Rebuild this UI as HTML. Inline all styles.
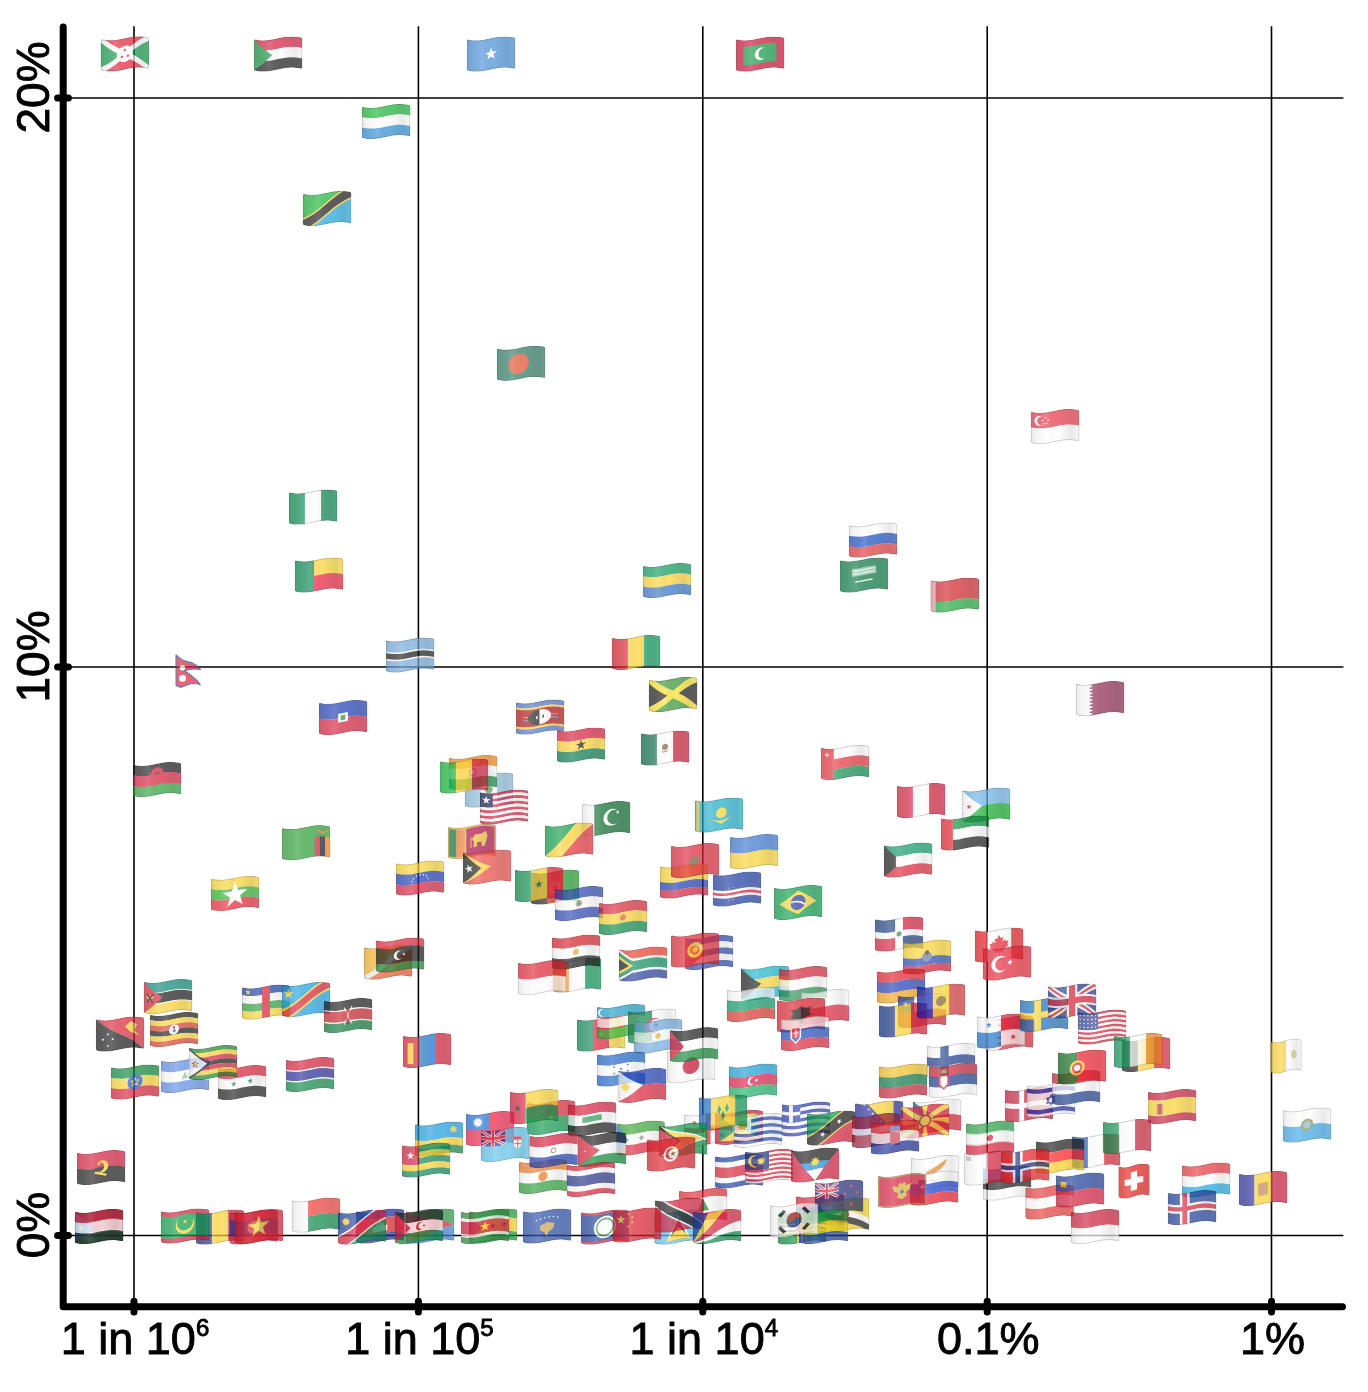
<!DOCTYPE html>
<html><head><meta charset="utf-8"><title>flags</title>
<style>
html,body{margin:0;padding:0;background:#fff}
svg{display:block}
.t text{font-family:"Liberation Sans",sans-serif;font-size:45px;fill:#000;stroke:#000;stroke-width:.9px}
.t .y{font-size:46px}
.t .s{font-size:24px}
.o{fill:url(#sh);stroke:#000;stroke-opacity:.24;stroke-width:1.8}
</style></head><body>
<svg width="1368" height="1392" viewBox="0 0 1368 1392">
<rect width="1368" height="1392" fill="#fff"/>
<defs><polygon id="pc" points="0.0,4.5 0.5,3.4 1.6,3.2 5.4,3.8 9.2,4.0 12.9,3.9 16.7,3.4 20.5,2.7 24.3,1.9 28.1,1.1 31.9,0.4 35.6,0.1 39.4,0.0 43.2,0.3 47.0,0.9 48.1,1.7 48.6,2.9 48.6,30.9 48.1,32.0 47.0,32.1 43.2,31.5 39.4,31.2 35.7,31.3 31.9,31.6 28.1,32.3 24.3,33.1 20.5,33.9 16.7,34.6 13.0,35.1 9.2,35.2 5.4,35.0 1.6,34.4 0.5,33.7 0.0,32.5"/><polygon id="pd" points="0.0,4.5 0.5,3.4 1.6,3.4 3.9,3.8 6.3,4.0 8.6,3.8 11.0,3.4 13.3,2.7 15.7,1.9 18.0,1.1 20.3,0.5 22.7,0.1 25.0,0.0 27.4,0.3 29.7,0.8 30.8,1.7 31.3,2.9 31.3,30.9 30.8,32.0 29.7,32.0 27.4,31.5 25.0,31.2 22.7,31.3 20.3,31.7 18.0,32.3 15.7,33.1 13.3,33.9 11.0,34.6 8.6,35.0 6.3,35.2 3.9,35.0 1.6,34.6 0.5,33.7 0.0,32.5"/><clipPath id="c"><use href="#pc"/></clipPath><clipPath id="d"><use href="#pd"/></clipPath></defs>
<defs><linearGradient id="sh" x1="0" y1="0" x2="1" y2="0"><stop offset="0" stop-color="#000" stop-opacity=".14"/><stop offset=".1" stop-color="#000" stop-opacity=".06"/><stop offset=".32" stop-color="#fff" stop-opacity=".1"/><stop offset=".55" stop-color="#000" stop-opacity="0"/><stop offset=".85" stop-color="#000" stop-opacity=".12"/><stop offset="1" stop-color="#000" stop-opacity=".03"/></linearGradient></defs>
<g stroke="#000" stroke-width="1.6"><line x1="134.0" y1="26.3" x2="134.0" y2="1306.7"/><line x1="418.4" y1="26.3" x2="418.4" y2="1306.7"/><line x1="702.8" y1="26.3" x2="702.8" y2="1306.7"/><line x1="987.2" y1="26.3" x2="987.2" y2="1306.7"/><line x1="1271.5" y1="26.3" x2="1271.5" y2="1306.7"/><line x1="63.2" y1="98.0" x2="1343.4" y2="98.0"/><line x1="63.2" y1="667.0" x2="1343.4" y2="667.0"/><line x1="63.2" y1="1235.5" x2="1343.4" y2="1235.5"/></g>
<g id="flags">
<g transform="translate(100.6,36.3)" opacity="0.72" clip-path="url(#c)"><polygon points="0,2.9 6.1,3.8 12.2,3.9 18.2,3.2 24.3,1.9 30.4,0.7 36.5,0 42.5,0.3 48.6,1.3 48.6,32.5 42.5,31.5 36.5,31.2 30.4,31.9 24.3,33.1 18.2,34.4 12.2,35.1 6.1,35 0,34.1" fill="#149A48"/><polygon points="48.6,1.3 42.5,4.2 36.5,7.8 30.4,12.4 24.3,17.5 18.2,14.9 12.2,11.7 6.1,7.7 0,2.9 6.1,3.8 12.2,3.9 18.2,3.2 24.3,1.9 30.4,0.7 36.5,0 42.5,0.3" fill="#E4253A"/><polygon points="48.6,32.5 42.5,27.6 36.5,23.4 30.4,20.2 24.3,17.5 18.2,22.7 12.2,27.3 6.1,31.1 0,34.1 6.1,35 12.2,35.1 18.2,34.4 24.3,33.1 30.4,31.9 36.5,31.2 42.5,31.5" fill="#E4253A"/><polygon points="4.6,3.7 0,2.9 0,5.9 6.3,10.9 12.6,14.9 18.8,18.1 25.1,20.8 31.4,23.6 37.7,27.2 44,31.6 48.6,32.5 48.6,29.5 42.3,24.4 36,20.2 29.8,16.9 23.5,14.2 17.2,11.4 10.9,8" fill="#FFFFFF"/><polygon points="44,0.4 37.7,4 31.4,8.6 25.1,13.8 18.8,19.2 12.6,24.1 6.3,28.1 0,31.2 0,34.1 4.6,34.9 10.9,31.1 17.2,26.5 23.5,21.2 29.8,15.8 36,11.1 42.3,7.2 48.6,4.2 48.6,1.3" fill="#FFFFFF"/><polygon points="24.3,25.6 21.2,25.7 18.6,24.4 16.8,22.1 16.2,19.1 16.8,15.9 18.6,13 21.2,10.7 24.3,9.4 27.4,9.3 30,10.6 31.8,12.9 32.4,16 31.8,19.2 30,22.1 27.4,24.3" fill="#FFFFFF"/><polygon points="24.3,15 23.8,15 23.4,14.8 23.1,14.5 23.1,14 23.1,13.5 23.4,13.1 23.8,12.7 24.3,12.5 24.8,12.5 25.2,12.7 25.5,13 25.5,13.5 25.5,14 25.2,14.4 24.8,14.8" fill="#E4253A"/><polygon points="21.4,21.9 20.9,21.9 20.5,21.7 20.2,21.4 20.1,20.9 20.2,20.4 20.5,19.9 20.9,19.6 21.4,19.4 21.9,19.4 22.3,19.6 22.5,19.9 22.6,20.4 22.5,20.9 22.3,21.3 21.9,21.7" fill="#E4253A"/><polygon points="27.2,20.6 26.7,20.6 26.3,20.4 26.1,20.1 26,19.6 26.1,19.1 26.3,18.7 26.7,18.3 27.2,18.1 27.7,18.1 28.1,18.3 28.4,18.6 28.5,19.1 28.4,19.6 28.1,20.1 27.7,20.4" fill="#E4253A"/><use href="#pc" class="o"/></g>
<g transform="translate(253.7,36.4)" opacity="0.72" clip-path="url(#c)"><polygon points="0,2.9 6.1,3.8 12.2,3.9 18.2,3.2 24.3,1.9 30.4,0.7 36.5,0 42.5,0.3 48.6,1.3 48.6,11.8 42.5,10.8 36.5,10.6 30.4,11.2 24.3,12.4 18.2,13.7 12.2,14.5 6.1,14.4 0,13.5" fill="#D8203F"/><polygon points="0,13.3 6.1,14.2 12.2,14.3 18.2,13.6 24.3,12.3 30.4,11.1 36.5,10.4 42.5,10.7 48.6,11.7 48.6,22.2 42.5,21.2 36.5,21 30.4,21.6 24.3,22.8 18.2,24.1 12.2,24.9 6.1,24.8 0,23.9" fill="#FFFFFF"/><polygon points="0,34.1 0,23.7 6.1,24.6 12.2,24.7 18.2,24 24.3,22.7 30.4,21.5 36.5,20.8 42.5,21.1 48.6,22.1 48.6,32.5 42.5,31.5 36.5,31.2 30.4,31.9 24.3,33.1 18.2,34.4 12.2,35.1 6.1,35" fill="#1E1E1E"/><polygon points="18.5,18.7 12.3,24.7 6.2,29.8 0,34.1 0,2.9 6.2,9 12.3,14.3" fill="#14913F"/><use href="#pc" class="o"/></g>
<g transform="translate(466.7,36.4)" opacity="0.72" clip-path="url(#c)"><polygon points="0,2.9 6.1,3.8 12.2,3.9 18.2,3.2 24.3,1.9 30.4,0.7 36.5,0 42.5,0.3 48.6,1.3 48.6,32.5 42.5,31.5 36.5,31.2 30.4,31.9 24.3,33.1 18.2,34.4 12.2,35.1 6.1,35 0,34.1" fill="#4A90D9"/><polygon points="28,21.8 24.3,20 20.6,23.3 21.9,18.8 18.4,16.8 22.8,15.8 24.3,11.3 25.8,15.1 30.2,14.4 26.7,17.7" fill="#FFFFFF"/><use href="#pc" class="o"/></g>
<g transform="translate(735.7,36.4)" opacity="0.72" clip-path="url(#c)"><polygon points="0,2.9 6.1,3.8 12.2,3.9 18.2,3.2 24.3,1.9 30.4,0.7 36.5,0 42.5,0.3 48.6,1.3 48.6,32.5 42.5,31.5 36.5,31.2 30.4,31.9 24.3,33.1 18.2,34.4 12.2,35.1 6.1,35 0,34.1" fill="#D2143A"/><polygon points="7.8,10.2 13.3,10.1 18.8,9.3 24.3,8.1 29.8,7 35.3,6.3 40.8,6.3 40.8,25.1 35.3,25 29.8,25.7 24.3,26.9 18.8,28 13.3,28.8 7.8,28.9" fill="#149A48"/><polygon points="25.3,23.5 22.9,23.6 20.9,22.7 19.5,20.9 19,18.6 19.5,16.1 20.9,13.8 22.9,12 25.3,11 27.7,11 29.7,12 31,13.8 31.5,16.1 31,18.5 29.7,20.8 27.7,22.5" fill="#FFFFFF"/><polygon points="28.1,22 26.1,22 24.3,21.2 23.2,19.8 22.8,17.8 23.2,15.7 24.3,13.7 26.1,12.2 28.1,11.4 30.1,11.4 31.8,12.3 33,13.9 33.4,15.8 33,17.9 31.8,19.8 30.1,21.2" fill="#149A48"/><use href="#pc" class="o"/></g>
<g transform="translate(361.7,103.9)" opacity="0.72" clip-path="url(#c)"><polygon points="0,2.9 6.1,3.8 12.2,3.9 18.2,3.2 24.3,1.9 30.4,0.7 36.5,0 42.5,0.3 48.6,1.3 48.6,11.8 42.5,10.8 36.5,10.6 30.4,11.2 24.3,12.4 18.2,13.7 12.2,14.5 6.1,14.4 0,13.5" fill="#1EB53A"/><polygon points="0,13.3 6.1,14.2 12.2,14.3 18.2,13.6 24.3,12.3 30.4,11.1 36.5,10.4 42.5,10.7 48.6,11.7 48.6,22.2 42.5,21.2 36.5,21 30.4,21.6 24.3,22.8 18.2,24.1 12.2,24.9 6.1,24.8 0,23.9" fill="#FFFFFF"/><polygon points="0,34.1 0,23.7 6.1,24.6 12.2,24.7 18.2,24 24.3,22.7 30.4,21.5 36.5,20.8 42.5,21.1 48.6,22.1 48.6,32.5 42.5,31.5 36.5,31.2 30.4,31.9 24.3,33.1 18.2,34.4 12.2,35.1 6.1,35" fill="#2E8FD6"/><use href="#pc" class="o"/></g>
<g transform="translate(302.7,190.9)" opacity="0.72" clip-path="url(#c)"><polygon points="48.6,1.3 42.5,4.2 36.5,7.8 30.4,12.4 24.3,17.5 18.2,22.7 12.2,27.3 6.1,31.1 0,34.1 0,2.9 6.1,3.8 12.2,3.9 18.2,3.2 24.3,1.9 30.4,0.7 36.5,0 42.5,0.3" fill="#1EB53A"/><polygon points="48.6,32.5 42.5,31.5 36.5,31.2 30.4,31.9 24.3,33.1 18.2,34.4 12.2,35.1 6.1,35 0,34.1 6.1,31.1 12.2,27.3 18.2,22.7 24.3,17.5 30.4,12.4 36.5,7.8 42.5,4.2 48.6,1.3" fill="#24A8E0"/><polygon points="38.2,0 32.7,3.8 27.3,8.3 21.8,12.9 16.4,17.5 10.9,21.5 5.5,24.8 0,27.5 0,34.1 5.2,35 10.4,35.2 15.9,31.2 21.3,26.7 26.8,22 32.2,17.6 37.7,13.7 43.1,10.5 48.6,7.9 48.6,1.3 43.4,0.4" fill="#FCD535"/><polygon points="41.1,0.1 35.2,3.9 29.4,8.4 23.5,13.4 17.6,18.3 11.7,22.8 5.9,26.4 0,29.3 0,34.1 3.8,34.8 7.5,35.1 13.4,31.3 19.2,26.6 25.1,21.6 31,16.7 36.9,12.4 42.7,8.9 48.6,6.1 48.6,1.3 44.8,0.6" fill="#1E1E1E"/><use href="#pc" class="o"/></g>
<g transform="translate(496.7,345.7)" opacity="0.72" clip-path="url(#c)"><polygon points="0,2.9 6.1,3.8 12.2,3.9 18.2,3.2 24.3,1.9 30.4,0.7 36.5,0 42.5,0.3 48.6,1.3 48.6,32.5 42.5,31.5 36.5,31.2 30.4,31.9 24.3,33.1 18.2,34.4 12.2,35.1 6.1,35 0,34.1" fill="#2F7B66"/><polygon points="21.9,28.3 17.9,28.3 14.6,26.6 12.4,23.5 11.6,19.6 12.4,15.6 14.6,12 17.9,9.3 21.9,7.7 25.8,7.6 29.2,9.2 31.4,12.2 32.2,16 31.4,20 29.2,23.8 25.8,26.7" fill="#E3512F"/><use href="#pc" class="o"/></g>
<g transform="translate(1030.7,408.9)" opacity="0.72" clip-path="url(#c)"><polygon points="0,2.9 6.1,3.8 12.2,3.9 18.2,3.2 24.3,1.9 30.4,0.7 36.5,0 42.5,0.3 48.6,1.3 48.6,17 42.5,16 36.5,15.8 30.4,16.4 24.3,17.6 18.2,18.9 12.2,19.7 6.1,19.6 0,18.7" fill="#E8394A"/><polygon points="0,34.1 0,18.5 6.1,19.4 12.2,19.5 18.2,18.8 24.3,17.5 30.4,16.3 36.5,15.6 42.5,15.9 48.6,16.9 48.6,32.5 42.5,31.5 36.5,31.2 30.4,31.9 24.3,33.1 18.2,34.4 12.2,35.1 6.1,35" fill="#FFFFFF"/><polygon points="8.7,17.1 6.8,16.6 5.2,15.4 4.1,13.6 3.8,11.7 4.1,9.8 5.2,8.3 6.8,7.4 8.7,7.1 10.7,7.5 12.3,8.5 13.4,10 13.7,11.9 13.4,13.9 12.3,15.6 10.7,16.7" fill="#FFFFFF"/><polygon points="10.7,16.3 9.1,16 7.7,15.1 6.8,13.6 6.5,12 6.8,10.4 7.7,9.1 9.1,8.2 10.7,7.9 12.4,8.1 13.7,8.9 14.7,10.2 15,11.8 14.7,13.4 13.7,14.9 12.4,15.9" fill="#E8394A"/><polygon points="14.6,9.8 14.3,9.8 14,9.6 13.9,9.4 13.8,9.1 13.9,8.8 14,8.5 14.3,8.3 14.6,8.2 14.9,8.3 15.1,8.4 15.3,8.6 15.4,8.9 15.3,9.2 15.1,9.5 14.9,9.7" fill="#FFFFFF"/><polygon points="11.7,12.5 11.4,12.5 11.1,12.3 10.9,12.1 10.9,11.8 10.9,11.5 11.1,11.2 11.4,11 11.7,11 12,11 12.2,11.2 12.4,11.4 12.4,11.7 12.4,12 12.2,12.3 12,12.5" fill="#FFFFFF"/><polygon points="17.5,11.9 17.2,11.9 16.9,11.7 16.8,11.5 16.7,11.2 16.8,10.9 16.9,10.6 17.2,10.4 17.5,10.3 17.8,10.3 18,10.4 18.2,10.7 18.3,11 18.2,11.3 18,11.6 17.8,11.8" fill="#FFFFFF"/><polygon points="13.1,15.6 12.8,15.5 12.6,15.4 12.4,15.1 12.3,14.8 12.4,14.5 12.6,14.3 12.8,14.1 13.1,14 13.4,14 13.7,14.2 13.8,14.4 13.9,14.7 13.8,15 13.7,15.3 13.4,15.5" fill="#FFFFFF"/><polygon points="16,15.2 15.7,15.2 15.5,15.1 15.3,14.8 15.3,14.6 15.3,14.2 15.5,14 15.7,13.8 16,13.7 16.3,13.7 16.6,13.8 16.8,14 16.8,14.3 16.8,14.6 16.6,14.9 16.3,15.1" fill="#FFFFFF"/><use href="#pc" class="o"/></g>
<g transform="translate(288.7,489.4)" opacity="0.72" clip-path="url(#c)"><polygon points="0,2.9 5.5,3.8 10.9,4 16.4,3.5 16.4,34.7 10.9,35.2 5.5,35 0,34.1" fill="#078A52"/><polygon points="16.2,3.5 21.7,2.5 27.1,1.3 32.6,0.3 32.6,31.5 27.1,32.5 21.7,33.7 16.2,34.7" fill="#FFFFFF"/><polygon points="32.4,0.4 37.8,0 43.2,0.3 48.6,1.3 48.6,32.5 43.2,31.5 37.8,31.2 32.4,31.6" fill="#078A52"/><use href="#pc" class="o"/></g>
<g transform="translate(848.7,522.4)" opacity="0.72" clip-path="url(#c)"><polygon points="0,2.9 6.1,3.8 12.2,3.9 18.2,3.2 24.3,1.9 30.4,0.7 36.5,0 42.5,0.3 48.6,1.3 48.6,11.8 42.5,10.8 36.5,10.6 30.4,11.2 24.3,12.4 18.2,13.7 12.2,14.5 6.1,14.4 0,13.5" fill="#FFFFFF"/><polygon points="0,13.3 6.1,14.2 12.2,14.3 18.2,13.6 24.3,12.3 30.4,11.1 36.5,10.4 42.5,10.7 48.6,11.7 48.6,22.2 42.5,21.2 36.5,21 30.4,21.6 24.3,22.8 18.2,24.1 12.2,24.9 6.1,24.8 0,23.9" fill="#1C4FC0"/><polygon points="0,34.1 0,23.7 6.1,24.6 12.2,24.7 18.2,24 24.3,22.7 30.4,21.5 36.5,20.8 42.5,21.1 48.6,22.1 48.6,32.5 42.5,31.5 36.5,31.2 30.4,31.9 24.3,33.1 18.2,34.4 12.2,35.1 6.1,35" fill="#E03A3C"/><use href="#pc" class="o"/></g>
<g transform="translate(839.7,557.4)" opacity="0.72" clip-path="url(#c)"><polygon points="0,2.9 6.1,3.8 12.2,3.9 18.2,3.2 24.3,1.9 30.4,0.7 36.5,0 42.5,0.3 48.6,1.3 48.6,32.5 42.5,31.5 36.5,31.2 30.4,31.9 24.3,33.1 18.2,34.4 12.2,35.1 6.1,35 0,34.1" fill="#0B7A45"/><polygon points="12.2,11.7 18.2,11 24.3,9.7 30.4,8.5 36.5,7.8 36.5,15.6 30.4,16.3 24.3,17.5 18.2,18.8 12.2,19.5" fill="#7FBF9F"/><polygon points="13.1,13.2 18.7,12.4 24.3,11.3 29.9,10.1 35.5,9.4 35.5,11 29.9,11.7 24.3,12.8 18.7,14 13.1,14.8" fill="#D8EEE0"/><polygon points="13.1,16.3 18.7,15.6 24.3,14.4 29.9,13.2 35.5,12.6 35.5,14.1 29.9,14.8 24.3,15.9 18.7,17.1 13.1,17.9" fill="#D8EEE0"/><polygon points="15.6,24.2 21.4,23.1 27.2,21.9 33,20.9 33,22.1 27.2,23.1 21.4,24.4 15.6,25.4" fill="#FFFFFF"/><use href="#pc" class="o"/></g>
<g transform="translate(294.7,557.4)" opacity="0.72" clip-path="url(#c)"><polygon points="0,2.9 4.9,3.7 9.8,4 14.7,3.7 19.6,2.9 19.6,34.1 14.7,34.9 9.8,35.2 4.9,34.9 0,34.1" fill="#078A52"/><polygon points="19.4,2.9 25.3,1.7 31.1,0.5 36.9,0 42.8,0.3 48.6,1.3 48.6,17 42.8,16 36.9,15.7 31.1,16.3 25.3,17.4 19.4,18.7" fill="#FCD535"/><polygon points="19.4,34.1 19.4,18.5 25.3,17.3 31.1,16.1 36.9,15.6 42.8,15.9 48.6,16.9 48.6,32.5 42.8,31.5 36.9,31.2 31.1,31.7 25.3,32.9" fill="#E8233C"/><use href="#pc" class="o"/></g>
<g transform="translate(642.7,562.9)" opacity="0.72" clip-path="url(#c)"><polygon points="0,2.9 6.1,3.8 12.2,3.9 18.2,3.2 24.3,1.9 30.4,0.7 36.5,0 42.5,0.3 48.6,1.3 48.6,11.8 42.5,10.8 36.5,10.6 30.4,11.2 24.3,12.4 18.2,13.7 12.2,14.5 6.1,14.4 0,13.5" fill="#109E60"/><polygon points="0,13.3 6.1,14.2 12.2,14.3 18.2,13.6 24.3,12.3 30.4,11.1 36.5,10.4 42.5,10.7 48.6,11.7 48.6,22.2 42.5,21.2 36.5,21 30.4,21.6 24.3,22.8 18.2,24.1 12.2,24.9 6.1,24.8 0,23.9" fill="#FCD535"/><polygon points="0,34.1 0,23.7 6.1,24.6 12.2,24.7 18.2,24 24.3,22.7 30.4,21.5 36.5,20.8 42.5,21.1 48.6,22.1 48.6,32.5 42.5,31.5 36.5,31.2 30.4,31.9 24.3,33.1 18.2,34.4 12.2,35.1 6.1,35" fill="#3A75C4"/><use href="#pc" class="o"/></g>
<g transform="translate(930.4,577.4)" opacity="0.72" clip-path="url(#c)"><polygon points="0,2.9 6.1,3.8 12.2,3.9 18.2,3.2 24.3,1.9 30.4,0.7 36.5,0 42.5,0.3 48.6,1.3 48.6,22.2 42.5,21.2 36.5,21 30.4,21.6 24.3,22.8 18.2,24.1 12.2,24.9 6.1,24.8 0,23.9" fill="#D22730"/><polygon points="0,34.1 0,23.7 6.1,24.6 12.2,24.7 18.2,24 24.3,22.7 30.4,21.5 36.5,20.8 42.5,21.1 48.6,22.1 48.6,32.5 42.5,31.5 36.5,31.2 30.4,31.9 24.3,33.1 18.2,34.4 12.2,35.1 6.1,35" fill="#1FAA3C"/><polygon points="0,2.9 5.3,3.8 5.3,35 0,34.1" fill="#EBA0A6"/><use href="#pc" class="o"/></g>
<g transform="translate(611.7,634.9)" opacity="0.72" clip-path="url(#c)"><polygon points="0,2.9 5.5,3.8 10.9,4 16.4,3.5 16.4,34.7 10.9,35.2 5.5,35 0,34.1" fill="#D8222F"/><polygon points="16.2,3.5 21.7,2.5 27.1,1.3 32.6,0.3 32.6,31.5 27.1,32.5 21.7,33.7 16.2,34.7" fill="#FCD535"/><polygon points="32.4,0.4 37.8,0 43.2,0.3 48.6,1.3 48.6,32.5 43.2,31.5 37.8,31.2 32.4,31.6" fill="#0A9A5A"/><use href="#pc" class="o"/></g>
<g transform="translate(385.7,637.4)" opacity="0.72" clip-path="url(#c)"><polygon points="0,2.9 6.1,3.8 12.2,3.9 18.2,3.2 24.3,1.9 30.4,0.7 36.5,0 42.5,0.3 48.6,1.3 48.6,32.5 42.5,31.5 36.5,31.2 30.4,31.9 24.3,33.1 18.2,34.4 12.2,35.1 6.1,35 0,34.1" fill="#75AADB"/><polygon points="0,14.2 6.1,15.1 12.2,15.2 18.2,14.4 24.3,13.1 30.4,11.9 36.5,11.3 42.5,11.5 48.6,12.5 48.6,21.2 42.5,20.2 36.5,20 30.4,20.6 24.3,21.9 18.2,23.1 12.2,23.9 6.1,23.8 0,22.9" fill="#FFFFFF"/><polygon points="0,15.7 6.1,16.6 12.2,16.7 18.2,16 24.3,14.7 30.4,13.5 36.5,12.8 42.5,13.1 48.6,14.1 48.6,19.7 42.5,18.7 36.5,18.4 30.4,19.1 24.3,20.3 18.2,21.6 12.2,22.3 6.1,22.2 0,21.3" fill="#1E1E1E"/><use href="#pc" class="o"/></g>
<g transform="translate(1075.7,680.9)" opacity="0.72" clip-path="url(#c)"><polygon points="0,2.9 6.1,3.8 12.2,3.9 18.2,3.2 24.3,1.9 30.4,0.7 36.5,0 42.5,0.3 48.6,1.3 48.6,32.5 42.5,31.5 36.5,31.2 30.4,31.9 24.3,33.1 18.2,34.4 12.2,35.1 6.1,35 0,34.1" fill="#8F2A50"/><polygon points="17.5,8.5 13.1,10.8 17.5,12 13.1,14.3 17.5,15.4 13.1,17.7 17.5,18.9 13.1,21.2 17.5,22.4 13.1,24.7 17.5,25.8 13.1,28.1 17.5,29.3 13.1,31.6 17.5,32.8 13.1,35.1 8.7,35.2 4.4,34.9 0,34.1 0,2.9 4.4,3.7 8.7,4 13.1,3.9 17.5,5 13.1,7.3" fill="#FFFFFF"/><use href="#pc" class="o"/></g>
<g transform="translate(648.7,676.9)" opacity="0.72" clip-path="url(#c)"><polygon points="0,2.9 6.1,3.8 12.2,3.9 18.2,3.2 24.3,1.9 30.4,0.7 36.5,0 42.5,0.3 48.6,1.3 48.6,32.5 42.5,31.5 36.5,31.2 30.4,31.9 24.3,33.1 18.2,34.4 12.2,35.1 6.1,35 0,34.1" fill="#1E1E1E"/><polygon points="48.6,1.3 42.5,4.2 36.5,7.8 30.4,12.4 24.3,17.5 18.2,14.9 12.2,11.7 6.1,7.7 0,2.9 6.1,3.8 12.2,3.9 18.2,3.2 24.3,1.9 30.4,0.7 36.5,0 42.5,0.3" fill="#369736"/><polygon points="48.6,32.5 42.5,27.6 36.5,23.4 30.4,20.2 24.3,17.5 18.2,22.7 12.2,27.3 6.1,31.1 0,34.1 6.1,35 12.2,35.1 18.2,34.4 24.3,33.1 30.4,31.9 36.5,31.2 42.5,31.5" fill="#369736"/><polygon points="5.8,3.8 0,2.9 0,6.6 6.1,11.5 12.2,15.5 18.4,18.6 24.5,21.3 30.6,24 36.7,27.3 42.8,31.5 48.6,32.5 48.6,28.8 42.5,23.8 36.4,19.7 30.2,16.4 24.1,13.7 18,11.1 11.9,7.9" fill="#FDE030"/><polygon points="42.8,0.3 36.7,3.9 30.6,8.5 24.5,13.6 18.4,18.9 12.2,23.6 6.1,27.4 0,30.4 0,34.1 5.8,35 11.9,31.2 18,26.6 24.1,21.3 30.2,16.2 36.4,11.6 42.5,7.9 48.6,5 48.6,1.3" fill="#FDE030"/><use href="#pc" class="o"/></g>
<g transform="translate(318.7,699.9)" opacity="0.72" clip-path="url(#c)"><polygon points="0,2.9 6.1,3.8 12.2,3.9 18.2,3.2 24.3,1.9 30.4,0.7 36.5,0 42.5,0.3 48.6,1.3 48.6,17 42.5,16 36.5,15.8 30.4,16.4 24.3,17.6 18.2,18.9 12.2,19.7 6.1,19.6 0,18.7" fill="#1F3FB5"/><polygon points="0,34.1 0,18.5 6.1,19.4 12.2,19.5 18.2,18.8 24.3,17.5 30.4,16.3 36.5,15.6 42.5,15.9 48.6,16.9 48.6,32.5 42.5,31.5 36.5,31.2 30.4,31.9 24.3,33.1 18.2,34.4 12.2,35.1 6.1,35" fill="#D8213F"/><polygon points="19.4,14.2 24.3,13.1 29.2,12.1 29.2,20.8 24.3,21.9 19.4,22.9" fill="#FFFFFF"/><polygon points="21.9,15.5 26.7,14.5 26.7,19.5 21.9,20.5" fill="#3E8E4A"/><use href="#pc" class="o"/></g>
<g transform="translate(515.7,699.4)" opacity="0.72" clip-path="url(#c)"><polygon points="0,2.9 6.1,3.8 12.2,3.9 18.2,3.2 24.3,1.9 30.4,0.7 36.5,0 42.5,0.3 48.6,1.3 48.6,6.5 42.5,5.5 36.5,5.2 30.4,5.9 24.3,7.1 18.2,8.4 12.2,9.1 6.1,9 0,8.1" fill="#5275C8"/><polygon points="0,8 6.1,8.9 12.2,9 18.2,8.2 24.3,7 30.4,5.7 36.5,5.1 42.5,5.3 48.6,6.3 48.6,8.4 42.5,7.4 36.5,7.2 30.4,7.8 24.3,9 18.2,10.3 12.2,11.1 6.1,11 0,10.1" fill="#FCD535"/><polygon points="0,10 6.1,10.9 12.2,10.9 18.2,10.2 24.3,8.9 30.4,7.7 36.5,7 42.5,7.3 48.6,8.3 48.6,25.6 42.5,24.6 36.5,24.3 30.4,25 24.3,26.2 18.2,27.5 12.2,28.2 6.1,28.1 0,27.2" fill="#B8161A"/><polygon points="0,27.1 6.1,28 12.2,28.1 18.2,27.3 24.3,26.1 30.4,24.8 36.5,24.2 42.5,24.4 48.6,25.4 48.6,27.5 42.5,26.5 36.5,26.3 30.4,26.9 24.3,28.1 18.2,29.4 12.2,30.2 6.1,30.1 0,29.2" fill="#FCD535"/><polygon points="0,34.1 0,29.1 6.1,30 12.2,30.1 18.2,29.3 24.3,28 30.4,26.8 36.5,26.2 42.5,26.4 48.6,27.4 48.6,32.5 42.5,31.5 36.5,31.2 30.4,31.9 24.3,33.1 18.2,34.4 12.2,35.1 6.1,35" fill="#5275C8"/><polygon points="7.3,17.7 13.1,17.6 19,16.8 24.8,15.5 30.6,14.4 36.5,13.8 42.3,14 42.3,14.9 36.5,14.7 30.6,15.3 24.8,16.4 19,17.7 13.1,18.5 7.3,18.6" fill="#C9A36A"/><polygon points="7.3,20.8 13.1,20.7 19,19.9 24.8,18.6 30.6,17.5 36.5,16.9 42.3,17.1 42.3,18 36.5,17.8 30.6,18.4 24.8,19.6 19,20.8 13.1,21.6 7.3,21.7" fill="#C9A36A"/><polygon points="12.2,19.5 13,16.6 15.6,13.9 19.4,11.6 23.8,10.1 23.8,25.1 19.4,25.5 15.6,24.5 13,22.3" fill="#1E1E1E"/><polygon points="35.5,15.7 34.6,18.6 32.1,21.3 28.3,23.6 23.8,25.1 23.8,10.1 28.3,9.7 32.1,10.7 34.6,12.9" fill="#FFFFFF"/><polygon points="20.4,16.8 21.9,16.5 21.9,19.6 20.4,19.9" fill="#FFFFFF"/><polygon points="26.7,15.4 28.2,15.1 28.2,18.2 26.7,18.5" fill="#1E1E1E"/><polygon points="9.7,23.7 9.1,23.5 8.6,23.2 8.3,22.7 8.2,22.1 8.3,21.5 8.6,21 9.1,20.7 9.7,20.5 10.3,20.7 10.8,21 11.2,21.5 11.3,22.1 11.2,22.7 10.8,23.2 10.3,23.5" fill="#3E5EB9"/><polygon points="39.9,19.7 39.3,19.6 38.7,19.2 38.4,18.7 38.3,18.1 38.4,17.5 38.7,17 39.3,16.7 39.9,16.6 40.4,16.7 41,17.1 41.3,17.6 41.4,18.2 41.3,18.8 41,19.3 40.4,19.6" fill="#3E5EB9"/><use href="#pc" class="o"/></g>
<g transform="translate(556.7,727.4)" opacity="0.72" clip-path="url(#c)"><polygon points="0,2.9 6.1,3.8 12.2,3.9 18.2,3.2 24.3,1.9 30.4,0.7 36.5,0 42.5,0.3 48.6,1.3 48.6,11.8 42.5,10.8 36.5,10.6 30.4,11.2 24.3,12.4 18.2,13.7 12.2,14.5 6.1,14.4 0,13.5" fill="#D8213F"/><polygon points="0,13.3 6.1,14.2 12.2,14.3 18.2,13.6 24.3,12.3 30.4,11.1 36.5,10.4 42.5,10.7 48.6,11.7 48.6,22.2 42.5,21.2 36.5,21 30.4,21.6 24.3,22.8 18.2,24.1 12.2,24.9 6.1,24.8 0,23.9" fill="#FCD535"/><polygon points="0,34.1 0,23.7 6.1,24.6 12.2,24.7 18.2,24 24.3,22.7 30.4,21.5 36.5,20.8 42.5,21.1 48.6,22.1 48.6,32.5 42.5,31.5 36.5,31.2 30.4,31.9 24.3,33.1 18.2,34.4 12.2,35.1 6.1,35" fill="#0A7A4D"/><polygon points="27.4,21.1 24.3,19.6 21.2,22.5 22.3,18.6 19.3,16.9 23.1,16.1 24.3,12.2 25.5,15.5 29.3,14.8 26.3,17.7" fill="#1E1E1E"/><use href="#pc" class="o"/></g>
<g transform="translate(640.7,730.4)" opacity="0.72" clip-path="url(#c)"><polygon points="0,2.9 5.5,3.8 10.9,4 16.4,3.5 16.4,34.7 10.9,35.2 5.5,35 0,34.1" fill="#0A6B4B"/><polygon points="16.2,3.5 21.7,2.5 27.1,1.3 32.6,0.3 32.6,31.5 27.1,32.5 21.7,33.7 16.2,34.7" fill="#FFFFFF"/><polygon points="32.4,0.4 37.8,0 43.2,0.3 48.6,1.3 48.6,32.5 43.2,31.5 37.8,31.2 32.4,31.6" fill="#D01F3C"/><polygon points="24.3,19.7 23.1,19.7 22.1,19.3 21.4,18.4 21.2,17.2 21.4,16 22.1,14.8 23.1,13.9 24.3,13.4 25.5,13.4 26.5,13.9 27.2,14.7 27.4,15.9 27.2,17.1 26.5,18.3 25.5,19.2" fill="#8A6A3A"/><polygon points="26.2,20.2 22.4,21 20.4,19.9 22.4,22.3 26.2,21.4 28.2,18.2" fill="#5A9A4A"/><use href="#pc" class="o"/></g>
<g transform="translate(820.7,744.9)" opacity="0.72" clip-path="url(#c)"><polygon points="13.1,3.9 19,3 24.9,1.7 30.9,0.6 36.8,0 42.7,0.3 48.6,1.3 48.6,11.8 42.7,10.8 36.8,10.5 30.9,11.1 24.9,12.3 19,13.5 13.1,14.4" fill="#FFFFFF"/><polygon points="13.1,14.3 19,13.4 24.9,12.1 30.9,11 36.8,10.4 42.7,10.7 48.6,11.7 48.6,22.2 42.7,21.2 36.8,20.9 30.9,21.5 24.9,22.7 19,23.9 13.1,24.8" fill="#E8333A"/><polygon points="13.1,35.1 13.1,24.7 19,23.8 24.9,22.5 30.9,21.4 36.8,20.8 42.7,21.1 48.6,22.1 48.6,32.5 42.7,31.5 36.8,31.2 30.9,31.8 24.9,32.9 19,34.2" fill="#118C4F"/><polygon points="0,2.9 4.4,3.7 8.7,4 13.1,3.9 13.1,35.1 8.7,35.2 4.4,34.9 0,34.1" fill="#E8333A"/><polygon points="6.3,13.2 5.7,10.7 3.2,9.7 5.7,9.4 6.3,7 7,9.5 9.4,10.2 7,10.8" fill="#FFFFFF"/><use href="#pc" class="o"/></g>
<g transform="translate(132.7,761.9)" opacity="0.72" clip-path="url(#c)"><polygon points="0,2.9 6.1,3.8 12.2,3.9 18.2,3.2 24.3,1.9 30.4,0.7 36.5,0 42.5,0.3 48.6,1.3 48.6,11.8 42.5,10.8 36.5,10.6 30.4,11.2 24.3,12.4 18.2,13.7 12.2,14.5 6.1,14.4 0,13.5" fill="#1E1E1E"/><polygon points="0,13.3 6.1,14.2 12.2,14.3 18.2,13.6 24.3,12.3 30.4,11.1 36.5,10.4 42.5,10.7 48.6,11.7 48.6,22.2 42.5,21.2 36.5,21 30.4,21.6 24.3,22.8 18.2,24.1 12.2,24.9 6.1,24.8 0,23.9" fill="#D8213F"/><polygon points="0,34.1 0,23.7 6.1,24.6 12.2,24.7 18.2,24 24.3,22.7 30.4,21.5 36.5,20.8 42.5,21.1 48.6,22.1 48.6,32.5 42.5,31.5 36.5,31.2 30.4,31.9 24.3,33.1 18.2,34.4 12.2,35.1 6.1,35" fill="#2FA23F"/><polygon points="30,5.3 29,8 31.8,7.6 29.9,9.9 32.4,10.7 29.9,12.2 31.8,13.8 29,14.4 30,16.8 27.5,16.2 27.4,19 25.4,17.5 24.3,20.3 23.2,18 21.2,20.4 21.1,17.6 18.6,19.1 19.6,16.4 16.8,16.8 18.7,14.5 16.2,13.8 18.7,12.3 16.8,10.6 19.6,10.1 18.6,7.7 21.1,8.2 21.2,5.4 23.2,6.9 24.3,4.1 25.4,6.4 27.4,4 27.5,6.8" fill="#D8213F"/><polygon points="24.3,17.5 22.3,17.5 20.5,16.8 19.4,15.3 19,13.3 19.4,11.2 20.5,9.3 22.3,7.7 24.3,6.9 26.3,6.8 28.1,7.6 29.2,9.1 29.6,11.1 29.2,13.2 28.1,15.1 26.3,16.6" fill="#D8213F"/><polygon points="24.3,15.3 23.1,15.3 22.1,14.9 21.4,14 21.2,12.9 21.4,11.6 22.1,10.5 23.1,9.6 24.3,9.1 25.5,9 26.5,9.5 27.2,10.4 27.4,11.5 27.2,12.8 26.5,13.9 25.5,14.8" fill="#8A2030"/><polygon points="0,13.3 6.1,14.2 12.2,14.3 18.2,13.6 24.3,12.3 30.4,11.1 36.5,10.4 42.5,10.6 48.6,11.6 48.6,22.3 42.5,21.3 36.5,21 30.4,21.7 24.3,22.9 18.2,24.2 12.2,24.9 6.1,24.8 0,23.9" fill="#D8213F"/><use href="#pc" class="o"/></g>
<g transform="translate(464.7,772.4)" opacity="0.72" clip-path="url(#c)"><polygon points="0,2.9 5.5,3.8 10.9,4 16.4,3.5 16.4,34.7 10.9,35.2 5.5,35 0,34.1" fill="#8DBEDB"/><polygon points="16.2,3.5 21.7,2.5 27.1,1.3 32.6,0.3 32.6,31.5 27.1,32.5 21.7,33.7 16.2,34.7" fill="#FFFFFF"/><polygon points="32.4,0.4 37.8,0 43.2,0.3 48.6,1.3 48.6,32.5 43.2,31.5 37.8,31.2 32.4,31.6" fill="#8DBEDB"/><polygon points="24.3,21.2 22.9,21.3 21.7,20.7 20.8,19.7 20.6,18.3 20.8,16.8 21.7,15.4 22.9,14.4 24.3,13.7 25.7,13.7 26.9,14.3 27.8,15.3 28,16.7 27.8,18.2 26.9,19.6 25.7,20.6" fill="#5E9B5E"/><use href="#pc" class="o"/></g>
<g transform="translate(448.7,754.9)" opacity="0.72" clip-path="url(#c)"><polygon points="0,2.9 6.1,3.8 12.2,3.9 18.2,3.2 24.3,1.9 30.4,0.7 36.5,0 42.5,0.3 48.6,1.3 48.6,11.8 42.5,10.8 36.5,10.6 30.4,11.2 24.3,12.4 18.2,13.7 12.2,14.5 6.1,14.4 0,13.5" fill="#F58A1F"/><polygon points="0,13.3 6.1,14.2 12.2,14.3 18.2,13.6 24.3,12.3 30.4,11.1 36.5,10.4 42.5,10.7 48.6,11.7 48.6,22.2 42.5,21.2 36.5,21 30.4,21.6 24.3,22.8 18.2,24.1 12.2,24.9 6.1,24.8 0,23.9" fill="#FFFFFF"/><polygon points="0,34.1 0,23.7 6.1,24.6 12.2,24.7 18.2,24 24.3,22.7 30.4,21.5 36.5,20.8 42.5,21.1 48.6,22.1 48.6,32.5 42.5,31.5 36.5,31.2 30.4,31.9 24.3,33.1 18.2,34.4 12.2,35.1 6.1,35" fill="#128A3C"/><polygon points="24.3,21.5 22.7,21.6 21.4,21 20.6,19.9 20.2,18.4 20.6,16.8 21.4,15.3 22.7,14.1 24.3,13.4 25.9,13.4 27.2,14 28,15.1 28.4,16.6 28,18.2 27.2,19.7 25.9,20.9" fill="#4A3FB5"/><polygon points="24.3,20.3 23.2,20.3 22.3,19.9 21.7,19.1 21.5,18.1 21.7,17 22.3,15.9 23.2,15.1 24.3,14.7 25.4,14.7 26.3,15.1 26.9,15.9 27.1,16.9 26.9,18 26.3,19 25.4,19.8" fill="#FFFFFF"/><use href="#pc" class="o"/></g>
<g transform="translate(439.7,758.4)" opacity="0.72" clip-path="url(#c)"><polygon points="0,2.9 5.5,3.8 10.9,4 16.4,3.5 16.4,34.7 10.9,35.2 5.5,35 0,34.1" fill="#14B53A"/><polygon points="16.2,3.5 21.7,2.5 27.1,1.3 32.6,0.3 32.6,31.5 27.1,32.5 21.7,33.7 16.2,34.7" fill="#FCD535"/><polygon points="32.4,0.4 37.8,0 43.2,0.3 48.6,1.3 48.6,32.5 43.2,31.5 37.8,31.2 32.4,31.6" fill="#D8213F"/><use href="#pc" class="o"/></g>
<g transform="translate(479.7,789.4)" opacity="0.72" clip-path="url(#c)"><polygon points="0,2.9 6.1,3.8 12.2,3.9 18.2,3.2 24.3,1.9 30.4,0.7 36.5,0 42.5,0.3 48.6,1.3 48.6,4.2 42.5,3.2 36.5,3 30.4,3.6 24.3,4.9 18.2,6.1 12.2,6.9 6.1,6.8 0,5.9" fill="#D8213F"/><polygon points="0,5.8 6.1,6.7 12.2,6.8 18.2,6 24.3,4.7 30.4,3.5 36.5,2.9 42.5,3.1 48.6,4.1 48.6,7.1 42.5,6.1 36.5,5.8 30.4,6.5 24.3,7.7 18.2,9 12.2,9.7 6.1,9.6 0,8.7" fill="#FFFFFF"/><polygon points="0,8.6 6.1,9.5 12.2,9.6 18.2,8.8 24.3,7.6 30.4,6.3 36.5,5.7 42.5,5.9 48.6,6.9 48.6,9.9 42.5,8.9 36.5,8.7 30.4,9.3 24.3,10.5 18.2,11.8 12.2,12.6 6.1,12.5 0,11.6" fill="#D8213F"/><polygon points="0,11.4 6.1,12.3 12.2,12.4 18.2,11.7 24.3,10.4 30.4,9.2 36.5,8.5 42.5,8.8 48.6,9.8 48.6,12.7 42.5,11.7 36.5,11.5 30.4,12.1 24.3,13.4 18.2,14.6 12.2,15.4 6.1,15.3 0,14.4" fill="#FFFFFF"/><polygon points="0,14.3 6.1,15.2 12.2,15.3 18.2,14.5 24.3,13.2 30.4,12 36.5,11.4 42.5,11.6 48.6,12.6 48.6,15.6 42.5,14.6 36.5,14.3 30.4,15 24.3,16.2 18.2,17.5 12.2,18.2 6.1,18.1 0,17.2" fill="#D8213F"/><polygon points="0,17.1 6.1,18 12.2,18.1 18.2,17.3 24.3,16.1 30.4,14.8 36.5,14.2 42.5,14.4 48.6,15.4 48.6,18.4 42.5,17.4 36.5,17.2 30.4,17.8 24.3,19 18.2,20.3 12.2,21.1 6.1,21 0,20.1" fill="#FFFFFF"/><polygon points="0,20 6.1,20.9 12.2,20.9 18.2,20.2 24.3,18.9 30.4,17.7 36.5,17 42.5,17.3 48.6,18.3 48.6,21.2 42.5,20.2 36.5,20 30.4,20.6 24.3,21.9 18.2,23.1 12.2,23.9 6.1,23.8 0,22.9" fill="#D8213F"/><polygon points="0,22.8 6.1,23.7 12.2,23.8 18.2,23 24.3,21.7 30.4,20.5 36.5,19.9 42.5,20.1 48.6,21.1 48.6,24.1 42.5,23.1 36.5,22.8 30.4,23.5 24.3,24.7 18.2,26 12.2,26.7 6.1,26.7 0,25.8" fill="#FFFFFF"/><polygon points="0,25.6 6.1,26.5 12.2,26.6 18.2,25.9 24.3,24.6 30.4,23.4 36.5,22.7 42.5,22.9 48.6,24 48.6,26.9 42.5,25.9 36.5,25.7 30.4,26.3 24.3,27.5 18.2,28.8 12.2,29.6 6.1,29.5 0,28.6" fill="#D8213F"/><polygon points="0,28.5 6.1,29.4 12.2,29.5 18.2,28.7 24.3,27.4 30.4,26.2 36.5,25.6 42.5,25.8 48.6,26.8 48.6,29.7 42.5,28.7 36.5,28.5 30.4,29.2 24.3,30.4 18.2,31.7 12.2,32.4 6.1,32.3 0,31.4" fill="#FFFFFF"/><polygon points="0,34.1 0,31.3 6.1,32.2 12.2,32.3 18.2,31.5 24.3,30.3 30.4,29 36.5,28.4 42.5,28.6 48.6,29.6 48.6,32.5 42.5,31.5 36.5,31.2 30.4,31.9 24.3,33.1 18.2,34.4 12.2,35.1 6.1,35" fill="#D8213F"/><polygon points="0,2.9 4.4,3.7 8.7,4 13.1,3.9 13.1,17.9 8.7,18 4.4,17.7 0,17" fill="#15204F"/><polygon points="9.1,14.5 6.6,12.6 4,14.2 4.9,11.3 2.4,9 5.5,9.4 6.6,6.5 7.6,9.6 10.7,9.7 8.2,11.5" fill="#FFFFFF"/><use href="#pc" class="o"/></g>
<g transform="translate(896.7,782.9)" opacity="0.72" clip-path="url(#c)"><polygon points="0,2.9 5.5,3.8 10.9,4 16.4,3.5 16.4,34.7 10.9,35.2 5.5,35 0,34.1" fill="#D8213F"/><polygon points="16.2,3.5 21.7,2.5 27.1,1.3 32.6,0.3 32.6,31.5 27.1,32.5 21.7,33.7 16.2,34.7" fill="#FFFFFF"/><polygon points="32.4,0.4 37.8,0 43.2,0.3 48.6,1.3 48.6,32.5 43.2,31.5 37.8,31.2 32.4,31.6" fill="#D8213F"/><use href="#pc" class="o"/></g>
<g transform="translate(961.7,787.4)" opacity="0.72" clip-path="url(#c)"><polygon points="0,2.9 6.1,3.8 12.2,3.9 18.2,3.2 24.3,1.9 30.4,0.7 36.5,0 42.5,0.3 48.6,1.3 48.6,17 42.5,16 36.5,15.8 30.4,16.4 24.3,17.6 18.2,18.9 12.2,19.7 6.1,19.6 0,18.7" fill="#6AB2E7"/><polygon points="0,34.1 0,18.5 6.1,19.4 12.2,19.5 18.2,18.8 24.3,17.5 30.4,16.3 36.5,15.6 42.5,15.9 48.6,16.9 48.6,32.5 42.5,31.5 36.5,31.2 30.4,31.9 24.3,33.1 18.2,34.4 12.2,35.1 6.1,35" fill="#12AD2B"/><polygon points="20.4,18.3 15.3,23.1 10.2,27.4 5.1,31 0,34.1 0,2.9 5.1,7.6 10.2,11.8 15.3,15.3" fill="#FFFFFF"/><polygon points="8.9,21.9 7.3,20.7 5.6,21.7 6.2,19.8 4.6,18.4 6.6,18.6 7.3,16.7 8,18.7 10,18.7 8.4,19.9" fill="#D8213F"/><use href="#pc" class="o"/></g>
<g transform="translate(694.7,797.4)" opacity="0.72" clip-path="url(#c)"><polygon points="0,2.9 6.1,3.8 12.2,3.9 18.2,3.2 24.3,1.9 30.4,0.7 36.5,0 42.5,0.3 48.6,1.3 48.6,32.5 42.5,31.5 36.5,31.2 30.4,31.9 24.3,33.1 18.2,34.4 12.2,35.1 6.1,35 0,34.1" fill="#1FAFC9"/><polygon points="26.7,20.7 24.7,20.7 23,20 21.8,18.5 21.4,16.6 21.8,14.4 23,12.5 24.7,10.9 26.7,10.1 28.8,10.1 30.5,10.9 31.6,12.5 32,14.5 31.6,16.5 30.5,18.4 28.8,19.9" fill="#FCD535"/><polygon points="17,22.7 21.9,24.6 26.7,26.3 31.6,22.6 36.5,19.4 31.6,21.1 26.7,23.2 21.9,23" fill="#FCD535"/><polygon points="1.5,3.2 4.9,3.7 4.9,34.9 1.5,34.4" fill="#D9C24A"/><use href="#pc" class="o"/></g>
<g transform="translate(581.7,800.9)" opacity="0.72" clip-path="url(#c)"><polygon points="0,2.9 6.1,3.8 12.2,3.9 18.2,3.2 24.3,1.9 30.4,0.7 36.5,0 42.5,0.3 48.6,1.3 48.6,32.5 42.5,31.5 36.5,31.2 30.4,31.9 24.3,33.1 18.2,34.4 12.2,35.1 6.1,35 0,34.1" fill="#0B6B2E"/><polygon points="0,2.9 4.2,3.6 8.4,4 12.6,3.9 12.6,35.1 8.4,35.2 4.2,34.8 0,34.1" fill="#FFFFFF"/><polygon points="30.1,24.7 26.9,24.7 24.2,23.5 22.3,21.1 21.7,18.1 22.3,14.7 24.2,11.6 26.9,9.1 30.1,7.9 33.4,8.1 36.1,9.7 37.9,12.4 38.6,15.6 37.9,18.8 36.1,21.6 33.4,23.6" fill="#FFFFFF"/><polygon points="32.7,23.1 29.9,23 27.6,21.8 26,19.8 25.5,17.2 26,14.4 27.6,11.7 29.9,9.7 32.7,8.8 35.4,9.1 37.7,10.5 39.3,12.9 39.8,15.6 39.3,18.4 37.7,20.7 35.4,22.3" fill="#0B6B2E"/><polygon points="37.2,13 36,12.2 34.7,13.1 35.1,11.6 33.9,10.8 35.5,10.6 36,9.1 36.5,10.6 38,10.6 36.8,11.5" fill="#FFFFFF"/><use href="#pc" class="o"/></g>
<g transform="translate(940.7,815.4)" opacity="0.72" clip-path="url(#c)"><polygon points="12.2,3.9 18.2,3.2 24.3,1.9 30.4,0.7 36.5,0 42.5,0.3 48.6,1.3 48.6,11.8 42.5,10.8 36.5,10.6 30.4,11.2 24.3,12.4 18.2,13.7 12.2,14.5" fill="#0A8A3C"/><polygon points="12.2,14.3 18.2,13.6 24.3,12.3 30.4,11.1 36.5,10.4 42.5,10.7 48.6,11.7 48.6,22.2 42.5,21.2 36.5,21 30.4,21.6 24.3,22.8 18.2,24.1 12.2,24.9" fill="#FFFFFF"/><polygon points="12.2,35.1 12.2,24.7 18.2,24 24.3,22.7 30.4,21.5 36.5,20.8 42.5,21.1 48.6,22.1 48.6,32.5 42.5,31.5 36.5,31.2 30.4,31.9 24.3,33.1 18.2,34.4" fill="#1E1E1E"/><polygon points="0,2.9 6.1,3.8 12.2,3.9 12.2,35.1 6.1,35 0,34.1" fill="#E8232E"/><use href="#pc" class="o"/></g>
<g transform="translate(544.7,822.4)" opacity="0.72" clip-path="url(#c)"><polygon points="32.1,0.4 26.7,6.6 21.4,12.9 16,19.1 10.7,24.8 5.3,29.8 0,34.1 0,2.9 5.3,3.8 10.7,4 16,3.5 21.4,2.5 26.7,1.4" fill="#14A04A"/><polygon points="32.1,0.4 37.6,0 43.1,0.3 48.6,1.3 43.3,5.5 37.9,10.4 32.6,15.9 27.2,22.1 21.9,28.4 16.5,34.7 11,35.2 5.5,35 0,34.1 5.3,29.8 10.7,24.8 16,19.1 21.4,12.9 26.7,6.6" fill="#FCD535"/><polygon points="48.6,32.5 43.3,31.5 37.9,31.2 32.6,31.5 27.2,32.5 21.9,33.6 16.5,34.7 21.9,28.4 27.2,22.1 32.6,15.9 37.9,10.4 43.3,5.5 48.6,1.3" fill="#E8333A"/><use href="#pc" class="o"/></g>
<g transform="translate(447.7,823.9)" opacity="0.72" clip-path="url(#c)"><polygon points="0,2.9 6.1,3.8 12.2,3.9 18.2,3.2 24.3,1.9 30.4,0.7 36.5,0 42.5,0.3 48.6,1.3 48.6,32.5 42.5,31.5 36.5,31.2 30.4,31.9 24.3,33.1 18.2,34.4 12.2,35.1 6.1,35 0,34.1" fill="#F2B632"/><polygon points="1.5,5.1 5.1,5.6 8.7,5.9 8.7,33.3 5.1,33.1 1.5,32.5" fill="#13773E"/><polygon points="8.7,5.9 12.9,5.7 17,5.2 17,32.7 12.9,33.2 8.7,33.3" fill="#E97730"/><polygon points="18.5,5 24.2,3.8 29.8,2.6 35.5,1.9 41.2,2 46.9,2.8 46.9,30.3 41.2,29.5 35.5,29.4 29.8,30.1 24.2,31.3 18.5,32.5" fill="#B0134C"/><polygon points="39.9,11.3 38.9,15.6 36.9,21.9 34,22 34,17.7 29.2,18.3 29.2,22.7 25.8,23.4 26.2,17.7 24.3,15 27.2,10.6 30.6,10 34,9.5 37.9,6.9" fill="#F2C03A"/><polygon points="22.8,13.4 23.8,13.2 23.8,23.8 22.8,24.1" fill="#F2C03A"/><use href="#pc" class="o"/></g>
<g transform="translate(281.7,825.1)" opacity="0.72" clip-path="url(#c)"><polygon points="0,2.9 6.1,3.8 12.2,3.9 18.2,3.2 24.3,1.9 30.4,0.7 36.5,0 42.5,0.3 48.6,1.3 48.6,32.5 42.5,31.5 36.5,31.2 30.4,31.9 24.3,33.1 18.2,34.4 12.2,35.1 6.1,35 0,34.1" fill="#2FA238"/><polygon points="33,11.5 38.4,11.2 38.4,31.2 33,31.5" fill="#E0283C"/><polygon points="38.2,11.2 43.6,11.6 43.6,31.6 38.2,31.2" fill="#1E1E1E"/><polygon points="43.4,11.6 48.6,12.5 48.6,32.5 43.4,31.6" fill="#F58A1F"/><polygon points="33,4 36.9,5 40.8,6.3 44.7,5.5 48.6,5 44.7,6.8 40.8,8.8 36.9,6.3" fill="#F07A1F"/><use href="#pc" class="o"/></g>
<g transform="translate(729.7,833.9)" opacity="0.72" clip-path="url(#c)"><polygon points="0,2.9 6.1,3.8 12.2,3.9 18.2,3.2 24.3,1.9 30.4,0.7 36.5,0 42.5,0.3 48.6,1.3 48.6,17 42.5,16 36.5,15.8 30.4,16.4 24.3,17.6 18.2,18.9 12.2,19.7 6.1,19.6 0,18.7" fill="#3C78D2"/><polygon points="0,34.1 0,18.5 6.1,19.4 12.2,19.5 18.2,18.8 24.3,17.5 30.4,16.3 36.5,15.6 42.5,15.9 48.6,16.9 48.6,32.5 42.5,31.5 36.5,31.2 30.4,31.9 24.3,33.1 18.2,34.4 12.2,35.1 6.1,35" fill="#FCD535"/><use href="#pc" class="o"/></g>
<g transform="translate(883.7,842.4)" opacity="0.72" clip-path="url(#c)"><polygon points="0,2.9 6.1,3.8 12.2,3.9 18.2,3.2 24.3,1.9 30.4,0.7 36.5,0 42.5,0.3 48.6,1.3 48.6,11.8 42.5,10.8 36.5,10.6 30.4,11.2 24.3,12.4 18.2,13.7 12.2,14.5 6.1,14.4 0,13.5" fill="#0F9C6E"/><polygon points="0,13.3 6.1,14.2 12.2,14.3 18.2,13.6 24.3,12.3 30.4,11.1 36.5,10.4 42.5,10.7 48.6,11.7 48.6,22.2 42.5,21.2 36.5,21 30.4,21.6 24.3,22.8 18.2,24.1 12.2,24.9 6.1,24.8 0,23.9" fill="#FFFFFF"/><polygon points="0,34.1 0,23.7 6.1,24.6 12.2,24.7 18.2,24 24.3,22.7 30.4,21.5 36.5,20.8 42.5,21.1 48.6,22.1 48.6,32.5 42.5,31.5 36.5,31.2 30.4,31.9 24.3,33.1 18.2,34.4 12.2,35.1 6.1,35" fill="#E0283C"/><polygon points="0,2.9 6.1,9 12.2,14.3 12.2,24.7 6.1,29.8 0,34.1" fill="#1E1E1E"/><use href="#pc" class="o"/></g>
<g transform="translate(659.7,863.4)" opacity="0.72" clip-path="url(#c)"><polygon points="0,2.9 6.1,3.8 12.2,3.9 18.2,3.2 24.3,1.9 30.4,0.7 36.5,0 42.5,0.3 48.6,1.3 48.6,17 42.5,16 36.5,15.8 30.4,16.4 24.3,17.6 18.2,18.9 12.2,19.7 6.1,19.6 0,18.7" fill="#FCD535"/><polygon points="0,18.5 6.1,19.4 12.2,19.5 18.2,18.8 24.3,17.5 30.4,16.3 36.5,15.6 42.5,15.9 48.6,16.9 48.6,24.8 42.5,23.8 36.5,23.6 30.4,24.2 24.3,25.4 18.2,26.7 12.2,27.5 6.1,27.4 0,26.5" fill="#1F3FB5"/><polygon points="0,34.1 0,26.3 6.1,27.2 12.2,27.3 18.2,26.6 24.3,25.3 30.4,24.1 36.5,23.4 42.5,23.7 48.6,24.7 48.6,32.5 42.5,31.5 36.5,31.2 30.4,31.9 24.3,33.1 18.2,34.4 12.2,35.1 6.1,35" fill="#D8213F"/><use href="#pc" class="o"/></g>
<g transform="translate(670.7,842.9)" opacity="0.72" clip-path="url(#c)"><polygon points="0,2.9 6.1,3.8 12.2,3.9 18.2,3.2 24.3,1.9 30.4,0.7 36.5,0 42.5,0.3 48.6,1.3 48.6,32.5 42.5,31.5 36.5,31.2 30.4,31.9 24.3,33.1 18.2,34.4 12.2,35.1 6.1,35 0,34.1" fill="#E0283C"/><polygon points="28.3,22.2 24.3,20.1 20.3,23.9 21.8,18.8 17.8,16.7 22.8,15.7 24.3,10.6 25.8,15 30.8,14.1 26.8,17.8" fill="#0B8A3C"/><polygon points="26.5,20 24.3,18.9 22.1,21 22.9,18.2 20.7,17.1 23.5,16.5 24.3,13.7 25.1,16.2 27.9,15.6 25.7,17.6" fill="#E0283C"/><use href="#pc" class="o"/></g>
<g transform="translate(462.7,849.4)" opacity="0.72" clip-path="url(#c)"><polygon points="0,2.9 6.1,3.8 12.2,3.9 18.2,3.2 24.3,1.9 30.4,0.7 36.5,0 42.5,0.3 48.6,1.3 48.6,32.5 42.5,31.5 36.5,31.2 30.4,31.9 24.3,33.1 18.2,34.4 12.2,35.1 6.1,35 0,34.1" fill="#E94C45"/><polygon points="28.2,16.7 22.6,21 16.9,25.2 11.3,28.9 5.6,31.9 0,34.1 0,2.9 5.6,6.9 11.3,10.2 16.9,12.8 22.6,14.8" fill="#FCD535"/><polygon points="18.5,18.7 12.3,24.7 6.2,29.8 0,34.1 0,2.9 6.2,9 12.3,14.3" fill="#1E1E1E"/><polygon points="9.8,22.2 6.8,21.2 4.9,23.5 4.9,20.3 2,18.8 4.9,18.3 5,15.2 6.9,17.8 9.9,17.1 8.1,19.6" fill="#FFFFFF"/><use href="#pc" class="o"/></g>
<g transform="translate(395.7,860.4)" opacity="0.72" clip-path="url(#c)"><polygon points="0,2.9 6.1,3.8 12.2,3.9 18.2,3.2 24.3,1.9 30.4,0.7 36.5,0 42.5,0.3 48.6,1.3 48.6,11.8 42.5,10.8 36.5,10.6 30.4,11.2 24.3,12.4 18.2,13.7 12.2,14.5 6.1,14.4 0,13.5" fill="#FCD535"/><polygon points="0,13.3 6.1,14.2 12.2,14.3 18.2,13.6 24.3,12.3 30.4,11.1 36.5,10.4 42.5,10.7 48.6,11.7 48.6,22.2 42.5,21.2 36.5,21 30.4,21.6 24.3,22.8 18.2,24.1 12.2,24.9 6.1,24.8 0,23.9" fill="#1F3FB5"/><polygon points="0,34.1 0,23.7 6.1,24.6 12.2,24.7 18.2,24 24.3,22.7 30.4,21.5 36.5,20.8 42.5,21.1 48.6,22.1 48.6,32.5 42.5,31.5 36.5,31.2 30.4,31.9 24.3,33.1 18.2,34.4 12.2,35.1 6.1,35" fill="#D8213F"/><polygon points="15.9,20.7 16.6,20.6 17,21.2 16.6,21.9 15.9,22 15.5,21.4" fill="#FFFFFF"/><polygon points="17.5,17.7 18.2,17.6 18.6,18.2 18.2,18.9 17.5,19 17.1,18.4" fill="#FFFFFF"/><polygon points="20.3,15.2 21.1,15.1 21.5,15.7 21.1,16.4 20.3,16.6 19.9,16" fill="#FFFFFF"/><polygon points="23.9,13.8 24.7,13.6 25.1,14.2 24.7,15 23.9,15.1 23.5,14.5" fill="#FFFFFF"/><polygon points="27.5,13.7 28.3,13.5 28.7,14.1 28.3,14.9 27.5,15 27.1,14.4" fill="#FFFFFF"/><polygon points="30.4,15.1 31.1,14.9 31.5,15.5 31.1,16.3 30.4,16.4 30,15.8" fill="#FFFFFF"/><polygon points="32,17.6 32.7,17.5 33.1,18.1 32.7,18.8 32,18.9 31.6,18.3" fill="#FFFFFF"/><use href="#pc" class="o"/></g>
<g transform="translate(712.7,871.4)" opacity="0.72" clip-path="url(#c)"><polygon points="0,2.9 6.1,3.8 12.2,3.9 18.2,3.2 24.3,1.9 30.4,0.7 36.5,0 42.5,0.3 48.6,1.3 48.6,32.5 42.5,31.5 36.5,31.2 30.4,31.9 24.3,33.1 18.2,34.4 12.2,35.1 6.1,35 0,34.1" fill="#1F3FA5"/><polygon points="0,18.5 6.1,19.4 12.2,19.5 18.2,18.8 24.3,17.5 30.4,16.3 36.5,15.6 42.5,15.9 48.6,16.9 48.6,24.7 42.5,23.7 36.5,23.4 30.4,24.1 24.3,25.3 18.2,26.6 12.2,27.3 6.1,27.2 0,26.3" fill="#FFFFFF"/><polygon points="0,21.1 6.1,22 12.2,22.1 18.2,21.4 24.3,20.1 30.4,18.9 36.5,18.2 42.5,18.4 48.6,19.4 48.6,22 42.5,21 36.5,20.8 30.4,21.4 24.3,22.7 18.2,23.9 12.2,24.7 6.1,24.6 0,23.7" fill="#D8213F"/><polygon points="25.5,20.4 25.9,20.9 25.5,21.6 24.8,21.5 24.8,20.8" fill="#FCD535"/><polygon points="24.2,24.3 24.6,24.8 24.2,25.5 23.5,25.5 23.5,24.7" fill="#FCD535"/><polygon points="20.8,27.4 21.2,27.9 20.8,28.5 20.1,28.5 20.1,27.7" fill="#FCD535"/><polygon points="16.6,28.1 17,28.7 16.6,29.3 15.9,29.2 15.9,28.5" fill="#FCD535"/><polygon points="13.2,26.3 13.6,26.8 13.2,27.5 12.5,27.3 12.5,26.6" fill="#FCD535"/><polygon points="11.9,22.7 12.3,23.3 11.9,23.9 11.2,23.7 11.2,23" fill="#FCD535"/><polygon points="13.2,18.9 13.6,19.5 13.2,20.1 12.5,20 12.5,19.2" fill="#FCD535"/><polygon points="16.6,16.3 17,16.8 16.6,17.4 15.9,17.3 15.9,16.6" fill="#FCD535"/><polygon points="20.8,15.5 21.2,16 20.8,16.7 20.1,16.6 20.1,15.9" fill="#FCD535"/><polygon points="24.2,17 24.6,17.5 24.2,18.2 23.5,18.1 23.5,17.4" fill="#FCD535"/><use href="#pc" class="o"/></g>
<g transform="translate(210.7,875.8)" opacity="0.72" clip-path="url(#c)"><polygon points="0,2.9 6.1,3.8 12.2,3.9 18.2,3.2 24.3,1.9 30.4,0.7 36.5,0 42.5,0.3 48.6,1.3 48.6,11.8 42.5,10.8 36.5,10.6 30.4,11.2 24.3,12.4 18.2,13.7 12.2,14.5 6.1,14.4 0,13.5" fill="#FCD535"/><polygon points="0,13.3 6.1,14.2 12.2,14.3 18.2,13.6 24.3,12.3 30.4,11.1 36.5,10.4 42.5,10.7 48.6,11.7 48.6,22.2 42.5,21.2 36.5,21 30.4,21.6 24.3,22.8 18.2,24.1 12.2,24.9 6.1,24.8 0,23.9" fill="#34B233"/><polygon points="0,34.1 0,23.7 6.1,24.6 12.2,24.7 18.2,24 24.3,22.7 30.4,21.5 36.5,20.8 42.5,21.1 48.6,22.1 48.6,32.5 42.5,31.5 36.5,31.2 30.4,31.9 24.3,33.1 18.2,34.4 12.2,35.1 6.1,35" fill="#EA2839"/><polygon points="32,28.2 28.2,26.2 24.3,24.3 20.4,27.8 16.6,31.2 19.3,21.7 15.6,19.5 11.8,17.1 16.5,16.5 21.2,15.5 24.3,5.9 27.4,14.1 32.1,13.4 36.8,13.1 33,16.2 29.3,19.6" fill="#FFFFFF"/><use href="#pc" class="o"/></g>
<g transform="translate(773.7,884.9)" opacity="0.72" clip-path="url(#c)"><polygon points="0,2.9 6.1,3.8 12.2,3.9 18.2,3.2 24.3,1.9 30.4,0.7 36.5,0 42.5,0.3 48.6,1.3 48.6,32.5 42.5,31.5 36.5,31.2 30.4,31.9 24.3,33.1 18.2,34.4 12.2,35.1 6.1,35 0,34.1" fill="#119F4D"/><polygon points="5.8,19.4 12,15.6 18.1,10.9 24.3,5.6 30.5,8.3 36.6,11.7 42.8,15.9 36.6,19.6 30.5,24.2 24.3,29.3 18.1,26.7 12,23.5" fill="#FCD535"/><polygon points="24.3,25 21.4,25 19,23.9 17.4,21.8 16.8,19 17.4,16 19,13.3 21.4,11.2 24.3,10 27.2,10 29.6,11.1 31.2,13.3 31.8,16 31.2,19 29.6,21.7 27.2,23.8" fill="#2A3FA0"/><polygon points="31.3,20.2 26.7,17.9 21.9,17.4 17,18.7 17,17.1 21.9,15.8 27.2,16.2 31.8,18.5" fill="#FFFFFF"/><use href="#pc" class="o"/></g>
<g opacity="0.72"><path d="M176,654.9 Q179,658 182.5,660 Q188,662.3 192.4,662.9 Q197.5,665 200.6,669.5 Q193,668 184.4,670.6 Q190,674 194.2,677.9 Q198,681 200.3,684.7 Q196,683 190.6,683.7 Q186,685 182.5,686.7 Q180,688 176.1,685.6 Z" fill="#DC2B45" stroke="#2A4592" stroke-width="1.1" stroke-linejoin="round"/><circle cx="182.5" cy="667.7" r="2.7" fill="#fff"/><circle cx="182.5" cy="678.3" r="3.5" fill="#fff"/></g>
<g transform="translate(530.7,869.4)" opacity="0.72" clip-path="url(#c)"><polygon points="0,2.9 5.5,3.8 10.9,4 16.4,3.5 16.4,34.7 10.9,35.2 5.5,35 0,34.1" fill="#1E1E1E"/><polygon points="16.2,3.5 21.7,2.5 27.1,1.3 32.6,0.3 32.6,31.5 27.1,32.5 21.7,33.7 16.2,34.7" fill="#D32011"/><polygon points="32.4,0.4 37.8,0 43.2,0.3 48.6,1.3 48.6,32.5 43.2,31.5 37.8,31.2 32.4,31.6" fill="#1FA12F"/><polygon points="24.3,23.4 22.3,23.5 20.5,22.7 19.4,21.2 19,19.2 19.4,17.1 20.5,15.2 22.3,13.7 24.3,12.8 26.3,12.8 28.1,13.6 29.2,15.1 29.6,17 29.2,19.1 28.1,21.1 26.3,22.6" fill="#E8746A"/><polygon points="24.3,21.9 22.9,21.9 21.7,21.3 20.8,20.3 20.6,18.9 20.8,17.4 21.7,16.1 22.9,15 24.3,14.4 25.7,14.3 26.9,14.9 27.8,15.9 28,17.3 27.8,18.8 26.9,20.2 25.7,21.3" fill="#D32011"/><use href="#pc" class="o"/></g>
<g transform="translate(514.7,866.9)" opacity="0.72" clip-path="url(#c)"><polygon points="0,2.9 5.5,3.8 10.9,4 16.4,3.5 16.4,34.7 10.9,35.2 5.5,35 0,34.1" fill="#0B8A4A"/><polygon points="16.2,3.5 21.7,2.5 27.1,1.3 32.6,0.3 32.6,31.5 27.1,32.5 21.7,33.7 16.2,34.7" fill="#FCD535"/><polygon points="32.4,0.4 37.8,0 43.2,0.3 48.6,1.3 48.6,32.5 43.2,31.5 37.8,31.2 32.4,31.6" fill="#E0283C"/><polygon points="26.7,20.3 24.3,19.1 21.9,21.3 22.8,18.3 20.4,17.1 23.3,16.4 24.3,13.4 25.3,16 28.2,15.4 25.8,17.7" fill="#0B8A4A"/><use href="#pc" class="o"/></g>
<g transform="translate(554.7,885.9)" opacity="0.72" clip-path="url(#c)"><polygon points="0,2.9 6.1,3.8 12.2,3.9 18.2,3.2 24.3,1.9 30.4,0.7 36.5,0 42.5,0.3 48.6,1.3 48.6,11.8 42.5,10.8 36.5,10.6 30.4,11.2 24.3,12.4 18.2,13.7 12.2,14.5 6.1,14.4 0,13.5" fill="#2D47B5"/><polygon points="0,13.3 6.1,14.2 12.2,14.3 18.2,13.6 24.3,12.3 30.4,11.1 36.5,10.4 42.5,10.7 48.6,11.7 48.6,22.2 42.5,21.2 36.5,21 30.4,21.6 24.3,22.8 18.2,24.1 12.2,24.9 6.1,24.8 0,23.9" fill="#FFFFFF"/><polygon points="0,34.1 0,23.7 6.1,24.6 12.2,24.7 18.2,24 24.3,22.7 30.4,21.5 36.5,20.8 42.5,21.1 48.6,22.1 48.6,32.5 42.5,31.5 36.5,31.2 30.4,31.9 24.3,33.1 18.2,34.4 12.2,35.1 6.1,35" fill="#2D47B5"/><polygon points="24.3,20.9 23,21 21.9,20.5 21.1,19.5 20.9,18.2 21.1,16.9 21.9,15.6 23,14.6 24.3,14.1 25.6,14 26.7,14.5 27.5,15.5 27.7,16.8 27.5,18.1 26.7,19.4 25.6,20.4" fill="#C9B24A"/><polygon points="24.3,19.7 23.5,19.7 22.8,19.4 22.3,18.8 22.1,18 22.3,17.1 22.8,16.3 23.5,15.7 24.3,15.3 25.1,15.3 25.8,15.6 26.3,16.2 26.5,17 26.3,17.9 25.8,18.7 25.1,19.3" fill="#3C7FC0"/><use href="#pc" class="o"/></g>
<g transform="translate(598.7,899.9)" opacity="0.72" clip-path="url(#c)"><polygon points="0,2.9 6.1,3.8 12.2,3.9 18.2,3.2 24.3,1.9 30.4,0.7 36.5,0 42.5,0.3 48.6,1.3 48.6,11.8 42.5,10.8 36.5,10.6 30.4,11.2 24.3,12.4 18.2,13.7 12.2,14.5 6.1,14.4 0,13.5" fill="#DA2B3C"/><polygon points="0,13.3 6.1,14.2 12.2,14.3 18.2,13.6 24.3,12.3 30.4,11.1 36.5,10.4 42.5,10.7 48.6,11.7 48.6,22.2 42.5,21.2 36.5,21 30.4,21.6 24.3,22.8 18.2,24.1 12.2,24.9 6.1,24.8 0,23.9" fill="#FCD535"/><polygon points="0,34.1 0,23.7 6.1,24.6 12.2,24.7 18.2,24 24.3,22.7 30.4,21.5 36.5,20.8 42.5,21.1 48.6,22.1 48.6,32.5 42.5,31.5 36.5,31.2 30.4,31.9 24.3,33.1 18.2,34.4 12.2,35.1 6.1,35" fill="#0E8B4A"/><polygon points="24.3,20.6 23.1,20.6 22.1,20.2 21.4,19.3 21.2,18.2 21.4,16.9 22.1,15.8 23.1,14.9 24.3,14.4 25.5,14.3 26.5,14.8 27.2,15.7 27.4,16.8 27.2,18.1 26.5,19.2 25.5,20.1" fill="#D86A3A"/><use href="#pc" class="o"/></g>
<g transform="translate(874.7,916.4)" opacity="0.72" clip-path="url(#c)"><polygon points="0,2.9 6.1,3.8 12.2,3.9 18.2,3.2 24.3,1.9 30.4,0.7 36.5,0 42.5,0.3 48.6,1.3 48.6,32.5 42.5,31.5 36.5,31.2 30.4,31.9 24.3,33.1 18.2,34.4 12.2,35.1 6.1,35 0,34.1" fill="#FFFFFF"/><polygon points="0,2.9 5.1,3.7 10.2,4 15.3,3.6 20.4,2.7 20.4,15.2 15.3,16.1 10.2,16.5 5.1,16.2 0,15.4" fill="#1F3F80"/><polygon points="28.2,1.1 33.3,0.3 38.4,0 43.5,0.4 48.6,1.3 48.6,13.7 43.5,12.9 38.4,12.5 33.3,12.7 28.2,13.5" fill="#D8213F"/><polygon points="0,21.7 5.1,22.5 10.2,22.7 15.3,22.3 20.4,21.5 20.4,33.9 15.3,34.8 10.2,35.2 5.1,34.9 0,34.1" fill="#D8213F"/><polygon points="28.2,19.8 33.3,19 38.4,18.7 43.5,19.1 48.6,20 48.6,32.5 43.5,31.6 38.4,31.2 33.3,31.5 28.2,32.3" fill="#1F3F80"/><polygon points="24.3,20 23.3,20 22.5,19.6 22,19 21.8,18 22,17 22.5,16.1 23.3,15.4 24.3,15 25.3,15 26.1,15.3 26.6,16 26.8,16.9 26.6,17.9 26.1,18.9 25.3,19.6" fill="#4A8A5A"/><use href="#pc" class="o"/></g>
<g transform="translate(902.7,939.4)" opacity="0.72" clip-path="url(#c)"><polygon points="0,2.9 6.1,3.8 12.2,3.9 18.2,3.2 24.3,1.9 30.4,0.7 36.5,0 42.5,0.3 48.6,1.3 48.6,17 42.5,16 36.5,15.8 30.4,16.4 24.3,17.6 18.2,18.9 12.2,19.7 6.1,19.6 0,18.7" fill="#FCD535"/><polygon points="0,18.5 6.1,19.4 12.2,19.5 18.2,18.8 24.3,17.5 30.4,16.3 36.5,15.6 42.5,15.9 48.6,16.9 48.6,24.8 42.5,23.8 36.5,23.6 30.4,24.2 24.3,25.4 18.2,26.7 12.2,27.5 6.1,27.4 0,26.5" fill="#2A4DB5"/><polygon points="0,34.1 0,26.3 6.1,27.2 12.2,27.3 18.2,26.6 24.3,25.3 30.4,24.1 36.5,23.4 42.5,23.7 48.6,24.7 48.6,32.5 42.5,31.5 36.5,31.2 30.4,31.9 24.3,33.1 18.2,34.4 12.2,35.1 6.1,35" fill="#DA2339"/><polygon points="24.3,22.5 22.4,22.5 20.8,21.8 19.7,20.4 19.3,18.6 19.7,16.6 20.8,14.7 22.4,13.3 24.3,12.5 26.2,12.5 27.8,13.2 28.9,14.6 29.3,16.5 28.9,18.4 27.8,20.3 26.2,21.7" fill="#6E7FA0"/><polygon points="24.3,15.3 23.5,15.3 22.8,15 22.3,14.4 22.1,13.6 22.3,12.7 22.8,11.9 23.5,11.3 24.3,10.9 25.1,10.9 25.8,11.2 26.3,11.8 26.5,12.6 26.3,13.5 25.8,14.3 25.1,15" fill="#4A4030"/><use href="#pc" class="o"/></g>
<g transform="translate(974.7,927.4)" opacity="0.72" clip-path="url(#c)"><polygon points="0,2.9 6.2,3.8 12.3,3.9 12.3,35.1 6.2,35 0,34.1" fill="#EA1C24"/><polygon points="12.2,3.9 18.3,3.2 24.4,1.9 30.5,0.6 36.6,0 36.6,31.2 30.5,31.8 24.4,33.1 18.3,34.4 12.2,35.1" fill="#FFFFFF"/><polygon points="36.5,0 42.5,0.3 48.6,1.3 48.6,32.5 42.5,31.5 36.5,31.2" fill="#EA1C24"/><polygon points="30.6,11.9 31.1,13.7 34,13 32.6,16.6 34,17.3 28.2,22.3 28.7,24.1 24.8,24.2 24.8,28 23.8,28.2 23.8,24.5 19.9,25.9 20.4,24 14.6,20.9 16,19.7 14.6,16.5 17.5,16.4 18,14.4 20.9,15.7 19.9,11.3 22.4,11.7 24.3,7.5 26.2,10.8 28.7,9.4 27.7,14.3" fill="#E8232E"/><use href="#pc" class="o"/></g>
<g transform="translate(982.7,945.4)" opacity="0.72" clip-path="url(#c)"><polygon points="0,2.9 6.1,3.8 12.2,3.9 18.2,3.2 24.3,1.9 30.4,0.7 36.5,0 42.5,0.3 48.6,1.3 48.6,32.5 42.5,31.5 36.5,31.2 30.4,31.9 24.3,33.1 18.2,34.4 12.2,35.1 6.1,35 0,34.1" fill="#E8283A"/><polygon points="17,27.4 13.8,27.2 11.1,25.5 9.2,22.8 8.6,19.6 9.2,16.4 11.1,13.6 13.8,11.6 17,10.6 20.2,10.6 23,11.8 24.8,14.2 25.4,17.2 24.8,20.6 23,23.7 20.2,26.2" fill="#FFFFFF"/><polygon points="19.4,25.3 16.8,25.2 14.6,24.1 13.1,22 12.6,19.5 13.1,16.9 14.6,14.5 16.8,12.8 19.4,11.8 21.9,11.8 24.1,12.8 25.6,14.6 26.1,17.1 25.6,19.8 24.1,22.3 21.9,24.2" fill="#E8283A"/><polygon points="28.2,19.6 26.8,18.1 24.7,19.3 26,17.1 24.7,15.6 26.8,15.8 28.1,13.7 28.2,15.9 30.3,16.2 28.2,17.4" fill="#FFFFFF"/><use href="#pc" class="o"/></g>
<g transform="translate(363.7,944.4)" opacity="0.72" clip-path="url(#c)"><polygon points="48.6,1.3 42.5,4.2 36.5,7.8 30.4,12.4 24.3,17.5 18.2,22.7 12.2,27.3 6.1,31.1 0,34.1 0,2.9 6.1,3.8 12.2,3.9 18.2,3.2 24.3,1.9 30.4,0.7 36.5,0 42.5,0.3" fill="#F7B52C"/><polygon points="48.6,32.5 42.5,31.5 36.5,31.2 30.4,31.9 24.3,33.1 18.2,34.4 12.2,35.1 6.1,35 0,34.1 6.1,31.1 12.2,27.3 18.2,22.7 24.3,17.5 30.4,12.4 36.5,7.8 42.5,4.2 48.6,1.3" fill="#EE5A2A"/><polygon points="44,0.4 37.7,4 31.4,8.6 25.1,13.8 18.8,19.2 12.6,24.1 6.3,28.1 0,31.2 0,34.1 4.6,34.9 10.9,31.1 17.2,26.5 23.5,21.2 29.8,15.8 36,11.1 42.3,7.2 48.6,4.2 48.6,1.3" fill="#F4F0E8"/><use href="#pc" class="o"/></g>
<g transform="translate(375.7,937.4)" opacity="0.72" clip-path="url(#c)"><polygon points="0,2.9 6.1,3.8 12.2,3.9 18.2,3.2 24.3,1.9 30.4,0.7 36.5,0 42.5,0.3 48.6,1.3 48.6,9.2 42.5,8.2 36.5,8 30.4,8.6 24.3,9.8 18.2,11.1 12.2,11.9 6.1,11.8 0,10.9" fill="#E0283C"/><polygon points="0,10.7 6.1,11.6 12.2,11.7 18.2,11 24.3,9.7 30.4,8.5 36.5,7.8 42.5,8.1 48.6,9.1 48.6,24.8 42.5,23.8 36.5,23.6 30.4,24.2 24.3,25.4 18.2,26.7 12.2,27.5 6.1,27.4 0,26.5" fill="#1E1E1E"/><polygon points="0,34.1 0,26.3 6.1,27.2 12.2,27.3 18.2,26.6 24.3,25.3 30.4,24.1 36.5,23.4 42.5,23.7 48.6,24.7 48.6,32.5 42.5,31.5 36.5,31.2 30.4,31.9 24.3,33.1 18.2,34.4 12.2,35.1 6.1,35" fill="#1A8A3C"/><polygon points="22.8,22.5 21.1,22.5 19.5,21.8 18.5,20.5 18.2,18.8 18.5,16.9 19.5,15.2 21.1,13.9 22.8,13.1 24.6,13.1 26.2,13.8 27.2,15.1 27.5,16.8 27.2,18.7 26.2,20.4 24.6,21.7" fill="#FFFFFF"/><polygon points="24.7,21.2 23.2,21.3 22,20.7 21.2,19.6 20.9,18.2 21.2,16.7 22,15.3 23.2,14.2 24.7,13.6 26.2,13.5 27.4,14.1 28.3,15.2 28.6,16.6 28.3,18.1 27.4,19.5 26.2,20.6" fill="#1E1E1E"/><polygon points="29.3,18 28.2,17.4 27.1,18.4 27.5,17 26.4,16.5 27.7,16.1 28.2,14.8 28.6,16 30,15.8 28.9,16.8" fill="#FFFFFF"/><use href="#pc" class="o"/></g>
<g transform="translate(552.7,957.4)" opacity="0.72" clip-path="url(#c)"><polygon points="0,2.9 5.5,3.8 10.9,4 16.4,3.5 16.4,34.7 10.9,35.2 5.5,35 0,34.1" fill="#F58A1F"/><polygon points="16.2,3.5 21.7,2.5 27.1,1.3 32.6,0.3 32.6,31.5 27.1,32.5 21.7,33.7 16.2,34.7" fill="#FFFFFF"/><polygon points="32.4,0.4 37.8,0 43.2,0.3 48.6,1.3 48.6,32.5 43.2,31.5 37.8,31.2 32.4,31.6" fill="#0E9A5A"/><use href="#pc" class="o"/></g>
<g transform="translate(551.7,934.4)" opacity="0.72" clip-path="url(#c)"><polygon points="0,2.9 6.1,3.8 12.2,3.9 18.2,3.2 24.3,1.9 30.4,0.7 36.5,0 42.5,0.3 48.6,1.3 48.6,11.8 42.5,10.8 36.5,10.6 30.4,11.2 24.3,12.4 18.2,13.7 12.2,14.5 6.1,14.4 0,13.5" fill="#D8232E"/><polygon points="0,13.3 6.1,14.2 12.2,14.3 18.2,13.6 24.3,12.3 30.4,11.1 36.5,10.4 42.5,10.7 48.6,11.7 48.6,22.2 42.5,21.2 36.5,21 30.4,21.6 24.3,22.8 18.2,24.1 12.2,24.9 6.1,24.8 0,23.9" fill="#FFFFFF"/><polygon points="0,34.1 0,23.7 6.1,24.6 12.2,24.7 18.2,24 24.3,22.7 30.4,21.5 36.5,20.8 42.5,21.1 48.6,22.1 48.6,32.5 42.5,31.5 36.5,31.2 30.4,31.9 24.3,33.1 18.2,34.4 12.2,35.1 6.1,35" fill="#1E1E1E"/><polygon points="24.3,20.6 23.1,20.6 22.1,20.2 21.4,19.3 21.2,18.2 21.4,16.9 22.1,15.8 23.1,14.9 24.3,14.4 25.5,14.3 26.5,14.8 27.2,15.7 27.4,16.8 27.2,18.1 26.5,19.2 25.5,20.1" fill="#D9B13A"/><use href="#pc" class="o"/></g>
<g transform="translate(517.7,959.9)" opacity="0.72" clip-path="url(#c)"><polygon points="0,2.9 6.1,3.8 12.2,3.9 18.2,3.2 24.3,1.9 30.4,0.7 36.5,0 42.5,0.3 48.6,1.3 48.6,17 42.5,16 36.5,15.8 30.4,16.4 24.3,17.6 18.2,18.9 12.2,19.7 6.1,19.6 0,18.7" fill="#E02836"/><polygon points="0,34.1 0,18.5 6.1,19.4 12.2,19.5 18.2,18.8 24.3,17.5 30.4,16.3 36.5,15.6 42.5,15.9 48.6,16.9 48.6,32.5 42.5,31.5 36.5,31.2 30.4,31.9 24.3,33.1 18.2,34.4 12.2,35.1 6.1,35" fill="#FFFFFF"/><use href="#pc" class="o"/></g>
<g transform="translate(684.7,934.9)" opacity="0.72" clip-path="url(#c)"><polygon points="0,2.9 6.1,3.8 12.2,3.9 18.2,3.2 24.3,1.9 30.4,0.7 36.5,0 42.5,0.3 48.6,1.3 48.6,7.6 42.5,6.6 36.5,6.4 30.4,7 24.3,8.3 18.2,9.5 12.2,10.3 6.1,10.2 0,9.3" fill="#2A4AAE"/><polygon points="0,9.2 6.1,10.1 12.2,10.2 18.2,9.4 24.3,8.1 30.4,6.9 36.5,6.3 42.5,6.5 48.6,7.5 48.6,13.9 42.5,12.9 36.5,12.6 30.4,13.3 24.3,14.5 18.2,15.8 12.2,16.5 6.1,16.4 0,15.5" fill="#FFFFFF"/><polygon points="0,15.4 6.1,16.3 12.2,16.4 18.2,15.6 24.3,14.4 30.4,13.1 36.5,12.5 42.5,12.7 48.6,13.7 48.6,20.1 42.5,19.1 36.5,18.9 30.4,19.5 24.3,20.7 18.2,22 12.2,22.8 6.1,22.7 0,21.8" fill="#2A4AAE"/><polygon points="0,21.7 6.1,22.6 12.2,22.6 18.2,21.9 24.3,20.6 30.4,19.4 36.5,18.7 42.5,19 48.6,20 48.6,26.3 42.5,25.3 36.5,25.1 30.4,25.7 24.3,27 18.2,28.3 12.2,29 6.1,28.9 0,28" fill="#FFFFFF"/><polygon points="0,34.1 0,27.9 6.1,28.8 12.2,28.9 18.2,28.1 24.3,26.9 30.4,25.6 36.5,25 42.5,25.2 48.6,26.2 48.6,32.5 42.5,31.5 36.5,31.2 30.4,31.9 24.3,33.1 18.2,34.4 12.2,35.1 6.1,35" fill="#2A4AAE"/><polygon points="20.4,18.3 15.3,23.1 10.2,27.4 5.1,31 0,34.1 0,2.9 5.1,7.6 10.2,11.8 15.3,15.3" fill="#DA2339"/><polygon points="8.5,21.9 6.8,20.6 5.2,21.6 5.7,19.8 4.1,18.4 6.1,18.5 6.8,16.7 7.5,18.6 9.5,18.7 7.9,19.9" fill="#FFFFFF"/><use href="#pc" class="o"/></g>
<g transform="translate(670.7,932.4)" opacity="0.72" clip-path="url(#c)"><polygon points="0,2.9 6.1,3.8 12.2,3.9 18.2,3.2 24.3,1.9 30.4,0.7 36.5,0 42.5,0.3 48.6,1.3 48.6,32.5 42.5,31.5 36.5,31.2 30.4,31.9 24.3,33.1 18.2,34.4 12.2,35.1 6.1,35 0,34.1" fill="#E02836"/><polygon points="24.3,25.3 21.3,25.4 18.8,24.2 17.1,21.9 16.5,19.1 17.1,16 18.8,13.1 21.3,10.9 24.3,9.7 27.3,9.6 29.8,10.8 31.5,13.1 32.1,16 31.5,19.1 29.8,21.9 27.3,24.1" fill="#FCD535"/><polygon points="24.3,22.2 22.5,22.2 21,21.5 20,20.2 19.6,18.5 20,16.6 21,14.9 22.5,13.6 24.3,12.8 26.1,12.8 27.6,13.5 28.6,14.8 29,16.5 28.6,18.4 27.6,20.1 26.1,21.4" fill="#E8503A"/><polygon points="24.3,20.3 23.2,20.3 22.3,19.9 21.7,19.1 21.5,18.1 21.7,17 22.3,15.9 23.2,15.1 24.3,14.7 25.4,14.7 26.3,15.1 26.9,15.9 27.1,16.9 26.9,18 26.3,19 25.4,19.8" fill="#FCD535"/><use href="#pc" class="o"/></g>
<g transform="translate(618.7,946.4)" opacity="0.72" clip-path="url(#c)"><polygon points="0,2.9 6.1,3.8 12.2,3.9 18.2,3.2 24.3,1.9 30.4,0.7 36.5,0 42.5,0.3 48.6,1.3 48.6,17 42.5,16 36.5,15.8 30.4,16.4 24.3,17.6 18.2,18.9 12.2,19.7 6.1,19.6 0,18.7" fill="#E8402E"/><polygon points="0,34.1 0,18.5 6.1,19.4 12.2,19.5 18.2,18.8 24.3,17.5 30.4,16.3 36.5,15.6 42.5,15.9 48.6,16.9 48.6,32.5 42.5,31.5 36.5,31.2 30.4,31.9 24.3,33.1 18.2,34.4 12.2,35.1 6.1,35" fill="#2A3FA0"/><polygon points="0,11.4 0,25.7 6.1,26.6 12.2,26.7 18.2,25.9 24.3,24.7 30.4,23.4 36.5,22.8 42.5,23 48.6,24 48.6,9.7 42.5,8.7 36.5,8.5 30.4,9.1 24.3,10.3 18.2,11.6 12.2,12.4 6.1,12.3" fill="#FFFFFF"/><polygon points="24.3,17.5 18.2,22.7 12.2,27.3 6.1,31.1 0,34.1 0,2.9 6.1,7.7 12.2,11.7 18.2,14.9" fill="#FFFFFF"/><polygon points="0,13.9 0,23.2 6.1,24.1 12.2,24.2 18.2,23.4 24.3,22.2 30.4,20.9 36.5,20.3 42.5,20.5 48.6,21.5 48.6,12.2 42.5,11.2 36.5,10.9 30.4,11.6 24.3,12.8 18.2,14.1 12.2,14.8 6.1,14.8" fill="#0E8F5A"/><polygon points="21.4,18.1 16,22.4 10.7,26.1 5.3,29.2 0,31.6 0,5.4 5.3,9.5 10.7,13 16,15.8" fill="#0E8F5A"/><polygon points="14.6,19.3 9.7,22.7 4.9,25.6 0,27.9 0,9.2 4.9,13.1 9.7,16.5" fill="#FCD535"/><polygon points="10.2,19.6 5.1,22.5 0,24.8 0,12.3 5.1,16.2" fill="#1E1E1E"/><use href="#pc" class="o"/></g>
<g transform="translate(740.7,965.4)" opacity="0.72" clip-path="url(#c)"><polygon points="0,2.9 6.1,3.8 12.2,3.9 18.2,3.2 24.3,1.9 30.4,0.7 36.5,0 42.5,0.3 48.6,1.3 48.6,11.8 42.5,10.8 36.5,10.6 30.4,11.2 24.3,12.4 18.2,13.7 12.2,14.5 6.1,14.4 0,13.5" fill="#1FB5CE"/><polygon points="0,13.3 6.1,14.2 12.2,14.3 18.2,13.6 24.3,12.3 30.4,11.1 36.5,10.4 42.5,10.7 48.6,11.7 48.6,22.2 42.5,21.2 36.5,21 30.4,21.6 24.3,22.8 18.2,24.1 12.2,24.9 6.1,24.8 0,23.9" fill="#FCD535"/><polygon points="0,34.1 0,23.7 6.1,24.6 12.2,24.7 18.2,24 24.3,22.7 30.4,21.5 36.5,20.8 42.5,21.1 48.6,22.1 48.6,32.5 42.5,31.5 36.5,31.2 30.4,31.9 24.3,33.1 18.2,34.4 12.2,35.1 6.1,35" fill="#1FB5CE"/><polygon points="20.4,18.3 15.3,23.1 10.2,27.4 5.1,31 0,34.1 0,2.9 5.1,7.6 10.2,11.8 15.3,15.3" fill="#1E1E1E"/><use href="#pc" class="o"/></g>
<g transform="translate(778.7,965.9)" opacity="0.72" clip-path="url(#c)"><polygon points="0,2.9 6.1,3.8 12.2,3.9 18.2,3.2 24.3,1.9 30.4,0.7 36.5,0 42.5,0.3 48.6,1.3 48.6,11.8 42.5,10.8 36.5,10.6 30.4,11.2 24.3,12.4 18.2,13.7 12.2,14.5 6.1,14.4 0,13.5" fill="#D8283C"/><polygon points="0,13.3 6.1,14.2 12.2,14.3 18.2,13.6 24.3,12.3 30.4,11.1 36.5,10.4 42.5,10.7 48.6,11.7 48.6,22.2 42.5,21.2 36.5,21 30.4,21.6 24.3,22.8 18.2,24.1 12.2,24.9 6.1,24.8 0,23.9" fill="#FFFFFF"/><polygon points="0,34.1 0,23.7 6.1,24.6 12.2,24.7 18.2,24 24.3,22.7 30.4,21.5 36.5,20.8 42.5,21.1 48.6,22.1 48.6,32.5 42.5,31.5 36.5,31.2 30.4,31.9 24.3,33.1 18.2,34.4 12.2,35.1 6.1,35" fill="#2E8F55"/><use href="#pc" class="o"/></g>
<g transform="translate(876.7,968.4)" opacity="0.72" clip-path="url(#c)"><polygon points="0,2.9 6.1,3.8 12.2,3.9 18.2,3.2 24.3,1.9 30.4,0.7 36.5,0 42.5,0.3 48.6,1.3 48.6,11.8 42.5,10.8 36.5,10.6 30.4,11.2 24.3,12.4 18.2,13.7 12.2,14.5 6.1,14.4 0,13.5" fill="#E0232E"/><polygon points="0,13.3 6.1,14.2 12.2,14.3 18.2,13.6 24.3,12.3 30.4,11.1 36.5,10.4 42.5,10.7 48.6,11.7 48.6,22.2 42.5,21.2 36.5,21 30.4,21.6 24.3,22.8 18.2,24.1 12.2,24.9 6.1,24.8 0,23.9" fill="#2A3FB5"/><polygon points="0,34.1 0,23.7 6.1,24.6 12.2,24.7 18.2,24 24.3,22.7 30.4,21.5 36.5,20.8 42.5,21.1 48.6,22.1 48.6,32.5 42.5,31.5 36.5,31.2 30.4,31.9 24.3,33.1 18.2,34.4 12.2,35.1 6.1,35" fill="#F5A21F"/><use href="#pc" class="o"/></g>
<g transform="translate(143.7,978.9)" opacity="0.72" clip-path="url(#c)"><polygon points="0,2.9 6.1,3.8 12.2,3.9 18.2,3.2 24.3,1.9 30.4,0.7 36.5,0 42.5,0.3 48.6,1.3 48.6,11.8 42.5,10.8 36.5,10.6 30.4,11.2 24.3,12.4 18.2,13.7 12.2,14.5 6.1,14.4 0,13.5" fill="#0E8A7A"/><polygon points="0,13.3 6.1,14.2 12.2,14.3 18.2,13.6 24.3,12.3 30.4,11.1 36.5,10.4 42.5,10.7 48.6,11.7 48.6,22.2 42.5,21.2 36.5,21 30.4,21.6 24.3,22.8 18.2,24.1 12.2,24.9 6.1,24.8 0,23.9" fill="#1E1E1E"/><polygon points="0,34.1 0,23.7 6.1,24.6 12.2,24.7 18.2,24 24.3,22.7 30.4,21.5 36.5,20.8 42.5,21.1 48.6,22.1 48.6,32.5 42.5,31.5 36.5,31.2 30.4,31.9 24.3,33.1 18.2,34.4 12.2,35.1 6.1,35" fill="#FCD535"/><polygon points="0,12.8 6.1,13.7 12.2,13.8 18.2,13 24.3,11.7 30.4,10.5 36.5,9.9 42.5,10.1 48.6,11.1 48.6,12 42.5,11 36.5,10.8 30.4,11.4 24.3,12.7 18.2,13.9 12.2,14.7 6.1,14.6 0,13.7" fill="#FFFFFF"/><polygon points="0,23.4 6.1,24.3 12.2,24.4 18.2,23.6 24.3,22.3 30.4,21.1 36.5,20.5 42.5,20.7 48.6,21.7 48.6,22.6 42.5,21.6 36.5,21.4 30.4,22 24.3,23.3 18.2,24.5 12.2,25.3 6.1,25.2 0,24.3" fill="#FFFFFF"/><polygon points="18.5,18.7 12.3,24.7 6.2,29.8 0,34.1 0,2.9 6.2,9 12.3,14.3" fill="#DA2339"/><polygon points="8.9,23.1 6.3,21.2 3.8,22.7 4.7,19.8 2.2,17.6 5.3,17.9 6.3,15.1 7.3,18.1 10.5,18.2 8,20.1" fill="#FCD535"/><polygon points="4.1,24 9.9,15.7 8.6,14.8 2.8,23" fill="#1E1E1E"/><polygon points="2.8,15.1 8.6,24.4 9.9,23.5 4.1,14.4" fill="#1E1E1E"/><use href="#pc" class="o"/></g>
<g transform="translate(241.7,984.4)" opacity="0.72" clip-path="url(#c)"><polygon points="0,2.9 6.1,3.8 12.2,3.9 18.2,3.2 24.3,1.9 30.4,0.7 36.5,0 42.5,0.3 48.6,1.3 48.6,9.2 42.5,8.2 36.5,8 30.4,8.6 24.3,9.8 18.2,11.1 12.2,11.9 6.1,11.8 0,10.9" fill="#1F3FA8"/><polygon points="0,10.7 6.1,11.6 12.2,11.7 18.2,11 24.3,9.7 30.4,8.5 36.5,7.8 42.5,8.1 48.6,9.1 48.6,17 42.5,16 36.5,15.8 30.4,16.4 24.3,17.6 18.2,18.9 12.2,19.7 6.1,19.6 0,18.7" fill="#FFFFFF"/><polygon points="0,18.5 6.1,19.4 12.2,19.5 18.2,18.8 24.3,17.5 30.4,16.3 36.5,15.6 42.5,15.9 48.6,16.9 48.6,24.8 42.5,23.8 36.5,23.6 30.4,24.2 24.3,25.4 18.2,26.7 12.2,27.5 6.1,27.4 0,26.5" fill="#2FA33F"/><polygon points="0,34.1 0,26.3 6.1,27.2 12.2,27.3 18.2,26.6 24.3,25.3 30.4,24.1 36.5,23.4 42.5,23.7 48.6,24.7 48.6,32.5 42.5,31.5 36.5,31.2 30.4,31.9 24.3,33.1 18.2,34.4 12.2,35.1 6.1,35" fill="#FCD535"/><polygon points="20.4,2.7 24.3,1.9 28.2,1.1 28.2,32.3 24.3,33.1 20.4,33.9" fill="#DA2339"/><polygon points="8.2,10.5 6.3,9.2 4.5,10.2 5.1,8.2 3.4,6.6 5.6,6.8 6.3,4.8 7.1,7 9.3,7.1 7.5,8.4" fill="#FCD535"/><use href="#pc" class="o"/></g>
<g transform="translate(281.7,981.9)" opacity="0.72" clip-path="url(#c)"><polygon points="0,2.9 6.1,3.8 12.2,3.9 18.2,3.2 24.3,1.9 30.4,0.7 36.5,0 42.5,0.3 48.6,1.3 48.6,32.5 42.5,31.5 36.5,31.2 30.4,31.9 24.3,33.1 18.2,34.4 12.2,35.1 6.1,35 0,34.1" fill="#1FA4E0"/><polygon points="38.8,0 33.2,3.8 27.7,8.3 22.2,13 16.6,17.7 11.1,21.8 5.5,25.1 0,27.8 0,34.1 4.9,34.9 9.8,35.2 15.4,31.3 20.9,26.7 26.4,22 32,17.4 37.5,13.4 43.1,10.2 48.6,7.6 48.6,1.3 43.7,0.4" fill="#FCD535"/><polygon points="42.2,0.2 36.2,3.9 30.2,8.4 24.1,13.6 18.1,18.7 12.1,23.3 6,27.1 0,30.1 0,34.1 3.2,34.7 6.4,35.1 12.4,31.2 18.4,26.6 24.5,21.4 30.5,16.3 36.5,11.9 42.6,8.2 48.6,5.3 48.6,1.3 45.4,0.7" fill="#DA2339"/><polygon points="9.9,16.4 6.8,14.1 3.7,16 4.8,12.5 1.8,9.7 5.6,10.2 6.8,6.7 8.1,10.4 11.8,10.4 8.8,12.8" fill="#FCD535"/><use href="#pc" class="o"/></g>
<g transform="translate(726.7,986.9)" opacity="0.72" clip-path="url(#c)"><polygon points="0,2.9 6.1,3.8 12.2,3.9 18.2,3.2 24.3,1.9 30.4,0.7 36.5,0 42.5,0.3 48.6,1.3 48.6,11.8 42.5,10.8 36.5,10.6 30.4,11.2 24.3,12.4 18.2,13.7 12.2,14.5 6.1,14.4 0,13.5" fill="#FFFFFF"/><polygon points="0,13.3 6.1,14.2 12.2,14.3 18.2,13.6 24.3,12.3 30.4,11.1 36.5,10.4 42.5,10.7 48.6,11.7 48.6,22.2 42.5,21.2 36.5,21 30.4,21.6 24.3,22.8 18.2,24.1 12.2,24.9 6.1,24.8 0,23.9" fill="#0E9A6A"/><polygon points="0,34.1 0,23.7 6.1,24.6 12.2,24.7 18.2,24 24.3,22.7 30.4,21.5 36.5,20.8 42.5,21.1 48.6,22.1 48.6,32.5 42.5,31.5 36.5,31.2 30.4,31.9 24.3,33.1 18.2,34.4 12.2,35.1 6.1,35" fill="#DA3A30"/><use href="#pc" class="o"/></g>
<g transform="translate(800.7,988.9)" opacity="0.72" clip-path="url(#c)"><polygon points="0,2.9 6.1,3.8 12.2,3.9 18.2,3.2 24.3,1.9 30.4,0.7 36.5,0 42.5,0.3 48.6,1.3 48.6,17 42.5,16 36.5,15.8 30.4,16.4 24.3,17.6 18.2,18.9 12.2,19.7 6.1,19.6 0,18.7" fill="#FFFFFF"/><polygon points="0,34.1 0,18.5 6.1,19.4 12.2,19.5 18.2,18.8 24.3,17.5 30.4,16.3 36.5,15.6 42.5,15.9 48.6,16.9 48.6,32.5 42.5,31.5 36.5,31.2 30.4,31.9 24.3,33.1 18.2,34.4 12.2,35.1 6.1,35" fill="#E0283C"/><use href="#pc" class="o"/></g>
<g transform="translate(776.7,997.4)" opacity="0.72" clip-path="url(#c)"><polygon points="0,2.9 6.1,3.8 12.2,3.9 18.2,3.2 24.3,1.9 30.4,0.7 36.5,0 42.5,0.3 48.6,1.3 48.6,32.5 42.5,31.5 36.5,31.2 30.4,31.9 24.3,33.1 18.2,34.4 12.2,35.1 6.1,35 0,34.1" fill="#E0232E"/><polygon points="35,17.3 31.6,18.4 28.2,19.8 24.3,26.9 20.4,21.5 17,21.3 13.6,21 16.5,16.6 13.6,12.6 19.4,12.3 24.3,8.8 29.2,10.2 35,8.8 32.1,13.5" fill="#1E1E1E"/><use href="#pc" class="o"/></g>
<g transform="translate(984.7,1015.4)" opacity="0.72" clip-path="url(#c)"><polygon points="0,2.9 6.1,3.8 12.2,3.9 18.2,3.2 24.3,1.9 30.4,0.7 36.5,0 42.5,0.3 48.6,1.3 48.6,32.5 42.5,31.5 36.5,31.2 30.4,31.9 24.3,33.1 18.2,34.4 12.2,35.1 6.1,35 0,34.1" fill="#E0283C"/><polygon points="17.5,12.7 12.2,16.4 17.5,18.9 12.2,22.6 17.5,25.1 12.2,28.9 17.5,31.4 12.2,35.1 6.1,35 0,34.1 0,2.9 6.1,3.8 12.2,3.9 17.5,6.4 12.2,10.2" fill="#FFFFFF"/><use href="#pc" class="o"/></g>
<g transform="translate(976.7,1013.4)" opacity="0.72" clip-path="url(#c)"><polygon points="0,2.9 6.1,3.8 12.2,3.9 18.2,3.2 24.3,1.9 30.4,0.7 36.5,0 42.5,0.3 48.6,1.3 48.6,32.5 42.5,31.5 36.5,31.2 30.4,31.9 24.3,33.1 18.2,34.4 12.2,35.1 6.1,35 0,34.1" fill="#FFFFFF"/><polygon points="24.3,1.9 30.4,0.7 36.5,0 42.5,0.3 48.6,1.3 48.6,16.9 42.5,15.9 36.5,15.6 30.4,16.3 24.3,17.5" fill="#DA2339"/><polygon points="0,18.5 6.1,19.4 12.2,19.5 18.2,18.8 24.3,17.5 24.3,33.1 18.2,34.4 12.2,35.1 6.1,35 0,34.1" fill="#1F72C8"/><polygon points="14,14.1 12.2,13 10.3,14.3 11,12.2 9.2,10.8 11.4,10.8 12.2,8.6 12.9,10.7 15.1,10.5 13.3,12" fill="#1F72C8"/><polygon points="38.3,25.9 36.5,24.7 34.6,26.1 35.3,23.9 33.5,22.7 35.7,22.4 36.5,20.3 37.2,22.4 39.4,22.5 37.6,23.8" fill="#DA2339"/><use href="#pc" class="o"/></g>
<g transform="translate(1019.7,996.9)" opacity="0.72" clip-path="url(#c)"><polygon points="0,2.9 6.1,3.8 12.2,3.9 18.2,3.2 24.3,1.9 30.4,0.7 36.5,0 42.5,0.3 48.6,1.3 48.6,32.5 42.5,31.5 36.5,31.2 30.4,31.9 24.3,33.1 18.2,34.4 12.2,35.1 6.1,35 0,34.1" fill="#1F72B8"/><polygon points="14.6,3.7 18,3.2 21.4,2.5 21.4,33.7 18,34.4 14.6,34.9" fill="#FCD535"/><polygon points="0,15.4 6.1,16.3 12.2,16.4 18.2,15.6 24.3,14.4 30.4,13.1 36.5,12.5 42.5,12.7 48.6,13.7 48.6,20 42.5,19 36.5,18.7 30.4,19.4 24.3,20.6 18.2,21.9 12.2,22.6 6.1,22.6 0,21.7" fill="#FCD535"/><use href="#pc" class="o"/></g>
<g transform="translate(1047.7,983.4)" opacity="0.72" clip-path="url(#c)"><polygon points="0,2.9 6.1,3.8 12.2,3.9 18.2,3.2 24.3,1.9 30.4,0.7 36.5,0 42.5,0.3 48.6,1.3 48.6,32.5 42.5,31.5 36.5,31.2 30.4,31.9 24.3,33.1 18.2,34.4 12.2,35.1 6.1,35 0,34.1" fill="#26358A"/><polygon points="5.8,3.8 0,2.9 0,6.6 6.1,11.5 12.2,15.5 18.4,18.6 24.5,21.3 30.6,24 36.7,27.3 42.8,31.5 48.6,32.5 48.6,28.8 42.5,23.8 36.4,19.7 30.2,16.4 24.1,13.7 18,11.1 11.9,7.9" fill="#FFFFFF"/><polygon points="42.8,0.3 36.7,3.9 30.6,8.5 24.5,13.6 18.4,18.9 12.2,23.6 6.1,27.4 0,30.4 0,34.1 5.8,35 11.9,31.2 18,26.6 24.1,21.3 30.2,16.2 36.4,11.6 42.5,7.9 48.6,5 48.6,1.3" fill="#FFFFFF"/><polygon points="2,3.3 0,2.9 0,4.2 5.8,8.8 11.6,12.7 17.5,15.8 23.3,18.4 29.1,20.9 34.9,23.8 40.8,27.6 46.6,32.1 48.6,32.5 48.6,31.2 42.8,26.5 37,22.4 31.1,19.2 25.3,16.6 19.5,14.1 13.7,11.3 7.8,7.7" fill="#DA2339"/><polygon points="46.6,0.9 40.8,3.8 34.9,7.6 29.1,12.1 23.3,17.1 17.5,22 11.6,26.4 5.8,30 0,32.8 0,34.1 2,34.5 7.8,31.4 13.7,27.5 19.5,22.9 25.3,17.9 31.1,13.1 37,8.8 42.8,5.3 48.6,2.6 48.6,1.3" fill="#DA2339"/><polygon points="19,3 24.3,1.9 29.6,0.8 29.6,32 24.3,33.1 19,34.2" fill="#FFFFFF"/><polygon points="0,13.2 6.1,14.1 12.2,14.2 18.2,13.5 24.3,12.2 30.4,11 36.5,10.3 42.5,10.6 48.6,11.6 48.6,22.2 42.5,21.2 36.5,20.9 30.4,21.6 24.3,22.8 18.2,24.1 12.2,24.8 6.1,24.7 0,23.8" fill="#FFFFFF"/><polygon points="21.2,2.6 27.4,1.2 27.4,32.4 21.2,33.8" fill="#DA2339"/><polygon points="0,15.4 6.1,16.3 12.2,16.4 18.2,15.6 24.3,14.4 30.4,13.1 36.5,12.5 42.5,12.7 48.6,13.7 48.6,20 42.5,19 36.5,18.7 30.4,19.4 24.3,20.6 18.2,21.9 12.2,22.6 6.1,22.6 0,21.7" fill="#DA2339"/><use href="#pc" class="o"/></g>
<g transform="translate(323.7,997.9)" opacity="0.72" clip-path="url(#c)"><polygon points="0,2.9 6.1,3.8 12.2,3.9 18.2,3.2 24.3,1.9 30.4,0.7 36.5,0 42.5,0.3 48.6,1.3 48.6,11.4 42.5,10.4 36.5,10.2 30.4,10.9 24.3,12.1 18.2,13.4 12.2,14.1 6.1,14 0,13.1" fill="#1E1E1E"/><polygon points="0,13 6.1,13.9 12.2,14 18.2,13.2 24.3,12 30.4,10.7 36.5,10.1 42.5,10.3 48.6,11.3 48.6,22.5 42.5,21.5 36.5,21.3 30.4,21.9 24.3,23.2 18.2,24.4 12.2,25.2 6.1,25.1 0,24.2" fill="#C8232E"/><polygon points="0,34.1 0,24.1 6.1,25 12.2,25.1 18.2,24.3 24.3,23 30.4,21.8 36.5,21.2 42.5,21.4 48.6,22.4 48.6,32.5 42.5,31.5 36.5,31.2 30.4,31.9 24.3,33.1 18.2,34.4 12.2,35.1 6.1,35" fill="#0E7A3A"/><polygon points="0,12 6.1,12.9 12.2,13 18.2,12.2 24.3,10.9 30.4,9.7 36.5,9.1 42.5,9.3 48.6,10.3 48.6,11.6 42.5,10.6 36.5,10.3 30.4,11 24.3,12.2 18.2,13.5 12.2,14.2 6.1,14.1 0,13.2" fill="#FFFFFF"/><polygon points="0,23.8 6.1,24.7 12.2,24.8 18.2,24.1 24.3,22.8 30.4,21.6 36.5,20.9 42.5,21.2 48.6,22.2 48.6,23.4 42.5,22.4 36.5,22.2 30.4,22.8 24.3,24 18.2,25.3 12.2,26.1 6.1,26 0,25.1" fill="#FFFFFF"/><polygon points="24.3,7.5 28.2,16.7 24.3,27.5 20.4,18.3" fill="#C8232E"/><polygon points="24.3,11.3 25.8,17.2 24.3,23.7 22.8,17.8" fill="#FFFFFF"/><polygon points="20.8,27.2 24.7,17.6 28.6,8 27.8,7.8 23.9,17.4 20,27" fill="#FFFFFF"/><polygon points="20,9.9 23.9,17.8 27.8,25.7 28.6,25.1 24.7,17.2 20.8,9.3" fill="#FFFFFF"/><polygon points="24.3,8.1 27.2,16.9 24.3,26.9 21.4,18.1" fill="#C8232E"/><polygon points="25.8,10.9 22.8,11.6 24.3,8.1" fill="#1E1E1E"/><polygon points="25.8,23.4 22.8,24.1 24.3,26.9" fill="#1E1E1E"/><polygon points="23.8,14.5 24.8,14.3 24.8,20.5 23.8,20.7" fill="#FFFFFF"/><use href="#pc" class="o"/></g>
<g transform="translate(897.7,992.9)" opacity="0.72" clip-path="url(#c)"><polygon points="0,2.9 6.1,3.8 12.2,3.9 18.2,3.2 24.3,1.9 30.4,0.7 36.5,0 42.5,0.3 48.6,1.3 48.6,17 42.5,16 36.5,15.8 30.4,16.4 24.3,17.6 18.2,18.9 12.2,19.7 6.1,19.6 0,18.7" fill="#FFFFFF"/><polygon points="0,34.1 0,18.5 6.1,19.4 12.2,19.5 18.2,18.8 24.3,17.5 30.4,16.3 36.5,15.6 42.5,15.9 48.6,16.9 48.6,32.5 42.5,31.5 36.5,31.2 30.4,31.9 24.3,33.1 18.2,34.4 12.2,35.1 6.1,35" fill="#DA2339"/><polygon points="0,2.9 5.5,3.8 11,4 16.5,3.5 16.5,19.1 11,19.6 5.5,19.4 0,18.5" fill="#1F3FA8"/><polygon points="10.1,14.3 8.3,13 6.4,14.2 7.1,12.1 5.3,10.6 7.5,10.7 8.3,8.7 9,10.8 11.2,10.8 9.4,12.2" fill="#FFFFFF"/><use href="#pc" class="o"/></g>
<g transform="translate(878.7,1002.4)" opacity="0.72" clip-path="url(#c)"><polygon points="0,2.9 5.5,3.8 10.9,4 16.4,3.5 16.4,34.7 10.9,35.2 5.5,35 0,34.1" fill="#0F2F85"/><polygon points="16.2,3.5 21.7,2.5 27.1,1.3 32.6,0.3 32.6,31.5 27.1,32.5 21.7,33.7 16.2,34.7" fill="#FCD535"/><polygon points="32.4,0.4 37.8,0 43.2,0.3 48.6,1.3 48.6,32.5 43.2,31.5 37.8,31.2 32.4,31.6" fill="#DA2339"/><use href="#pc" class="o"/></g>
<g transform="translate(916.7,983.4)" opacity="0.72" clip-path="url(#c)"><polygon points="0,2.9 5.5,3.8 10.9,4 16.4,3.5 16.4,34.7 10.9,35.2 5.5,35 0,34.1" fill="#1020B0"/><polygon points="16.2,3.5 21.7,2.5 27.1,1.3 32.6,0.3 32.6,31.5 27.1,32.5 21.7,33.7 16.2,34.7" fill="#FCD535"/><polygon points="32.4,0.4 37.8,0 43.2,0.3 48.6,1.3 48.6,32.5 43.2,31.5 37.8,31.2 32.4,31.6" fill="#DA3A3A"/><polygon points="24.3,22.5 22.4,22.5 20.8,21.8 19.7,20.4 19.3,18.6 19.7,16.6 20.8,14.7 22.4,13.3 24.3,12.5 26.2,12.5 27.8,13.2 28.9,14.6 29.3,16.5 28.9,18.4 27.8,20.3 26.2,21.7" fill="#8A6A3A"/><use href="#pc" class="o"/></g>
<g transform="translate(576.7,1016.4)" opacity="0.72" clip-path="url(#c)"><polygon points="0,2.9 5.5,3.8 10.9,4 16.4,3.5 16.4,34.7 10.9,35.2 5.5,35 0,34.1" fill="#0E8A5A"/><polygon points="16.2,3.5 21.7,2.5 27.1,1.3 32.6,0.3 32.6,31.5 27.1,32.5 21.7,33.7 16.2,34.7" fill="#DA2339"/><polygon points="32.4,0.4 37.8,0 43.2,0.3 48.6,1.3 48.6,32.5 43.2,31.5 37.8,31.2 32.4,31.6" fill="#FCD535"/><polygon points="26.1,19.6 24.3,18.7 22.5,20.4 23.1,18.1 21.3,17.2 23.6,16.6 24.3,14.4 25,16.3 27.3,15.9 25.5,17.6" fill="#FCD535"/><use href="#pc" class="o"/></g>
<g transform="translate(596.7,1003.9)" opacity="0.72" clip-path="url(#c)"><polygon points="0,2.9 6.1,3.8 12.2,3.9 18.2,3.2 24.3,1.9 30.4,0.7 36.5,0 42.5,0.3 48.6,1.3 48.6,11.8 42.5,10.8 36.5,10.6 30.4,11.2 24.3,12.4 18.2,13.7 12.2,14.5 6.1,14.4 0,13.5" fill="#1FA0C8"/><polygon points="0,13.3 6.1,14.2 12.2,14.3 18.2,13.6 24.3,12.3 30.4,11.1 36.5,10.4 42.5,10.7 48.6,11.7 48.6,22.2 42.5,21.2 36.5,21 30.4,21.6 24.3,22.8 18.2,24.1 12.2,24.9 6.1,24.8 0,23.9" fill="#FFFFFF"/><polygon points="0,34.1 0,23.7 6.1,24.6 12.2,24.7 18.2,24 24.3,22.7 30.4,21.5 36.5,20.8 42.5,21.1 48.6,22.1 48.6,32.5 42.5,31.5 36.5,31.2 30.4,31.9 24.3,33.1 18.2,34.4 12.2,35.1 6.1,35" fill="#2FB33F"/><polygon points="0,12.9 6.1,13.8 12.2,13.9 18.2,13.2 24.3,11.9 30.4,10.6 36.5,10 42.5,10.2 48.6,11.2 48.6,12.2 42.5,11.2 36.5,10.9 30.4,11.6 24.3,12.8 18.2,14.1 12.2,14.8 6.1,14.8 0,13.9" fill="#DA2339"/><polygon points="0,23.2 6.1,24.1 12.2,24.2 18.2,23.4 24.3,22.2 30.4,20.9 36.5,20.3 42.5,20.5 48.6,21.5 48.6,22.5 42.5,21.5 36.5,21.2 30.4,21.9 24.3,23.1 18.2,24.4 12.2,25.1 6.1,25.1 0,24.2" fill="#DA2339"/><polygon points="4.9,12.8 3.4,12.3 2.2,11.3 1.4,9.9 1.1,8.5 1.4,7.1 2.2,6 3.4,5.4 4.9,5.3 6.3,5.7 7.5,6.6 8.3,7.8 8.6,9.3 8.3,10.7 7.5,11.9 6.3,12.6" fill="#FFFFFF"/><polygon points="6.4,12.3 5.1,12 4.1,11.2 3.4,10 3.2,8.8 3.4,7.6 4.1,6.7 5.1,6.1 6.4,6 7.6,6.3 8.6,7 9.3,8.1 9.5,9.3 9.3,10.5 8.6,11.5 7.6,12.2" fill="#1FA0C8"/><use href="#pc" class="o"/></g>
<g transform="translate(627.7,1008.4)" opacity="0.72" clip-path="url(#c)"><polygon points="0,2.9 6.1,3.8 12.2,3.9 18.4,3.1 24.5,1.8 24.5,33 18.4,34.3 12.2,35.1 6.1,35 0,34.1" fill="#0E8A4A"/><polygon points="24.3,1.9 30.4,0.7 36.5,0 42.5,0.3 48.6,1.3 48.6,32.5 42.5,31.5 36.5,31.2 30.4,31.9 24.3,33.1" fill="#FFFFFF"/><polygon points="25.3,25.1 22.3,25.1 19.8,24 18.1,21.8 17.5,18.9 18.1,15.8 19.8,13 22.3,10.7 25.3,9.5 28.3,9.4 30.8,10.7 32.5,13 33.1,15.9 32.5,18.9 30.8,21.7 28.3,23.9" fill="#E0283C"/><polygon points="27.6,23 25.2,23.1 23.2,22.1 21.8,20.4 21.4,18.1 21.8,15.6 23.2,13.3 25.2,11.5 27.6,10.5 30,10.6 32,11.6 33.4,13.5 33.9,15.8 33.4,18.2 32,20.4 30,22.1" fill="#FFFFFF"/><polygon points="30,18.8 28.2,17.9 26.4,19.6 27,17.3 25.2,16.3 27.5,15.8 28.2,13.5 28.9,15.5 31.2,15.2 29.4,16.8" fill="#E0283C"/><use href="#pc" class="o"/></g>
<g transform="translate(1077.7,1009.4)" opacity="0.72" clip-path="url(#c)"><polygon points="0,2.9 6.1,3.8 12.2,3.9 18.2,3.2 24.3,1.9 30.4,0.7 36.5,0 42.5,0.3 48.6,1.3 48.6,3.8 42.5,2.8 36.5,2.6 30.4,3.2 24.3,4.4 18.2,5.7 12.2,6.5 6.1,6.4 0,5.5" fill="#DA2339"/><polygon points="0,5.3 6.1,6.2 12.2,6.3 18.2,5.6 24.3,4.3 30.4,3.1 36.5,2.4 42.5,2.7 48.6,3.7 48.6,6.2 42.5,5.2 36.5,5 30.4,5.6 24.3,6.8 18.2,8.1 12.2,8.9 6.1,8.8 0,7.9" fill="#FFFFFF"/><polygon points="0,7.7 6.1,8.6 12.2,8.7 18.2,8 24.3,6.7 30.4,5.5 36.5,4.8 42.5,5.1 48.6,6.1 48.6,8.6 42.5,7.6 36.5,7.4 30.4,8 24.3,9.2 18.2,10.5 12.2,11.3 6.1,11.2 0,10.3" fill="#DA2339"/><polygon points="0,10.1 6.1,11 12.2,11.1 18.2,10.4 24.3,9.1 30.4,7.9 36.5,7.2 42.5,7.5 48.6,8.5 48.6,11 42.5,10 36.5,9.8 30.4,10.4 24.3,11.6 18.2,12.9 12.2,13.7 6.1,13.6 0,12.7" fill="#FFFFFF"/><polygon points="0,12.5 6.1,13.4 12.2,13.5 18.2,12.8 24.3,11.5 30.4,10.3 36.5,9.6 42.5,9.9 48.6,10.9 48.6,13.4 42.5,12.4 36.5,12.2 30.4,12.8 24.3,14 18.2,15.3 12.2,16.1 6.1,16 0,15.1" fill="#DA2339"/><polygon points="0,14.9 6.1,15.8 12.2,15.9 18.2,15.2 24.3,13.9 30.4,12.7 36.5,12 42.5,12.3 48.6,13.3 48.6,15.8 42.5,14.8 36.5,14.6 30.4,15.2 24.3,16.4 18.2,17.7 12.2,18.5 6.1,18.4 0,17.5" fill="#FFFFFF"/><polygon points="0,17.3 6.1,18.2 12.2,18.3 18.2,17.6 24.3,16.3 30.4,15.1 36.5,14.4 42.5,14.7 48.6,15.7 48.6,18.2 42.5,17.2 36.5,17 30.4,17.6 24.3,18.8 18.2,20.1 12.2,20.9 6.1,20.8 0,19.9" fill="#DA2339"/><polygon points="0,19.7 6.1,20.6 12.2,20.7 18.2,20 24.3,18.7 30.4,17.5 36.5,16.8 42.5,17.1 48.6,18.1 48.6,20.6 42.5,19.6 36.5,19.4 30.4,20 24.3,21.2 18.2,22.5 12.2,23.3 6.1,23.2 0,22.3" fill="#FFFFFF"/><polygon points="0,22.1 6.1,23 12.2,23.1 18.2,22.4 24.3,21.1 30.4,19.9 36.5,19.2 42.5,19.5 48.6,20.5 48.6,23 42.5,22 36.5,21.8 30.4,22.4 24.3,23.6 18.2,24.9 12.2,25.7 6.1,25.6 0,24.7" fill="#DA2339"/><polygon points="0,24.5 6.1,25.4 12.2,25.5 18.2,24.8 24.3,23.5 30.4,22.3 36.5,21.6 42.5,21.9 48.6,22.9 48.6,25.4 42.5,24.4 36.5,24.2 30.4,24.8 24.3,26 18.2,27.3 12.2,28.1 6.1,28 0,27.1" fill="#FFFFFF"/><polygon points="0,26.9 6.1,27.8 12.2,27.9 18.2,27.2 24.3,25.9 30.4,24.7 36.5,24 42.5,24.3 48.6,25.3 48.6,27.8 42.5,26.8 36.5,26.6 30.4,27.2 24.3,28.4 18.2,29.7 12.2,30.5 6.1,30.4 0,29.5" fill="#DA2339"/><polygon points="0,29.3 6.1,30.2 12.2,30.3 18.2,29.6 24.3,28.3 30.4,27.1 36.5,26.4 42.5,26.7 48.6,27.7 48.6,30.2 42.5,29.2 36.5,29 30.4,29.6 24.3,30.8 18.2,32.1 12.2,32.9 6.1,32.8 0,31.9" fill="#FFFFFF"/><polygon points="0,34.1 0,31.7 6.1,32.6 12.2,32.7 18.2,32 24.3,30.7 30.4,29.5 36.5,28.8 42.5,29.1 48.6,30.1 48.6,32.5 42.5,31.5 36.5,31.2 30.4,31.9 24.3,33.1 18.2,34.4 12.2,35.1 6.1,35" fill="#DA2339"/><polygon points="0,2.9 5.1,3.7 10.2,4 15.3,3.6 20.4,2.7 20.4,19.6 15.3,20.5 10.2,20.8 5.1,20.6 0,19.8" fill="#2A3F90"/><polygon points="3.3,6 2.4,6.7 1.6,5.7 2.4,5" fill="#FFFFFF"/><polygon points="7.2,6.4 6.3,7.2 5.4,6.3 6.3,5.5" fill="#FFFFFF"/><polygon points="11.1,6.5 10.2,7.4 9.3,6.5 10.2,5.6" fill="#FFFFFF"/><polygon points="15,6.2 14.1,7.1 13.2,6.3 14.1,5.4" fill="#FFFFFF"/><polygon points="18.9,5.5 18,6.6 17.1,5.9 18,4.8" fill="#FFFFFF"/><polygon points="3.3,9.9 2.4,10.6 1.6,9.6 2.4,8.9" fill="#FFFFFF"/><polygon points="7.2,10.3 6.3,11.1 5.4,10.2 6.3,9.4" fill="#FFFFFF"/><polygon points="11.1,10.4 10.2,11.3 9.3,10.4 10.2,9.5" fill="#FFFFFF"/><polygon points="15,10.1 14.1,11 13.2,10.2 14.1,9.3" fill="#FFFFFF"/><polygon points="18.9,9.4 18,10.5 17.1,9.8 18,8.7" fill="#FFFFFF"/><polygon points="3.3,13.8 2.4,14.5 1.6,13.5 2.4,12.8" fill="#FFFFFF"/><polygon points="7.2,14.2 6.3,15 5.4,14.1 6.3,13.3" fill="#FFFFFF"/><polygon points="11.1,14.3 10.2,15.2 9.3,14.3 10.2,13.4" fill="#FFFFFF"/><polygon points="15,14 14.1,14.9 13.2,14.1 14.1,13.2" fill="#FFFFFF"/><polygon points="18.9,13.3 18,14.4 17.1,13.7 18,12.6" fill="#FFFFFF"/><polygon points="3.3,17.7 2.4,18.4 1.6,17.4 2.4,16.7" fill="#FFFFFF"/><polygon points="7.2,18.1 6.3,18.9 5.4,18 6.3,17.2" fill="#FFFFFF"/><polygon points="11.1,18.2 10.2,19.1 9.3,18.2 10.2,17.3" fill="#FFFFFF"/><polygon points="15,17.9 14.1,18.8 13.2,18 14.1,17.1" fill="#FFFFFF"/><polygon points="18.9,17.2 18,18.3 17.1,17.6 18,16.5" fill="#FFFFFF"/><use href="#pc" class="o"/></g>
<g transform="translate(149.7,1011.9)" opacity="0.72" clip-path="url(#c)"><polygon points="0,2.9 6.1,3.8 12.2,3.9 18.2,3.2 24.3,1.9 30.4,0.7 36.5,0 42.5,0.3 48.6,1.3 48.6,6.6 42.5,5.6 36.5,5.4 30.4,6 24.3,7.2 18.2,8.5 12.2,9.3 6.1,9.2 0,8.3" fill="#1E1E1E"/><polygon points="0,8.1 6.1,9 12.2,9.1 18.2,8.4 24.3,7.1 30.4,5.9 36.5,5.2 42.5,5.5 48.6,6.5 48.6,11.8 42.5,10.8 36.5,10.6 30.4,11.2 24.3,12.4 18.2,13.7 12.2,14.5 6.1,14.4 0,13.5" fill="#FCD535"/><polygon points="0,13.3 6.1,14.2 12.2,14.3 18.2,13.6 24.3,12.3 30.4,11.1 36.5,10.4 42.5,10.7 48.6,11.7 48.6,17 42.5,16 36.5,15.8 30.4,16.4 24.3,17.6 18.2,18.9 12.2,19.7 6.1,19.6 0,18.7" fill="#E0402E"/><polygon points="0,18.5 6.1,19.4 12.2,19.5 18.2,18.8 24.3,17.5 30.4,16.3 36.5,15.6 42.5,15.9 48.6,16.9 48.6,22.2 42.5,21.2 36.5,21 30.4,21.6 24.3,22.8 18.2,24.1 12.2,24.9 6.1,24.8 0,23.9" fill="#1E1E1E"/><polygon points="0,23.7 6.1,24.6 12.2,24.7 18.2,24 24.3,22.7 30.4,21.5 36.5,20.8 42.5,21.1 48.6,22.1 48.6,27.4 42.5,26.4 36.5,26.2 30.4,26.8 24.3,28 18.2,29.3 12.2,30.1 6.1,30 0,29.1" fill="#FCD535"/><polygon points="0,34.1 0,28.9 6.1,29.8 12.2,29.9 18.2,29.2 24.3,27.9 30.4,26.7 36.5,26 42.5,26.3 48.6,27.3 48.6,32.5 42.5,31.5 36.5,31.2 30.4,31.9 24.3,33.1 18.2,34.4 12.2,35.1 6.1,35" fill="#E0402E"/><polygon points="24.3,22.5 22.4,22.5 20.8,21.8 19.7,20.4 19.3,18.6 19.7,16.6 20.8,14.7 22.4,13.3 24.3,12.5 26.2,12.5 27.8,13.2 28.9,14.6 29.3,16.5 28.9,18.4 27.8,20.3 26.2,21.7" fill="#FFFFFF"/><polygon points="24.3,20.6 22.4,19.2 24.3,17.5 22.8,15.3 25.3,14.2 25.3,17.3 26.7,18.8" fill="#666"/><polygon points="24.3,15.9 23.9,15.9 23.6,15.8 23.4,15.5 23.4,15.2 23.4,14.8 23.6,14.5 23.9,14.2 24.3,14.1 24.7,14.1 25,14.2 25.2,14.4 25.2,14.8 25.2,15.2 25,15.5 24.7,15.8" fill="#D8213F"/><use href="#pc" class="o"/></g>
<g transform="translate(780.7,1015.9)" opacity="0.72" clip-path="url(#c)"><polygon points="0,2.9 6.1,3.8 12.2,3.9 18.2,3.2 24.3,1.9 30.4,0.7 36.5,0 42.5,0.3 48.6,1.3 48.6,11.8 42.5,10.8 36.5,10.6 30.4,11.2 24.3,12.4 18.2,13.7 12.2,14.5 6.1,14.4 0,13.5" fill="#FFFFFF"/><polygon points="0,13.3 6.1,14.2 12.2,14.3 18.2,13.6 24.3,12.3 30.4,11.1 36.5,10.4 42.5,10.7 48.6,11.7 48.6,22.2 42.5,21.2 36.5,21 30.4,21.6 24.3,22.8 18.2,24.1 12.2,24.9 6.1,24.8 0,23.9" fill="#1F4FC0"/><polygon points="0,34.1 0,23.7 6.1,24.6 12.2,24.7 18.2,24 24.3,22.7 30.4,21.5 36.5,20.8 42.5,21.1 48.6,22.1 48.6,32.5 42.5,31.5 36.5,31.2 30.4,31.9 24.3,33.1 18.2,34.4 12.2,35.1 6.1,35" fill="#E0283C"/><polygon points="9.7,22.7 9.7,11.8 15.1,11.5 20.4,10.5 20.4,21.5 15.1,28" fill="#FFFFFF"/><polygon points="11.2,22.1 11.2,13 15.1,12.7 19,12.1 19,21.1 15.1,26.1" fill="#E0283C"/><polygon points="19,21.1 15.1,26.1 11.2,22.1 15.1,21.8" fill="#1F4FC0"/><polygon points="14.6,14 15.8,13.9 15.8,21.7 14.6,21.8" fill="#FFFFFF"/><polygon points="12.6,17 17.5,16.4 17.5,17.5 12.6,18.1" fill="#FFFFFF"/><use href="#pc" class="o"/></g>
<g transform="translate(95.7,1016.4)" opacity="0.72" clip-path="url(#c)"><polygon points="48.6,1.3 48.6,32.5 42.5,27.6 36.5,23.4 30.4,20.2 24.3,17.5 18.2,14.9 12.2,11.7 6.1,7.7 0,2.9 6.1,3.8 12.2,3.9 18.2,3.2 24.3,1.9 30.4,0.7 36.5,0 42.5,0.3" fill="#E0283C"/><polygon points="48.6,32.5 42.5,31.5 36.5,31.2 30.4,31.9 24.3,33.1 18.2,34.4 12.2,35.1 6.1,35 0,34.1 0,2.9 6.1,7.7 12.2,11.7 18.2,14.9 24.3,17.5 30.4,20.2 36.5,23.4 42.5,27.6" fill="#1E1E1E"/><polygon points="43.7,19.1 39.4,17.2 35,15.7 29.2,10.2 35,4.8 38.2,6.2 41.3,7.9 38.9,14.1" fill="#FCD535"/><polygon points="13.1,19.2 12.2,18.6 11.2,19.3 11.6,18.2 10.7,17.5 11.8,17.5 12.2,16.4 12.5,17.4 13.6,17.4 12.7,18.1" fill="#FFFFFF"/><polygon points="8.2,24.6 7.3,23.9 6.4,24.5 6.7,23.4 5.8,22.7 6.9,22.7 7.3,21.7 7.7,22.8 8.8,22.9 7.9,23.5" fill="#FFFFFF"/><polygon points="17.9,23.8 17,23.3 16.1,24.1 16.4,23 15.5,22.5 16.6,22.3 17,21.2 17.4,22.2 18.5,22 17.6,22.8" fill="#FFFFFF"/><polygon points="13.1,30.7 12.2,30.1 11.2,30.8 11.6,29.7 10.7,29.1 11.8,29 12.2,28 12.5,29 13.6,28.9 12.7,29.7" fill="#FFFFFF"/><use href="#pc" class="o"/></g>
<g transform="translate(633.7,1018.4)" opacity="0.72" clip-path="url(#c)"><polygon points="0,2.9 6.1,3.8 12.2,3.9 18.2,3.2 24.3,1.9 30.4,0.7 36.5,0 42.5,0.3 48.6,1.3 48.6,11.8 42.5,10.8 36.5,10.6 30.4,11.2 24.3,12.4 18.2,13.7 12.2,14.5 6.1,14.4 0,13.5" fill="#74ACDF"/><polygon points="0,13.3 6.1,14.2 12.2,14.3 18.2,13.6 24.3,12.3 30.4,11.1 36.5,10.4 42.5,10.7 48.6,11.7 48.6,22.2 42.5,21.2 36.5,21 30.4,21.6 24.3,22.8 18.2,24.1 12.2,24.9 6.1,24.8 0,23.9" fill="#FFFFFF"/><polygon points="0,34.1 0,23.7 6.1,24.6 12.2,24.7 18.2,24 24.3,22.7 30.4,21.5 36.5,20.8 42.5,21.1 48.6,22.1 48.6,32.5 42.5,31.5 36.5,31.2 30.4,31.9 24.3,33.1 18.2,34.4 12.2,35.1 6.1,35" fill="#74ACDF"/><polygon points="24.3,20.3 23.2,20.3 22.3,19.9 21.7,19.1 21.5,18.1 21.7,17 22.3,15.9 23.2,15.1 24.3,14.7 25.4,14.7 26.3,15.1 26.9,15.9 27.1,16.9 26.9,18 26.3,19 25.4,19.8" fill="#E8B83A"/><use href="#pc" class="o"/></g>
<g transform="translate(666.7,1048.1)" opacity="0.72" clip-path="url(#c)"><polygon points="0,2.9 6.1,3.8 12.2,3.9 18.2,3.2 24.3,1.9 30.4,0.7 36.5,0 42.5,0.3 48.6,1.3 48.6,32.5 42.5,31.5 36.5,31.2 30.4,31.9 24.3,33.1 18.2,34.4 12.2,35.1 6.1,35 0,34.1" fill="#FFFFFF"/><polygon points="24.3,25.9 21.1,26 18.3,24.7 16.5,22.3 15.9,19.1 16.5,15.8 18.3,12.8 21.1,10.4 24.3,9.1 27.5,9 30.3,10.3 32.1,12.8 32.7,15.9 32.1,19.2 30.3,22.2 27.5,24.6" fill="#C8102E"/><use href="#pc" class="o"/></g>
<g transform="translate(669.7,1027.1)" opacity="0.72" clip-path="url(#c)"><polygon points="0,2.9 6.1,3.8 12.2,3.9 18.2,3.2 24.3,1.9 30.4,0.7 36.5,0 42.5,0.3 48.6,1.3 48.6,11.8 42.5,10.8 36.5,10.6 30.4,11.2 24.3,12.4 18.2,13.7 12.2,14.5 6.1,14.4 0,13.5" fill="#1E1E1E"/><polygon points="0,13.3 6.1,14.2 12.2,14.3 18.2,13.6 24.3,12.3 30.4,11.1 36.5,10.4 42.5,10.7 48.6,11.7 48.6,22.2 42.5,21.2 36.5,21 30.4,21.6 24.3,22.8 18.2,24.1 12.2,24.9 6.1,24.8 0,23.9" fill="#FFFFFF"/><polygon points="0,34.1 0,23.7 6.1,24.6 12.2,24.7 18.2,24 24.3,22.7 30.4,21.5 36.5,20.8 42.5,21.1 48.6,22.1 48.6,32.5 42.5,31.5 36.5,31.2 30.4,31.9 24.3,33.1 18.2,34.4 12.2,35.1 6.1,35" fill="#1A8A3C"/><polygon points="14.6,19.3 9.7,24.8 4.9,29.7 0,34.1 0,2.9 4.9,8.9 9.7,14.4" fill="#DA2339"/><use href="#pc" class="o"/></g>
<g transform="translate(402.7,1032.9)" opacity="0.72" clip-path="url(#c)"><polygon points="0,2.9 5.5,3.8 10.9,4 16.4,3.5 16.4,34.7 10.9,35.2 5.5,35 0,34.1" fill="#DA2339"/><polygon points="16.2,3.5 21.7,2.5 27.1,1.3 32.6,0.3 32.6,31.5 27.1,32.5 21.7,33.7 16.2,34.7" fill="#1F72C8"/><polygon points="32.4,0.4 37.8,0 43.2,0.3 48.6,1.3 48.6,32.5 43.2,31.5 37.8,31.2 32.4,31.6" fill="#DA2339"/><polygon points="4.9,10 10.7,10.2 10.7,31.4 4.9,31.2" fill="#FCD535"/><use href="#pc" class="o"/></g>
<g transform="translate(1121.7,1036.9)" opacity="0.72" clip-path="url(#c)"><polygon points="0,2.9 5.5,3.8 10.9,4 16.4,3.5 16.4,34.7 10.9,35.2 5.5,35 0,34.1" fill="#1E1E1E"/><polygon points="16.2,3.5 21.7,2.5 27.1,1.3 32.6,0.3 32.6,31.5 27.1,32.5 21.7,33.7 16.2,34.7" fill="#FCD535"/><polygon points="32.4,0.4 37.8,0 43.2,0.3 48.6,1.3 48.6,32.5 43.2,31.5 37.8,31.2 32.4,31.6" fill="#E0283C"/><use href="#pc" class="o"/></g>
<g transform="translate(1113.7,1032.9)" opacity="0.72" clip-path="url(#c)"><polygon points="0,2.9 5.5,3.8 10.9,4 16.4,3.5 16.4,34.7 10.9,35.2 5.5,35 0,34.1" fill="#0E9A5A"/><polygon points="16.2,3.5 21.7,2.5 27.1,1.3 32.6,0.3 32.6,31.5 27.1,32.5 21.7,33.7 16.2,34.7" fill="#FFFFFF"/><polygon points="32.4,0.4 37.8,0 43.2,0.3 48.6,1.3 48.6,32.5 43.2,31.5 37.8,31.2 32.4,31.6" fill="#F58A1F"/><use href="#pc" class="o"/></g>
<g transform="translate(1270.3,1038.4)" opacity="0.72" clip-path="url(#d)"><polygon points="0,2.9 3.9,3.8 7.9,3.9 11.8,3.1 15.8,1.8 15.8,33 11.8,34.3 7.9,35.1 3.9,35 0,34.1" fill="#FCD535"/><polygon points="15.7,1.9 19.6,0.7 23.5,0 27.4,0.3 31.3,1.3 31.3,32.5 27.4,31.5 23.5,31.2 19.6,31.9 15.7,33.1" fill="#FFFFFF"/><polygon points="23.5,20 22.4,19.8 21.5,18.9 20.9,17.6 20.7,16 20.9,14.3 21.5,12.8 22.4,11.7 23.5,11.3 24.6,11.6 25.5,12.5 26.1,14 26.3,15.7 26.1,17.4 25.5,18.7 24.6,19.6" fill="#D9C68A"/><use href="#pd" class="o"/></g>
<g transform="translate(926.7,1042.9)" opacity="0.72" clip-path="url(#c)"><polygon points="0,2.9 6.1,3.8 12.2,3.9 18.2,3.2 24.3,1.9 30.4,0.7 36.5,0 42.5,0.3 48.6,1.3 48.6,32.5 42.5,31.5 36.5,31.2 30.4,31.9 24.3,33.1 18.2,34.4 12.2,35.1 6.1,35 0,34.1" fill="#FFFFFF"/><polygon points="13.6,3.8 17.7,3.3 21.9,2.4 21.9,33.6 17.7,34.5 13.6,35" fill="#1F3F90"/><polygon points="0,14.2 6.1,15.1 12.2,15.2 18.2,14.4 24.3,13.1 30.4,11.9 36.5,11.3 42.5,11.5 48.6,12.5 48.6,21.2 42.5,20.2 36.5,20 30.4,20.6 24.3,21.9 18.2,23.1 12.2,23.9 6.1,23.8 0,22.9" fill="#1F3F90"/><use href="#pc" class="o"/></g>
<g transform="translate(1004.7,1086.9)" opacity="0.72" clip-path="url(#c)"><polygon points="0,2.9 6.1,3.8 12.2,3.9 18.2,3.2 24.3,1.9 30.4,0.7 36.5,0 42.5,0.3 48.6,1.3 48.6,32.5 42.5,31.5 36.5,31.2 30.4,31.9 24.3,33.1 18.2,34.4 12.2,35.1 6.1,35 0,34.1" fill="#C8203C"/><polygon points="14.6,3.7 19.4,2.9 19.4,34.1 14.6,34.9" fill="#FFFFFF"/><polygon points="0,16 6.1,16.9 12.2,17 18.2,16.3 24.3,15 30.4,13.8 36.5,13.1 42.5,13.4 48.6,14.4 48.6,19.4 42.5,18.4 36.5,18.1 30.4,18.8 24.3,20 18.2,21.3 12.2,22 6.1,21.9 0,21" fill="#FFFFFF"/><use href="#pc" class="o"/></g>
<g transform="translate(1026.7,1082.4)" opacity="0.72" clip-path="url(#c)"><polygon points="0,2.9 6.1,3.8 12.2,3.9 18.2,3.2 24.3,1.9 30.4,0.7 36.5,0 42.5,0.3 48.6,1.3 48.6,32.5 42.5,31.5 36.5,31.2 30.4,31.9 24.3,33.1 18.2,34.4 12.2,35.1 6.1,35 0,34.1" fill="#FFFFFF"/><polygon points="0,6.1 6.1,7 12.2,7 18.2,6.3 24.3,5 30.4,3.8 36.5,3.1 42.5,3.4 48.6,4.4 48.6,8.7 42.5,7.7 36.5,7.5 30.4,8.2 24.3,9.4 18.2,10.7 12.2,11.4 6.1,11.3 0,10.4" fill="#1F2FA8"/><polygon points="0,26.6 6.1,27.5 12.2,27.6 18.2,26.9 24.3,25.6 30.4,24.4 36.5,23.7 42.5,24 48.6,25 48.6,29.3 42.5,28.3 36.5,28.1 30.4,28.7 24.3,30 18.2,31.2 12.2,32 6.1,31.9 0,31" fill="#1F2FA8"/><polygon points="29.4,19.4 26,20.1 24.3,23.4 22.6,20.9 19.2,21.6 20.9,18.2 19.2,15.6 22.6,14.9 24.3,11.6 26,14.1 29.4,13.5 27.7,16.8" fill="#1F2FA8"/><polygon points="27,18.5 25.2,18.9 24.3,20.6 23.4,19.3 21.6,19.6 22.5,17.9 21.6,16.5 23.4,16.1 24.3,14.4 25.2,15.7 27,15.3 26.1,17.1" fill="#FFFFFF"/><use href="#pc" class="o"/></g>
<g transform="translate(1051.7,1069.9)" opacity="0.72" clip-path="url(#c)"><polygon points="0,2.9 6.1,3.8 12.2,3.9 18.2,3.2 24.3,1.9 30.4,0.7 36.5,0 42.5,0.3 48.6,1.3 48.6,11.8 42.5,10.8 36.5,10.6 30.4,11.2 24.3,12.4 18.2,13.7 12.2,14.5 6.1,14.4 0,13.5" fill="#C8283C"/><polygon points="0,13.3 6.1,14.2 12.2,14.3 18.2,13.6 24.3,12.3 30.4,11.1 36.5,10.4 42.5,10.7 48.6,11.7 48.6,22.2 42.5,21.2 36.5,21 30.4,21.6 24.3,22.8 18.2,24.1 12.2,24.9 6.1,24.8 0,23.9" fill="#FFFFFF"/><polygon points="0,34.1 0,23.7 6.1,24.6 12.2,24.7 18.2,24 24.3,22.7 30.4,21.5 36.5,20.8 42.5,21.1 48.6,22.1 48.6,32.5 42.5,31.5 36.5,31.2 30.4,31.9 24.3,33.1 18.2,34.4 12.2,35.1 6.1,35" fill="#1F3F90"/><use href="#pc" class="o"/></g>
<g transform="translate(1057.7,1049.4)" opacity="0.72" clip-path="url(#c)"><polygon points="0,2.9 4.9,3.7 9.8,4 14.7,3.7 19.6,2.9 19.6,34.1 14.7,34.9 9.8,35.2 4.9,34.9 0,34.1" fill="#0E6B1F"/><polygon points="19.4,2.9 25.3,1.7 31.1,0.5 36.9,0 42.8,0.3 48.6,1.3 48.6,32.5 42.8,31.5 36.9,31.2 31.1,31.7 25.3,32.9 19.4,34.1" fill="#F0202E"/><polygon points="19.4,26 16.6,26 14.1,24.7 12.5,22.4 12,19.5 12.5,16.6 14.1,14.1 16.6,12.1 19.4,11 22.3,11 24.7,12.1 26.4,14.2 26.9,16.9 26.4,19.9 24.7,22.7 22.3,24.9" fill="#FCD535"/><polygon points="19.4,23.8 17.4,23.8 15.7,22.9 14.5,21.3 14.1,19.4 14.5,17.3 15.7,15.4 17.4,14 19.4,13.2 21.5,13.2 23.2,14 24.3,15.5 24.7,17.4 24.3,19.5 23.2,21.5 21.5,23" fill="#E02030"/><polygon points="19.4,21.7 18.2,21.6 17.2,21.1 16.6,20.2 16.3,19.1 16.6,17.9 17.2,16.7 18.2,15.9 19.4,15.4 20.6,15.4 21.6,15.9 22.3,16.7 22.6,17.9 22.3,19.1 21.6,20.3 20.6,21.2" fill="#FFFFFF"/><use href="#pc" class="o"/></g>
<g transform="translate(596.7,1051.4)" opacity="0.72" clip-path="url(#c)"><polygon points="0,2.9 6.1,3.8 12.2,3.9 18.2,3.2 24.3,1.9 30.4,0.7 36.5,0 42.5,0.3 48.6,1.3 48.6,11.8 42.5,10.8 36.5,10.6 30.4,11.2 24.3,12.4 18.2,13.7 12.2,14.5 6.1,14.4 0,13.5" fill="#1F66C8"/><polygon points="0,13.3 6.1,14.2 12.2,14.3 18.2,13.6 24.3,12.3 30.4,11.1 36.5,10.4 42.5,10.7 48.6,11.7 48.6,22.2 42.5,21.2 36.5,21 30.4,21.6 24.3,22.8 18.2,24.1 12.2,24.9 6.1,24.8 0,23.9" fill="#FFFFFF"/><polygon points="0,34.1 0,23.7 6.1,24.6 12.2,24.7 18.2,24 24.3,22.7 30.4,21.5 36.5,20.8 42.5,21.1 48.6,22.1 48.6,32.5 42.5,31.5 36.5,31.2 30.4,31.9 24.3,33.1 18.2,34.4 12.2,35.1 6.1,35" fill="#1F66C8"/><polygon points="24.3,18.6 23.9,18.6 23.5,18.4 23.3,18.1 23.2,17.7 23.3,17.3 23.5,16.9 23.9,16.6 24.3,16.4 24.7,16.4 25.1,16.5 25.3,16.9 25.4,17.3 25.3,17.7 25.1,18.1 24.7,18.4" fill="#1F66C8"/><polygon points="17.5,16.7 17.1,16.7 16.8,16.5 16.6,16.3 16.6,15.9 16.6,15.6 16.8,15.2 17.1,15 17.5,14.8 17.9,14.8 18.2,15 18.4,15.3 18.4,15.6 18.4,16 18.2,16.3 17.9,16.6" fill="#1F66C8"/><polygon points="31.1,14 30.7,13.9 30.4,13.8 30.2,13.5 30.2,13.2 30.2,12.8 30.4,12.5 30.7,12.2 31.1,12.1 31.5,12.1 31.8,12.3 32,12.5 32,12.9 32,13.3 31.8,13.6 31.5,13.8" fill="#1F66C8"/><polygon points="17.5,23 17.1,22.9 16.8,22.8 16.6,22.5 16.6,22.2 16.6,21.8 16.8,21.5 17.1,21.2 17.5,21.1 17.9,21.1 18.2,21.2 18.4,21.5 18.4,21.8 18.4,22.2 18.2,22.6 17.9,22.8" fill="#1F66C8"/><polygon points="31.1,20.2 30.7,20.2 30.4,20 30.2,19.8 30.2,19.4 30.2,19 30.4,18.7 30.7,18.5 31.1,18.3 31.5,18.3 31.8,18.5 32,18.8 32,19.1 32,19.5 31.8,19.8 31.5,20.1" fill="#1F66C8"/><use href="#pc" class="o"/></g>
<g transform="translate(285.7,1056.9)" opacity="0.72" clip-path="url(#c)"><polygon points="0,2.9 6.1,3.8 12.2,3.9 18.2,3.2 24.3,1.9 30.4,0.7 36.5,0 42.5,0.3 48.6,1.3 48.6,11.8 42.5,10.8 36.5,10.6 30.4,11.2 24.3,12.4 18.2,13.7 12.2,14.5 6.1,14.4 0,13.5" fill="#DA2339"/><polygon points="0,13.3 6.1,14.2 12.2,14.3 18.2,13.6 24.3,12.3 30.4,11.1 36.5,10.4 42.5,10.7 48.6,11.7 48.6,22.2 42.5,21.2 36.5,21 30.4,21.6 24.3,22.8 18.2,24.1 12.2,24.9 6.1,24.8 0,23.9" fill="#2A2F9A"/><polygon points="0,34.1 0,23.7 6.1,24.6 12.2,24.7 18.2,24 24.3,22.7 30.4,21.5 36.5,20.8 42.5,21.1 48.6,22.1 48.6,32.5 42.5,31.5 36.5,31.2 30.4,31.9 24.3,33.1 18.2,34.4 12.2,35.1 6.1,35" fill="#0E8A4A"/><polygon points="0,12.6 6.1,13.5 12.2,13.6 18.2,12.8 24.3,11.6 30.4,10.3 36.5,9.7 42.5,9.9 48.6,10.9 48.6,12.3 42.5,11.3 36.5,11.1 30.4,11.7 24.3,13 18.2,14.2 12.2,15 6.1,14.9 0,14" fill="#FFFFFF"/><polygon points="0,23.1 6.1,24 12.2,24.1 18.2,23.3 24.3,22 30.4,20.8 36.5,20.2 42.5,20.4 48.6,21.4 48.6,22.8 42.5,21.8 36.5,21.6 30.4,22.2 24.3,23.4 18.2,24.7 12.2,25.5 6.1,25.4 0,24.5" fill="#FFFFFF"/><use href="#pc" class="o"/></g>
<g transform="translate(160.7,1057.9)" opacity="0.72" clip-path="url(#c)"><polygon points="0,2.9 6.1,3.8 12.2,3.9 18.2,3.2 24.3,1.9 30.4,0.7 36.5,0 42.5,0.3 48.6,1.3 48.6,11.8 42.5,10.8 36.5,10.6 30.4,11.2 24.3,12.4 18.2,13.7 12.2,14.5 6.1,14.4 0,13.5" fill="#5F8FE8"/><polygon points="0,13.3 6.1,14.2 12.2,14.3 18.2,13.6 24.3,12.3 30.4,11.1 36.5,10.4 42.5,10.7 48.6,11.7 48.6,22.2 42.5,21.2 36.5,21 30.4,21.6 24.3,22.8 18.2,24.1 12.2,24.9 6.1,24.8 0,23.9" fill="#FFFFFF"/><polygon points="0,34.1 0,23.7 6.1,24.6 12.2,24.7 18.2,24 24.3,22.7 30.4,21.5 36.5,20.8 42.5,21.1 48.6,22.1 48.6,32.5 42.5,31.5 36.5,31.2 30.4,31.9 24.3,33.1 18.2,34.4 12.2,35.1 6.1,35" fill="#5F8FE8"/><polygon points="27.7,19.9 24.3,20.6 20.9,21.4 24.3,13.7" fill="#9AC8A0"/><use href="#pc" class="o"/></g>
<g transform="translate(928.7,1062.9)" opacity="0.72" clip-path="url(#c)"><polygon points="0,2.9 6.1,3.8 12.2,3.9 18.2,3.2 24.3,1.9 30.4,0.7 36.5,0 42.5,0.3 48.6,1.3 48.6,11.8 42.5,10.8 36.5,10.6 30.4,11.2 24.3,12.4 18.2,13.7 12.2,14.5 6.1,14.4 0,13.5" fill="#C8283C"/><polygon points="0,13.3 6.1,14.2 12.2,14.3 18.2,13.6 24.3,12.3 30.4,11.1 36.5,10.4 42.5,10.7 48.6,11.7 48.6,22.2 42.5,21.2 36.5,21 30.4,21.6 24.3,22.8 18.2,24.1 12.2,24.9 6.1,24.8 0,23.9" fill="#1F3F90"/><polygon points="0,34.1 0,23.7 6.1,24.6 12.2,24.7 18.2,24 24.3,22.7 30.4,21.5 36.5,20.8 42.5,21.1 48.6,22.1 48.6,32.5 42.5,31.5 36.5,31.2 30.4,31.9 24.3,33.1 18.2,34.4 12.2,35.1 6.1,35" fill="#FFFFFF"/><polygon points="9.7,22.7 9.7,10.9 15.1,10.5 20.4,9.6 20.4,21.5 15.1,27.1" fill="#C8283C"/><polygon points="11.7,22 11.7,13.3 15.1,13 18.5,12.5 18.5,21.2 15.1,24.9" fill="#FFFFFF"/><polygon points="12.2,7 18,6.3 18,10.1 12.2,10.8" fill="#D9B13A"/><use href="#pc" class="o"/></g>
<g transform="translate(878.7,1063.4)" opacity="0.72" clip-path="url(#c)"><polygon points="0,2.9 6.1,3.8 12.2,3.9 18.2,3.2 24.3,1.9 30.4,0.7 36.5,0 42.5,0.3 48.6,1.3 48.6,11.8 42.5,10.8 36.5,10.6 30.4,11.2 24.3,12.4 18.2,13.7 12.2,14.5 6.1,14.4 0,13.5" fill="#F5C12A"/><polygon points="0,13.3 6.1,14.2 12.2,14.3 18.2,13.6 24.3,12.3 30.4,11.1 36.5,10.4 42.5,10.7 48.6,11.7 48.6,22.2 42.5,21.2 36.5,21 30.4,21.6 24.3,22.8 18.2,24.1 12.2,24.9 6.1,24.8 0,23.9" fill="#0E7A4A"/><polygon points="0,34.1 0,23.7 6.1,24.6 12.2,24.7 18.2,24 24.3,22.7 30.4,21.5 36.5,20.8 42.5,21.1 48.6,22.1 48.6,32.5 42.5,31.5 36.5,31.2 30.4,31.9 24.3,33.1 18.2,34.4 12.2,35.1 6.1,35" fill="#C8283C"/><use href="#pc" class="o"/></g>
<g transform="translate(728.7,1063.4)" opacity="0.72" clip-path="url(#c)"><polygon points="0,2.9 6.1,3.8 12.2,3.9 18.2,3.2 24.3,1.9 30.4,0.7 36.5,0 42.5,0.3 48.6,1.3 48.6,11.8 42.5,10.8 36.5,10.6 30.4,11.2 24.3,12.4 18.2,13.7 12.2,14.5 6.1,14.4 0,13.5" fill="#1FA0D8"/><polygon points="0,13.3 6.1,14.2 12.2,14.3 18.2,13.6 24.3,12.3 30.4,11.1 36.5,10.4 42.5,10.7 48.6,11.7 48.6,22.2 42.5,21.2 36.5,21 30.4,21.6 24.3,22.8 18.2,24.1 12.2,24.9 6.1,24.8 0,23.9" fill="#E0234A"/><polygon points="0,34.1 0,23.7 6.1,24.6 12.2,24.7 18.2,24 24.3,22.7 30.4,21.5 36.5,20.8 42.5,21.1 48.6,22.1 48.6,32.5 42.5,31.5 36.5,31.2 30.4,31.9 24.3,33.1 18.2,34.4 12.2,35.1 6.1,35" fill="#1FB36A"/><polygon points="22.8,21.9 21.3,21.9 20,21.3 19.1,20.2 18.8,18.7 19.1,17.1 20,15.6 21.3,14.4 22.8,13.8 24.4,13.7 25.7,14.3 26.6,15.4 26.9,16.9 26.6,18.5 25.7,20 24.4,21.2" fill="#FFFFFF"/><polygon points="24.5,20.8 23.2,20.8 22.1,20.3 21.4,19.4 21.1,18.2 21.4,16.9 22.1,15.6 23.2,14.7 24.5,14.1 25.7,14.1 26.8,14.6 27.5,15.5 27.8,16.7 27.5,18.1 26.8,19.3 25.7,20.2" fill="#E0234A"/><polygon points="29.6,16.4 28.6,16.9 29,17.8 28.1,17.6 27.7,18.6 27.3,17.7 26.4,18.4 26.8,17.3 25.8,17.2 26.8,16.6 26.4,15.7 27.3,16 27.7,14.9 28.1,15.8 29,15.2 28.6,16.2" fill="#FFFFFF"/><use href="#pc" class="o"/></g>
<g transform="translate(110.7,1064.4)" opacity="0.72" clip-path="url(#c)"><polygon points="0,2.9 6.1,3.8 12.2,3.9 18.2,3.2 24.3,1.9 30.4,0.7 36.5,0 42.5,0.3 48.6,1.3 48.6,11.8 42.5,10.8 36.5,10.6 30.4,11.2 24.3,12.4 18.2,13.7 12.2,14.5 6.1,14.4 0,13.5" fill="#0E8A3A"/><polygon points="0,13.3 6.1,14.2 12.2,14.3 18.2,13.6 24.3,12.3 30.4,11.1 36.5,10.4 42.5,10.7 48.6,11.7 48.6,22.2 42.5,21.2 36.5,21 30.4,21.6 24.3,22.8 18.2,24.1 12.2,24.9 6.1,24.8 0,23.9" fill="#FCD535"/><polygon points="0,34.1 0,23.7 6.1,24.6 12.2,24.7 18.2,24 24.3,22.7 30.4,21.5 36.5,20.8 42.5,21.1 48.6,22.1 48.6,32.5 42.5,31.5 36.5,31.2 30.4,31.9 24.3,33.1 18.2,34.4 12.2,35.1 6.1,35" fill="#DA2339"/><polygon points="24.3,25 21.4,25 19,23.9 17.4,21.8 16.8,19 17.4,16 19,13.3 21.4,11.2 24.3,10 27.2,10 29.6,11.1 31.2,13.3 31.8,16 31.2,19 29.6,21.7 27.2,23.8" fill="#1F56C8"/><polygon points="27.4,21.1 24.3,19.9 21.2,22.5 22,18.7 19.3,16.9 22.9,15.9 24.3,12.2 25.7,15.3 29.3,14.8 26.6,17.7" fill="#FCD535"/><polygon points="26.1,19.6 24.3,18.9 22.5,20.4 23,18.2 21.3,17.2 23.5,16.5 24.3,14.4 25.1,16.2 27.3,15.9 25.6,17.6" fill="#1F56C8"/><use href="#pc" class="o"/></g>
<g transform="translate(217.7,1064.9)" opacity="0.72" clip-path="url(#c)"><polygon points="0,2.9 6.1,3.8 12.2,3.9 18.2,3.2 24.3,1.9 30.4,0.7 36.5,0 42.5,0.3 48.6,1.3 48.6,11.8 42.5,10.8 36.5,10.6 30.4,11.2 24.3,12.4 18.2,13.7 12.2,14.5 6.1,14.4 0,13.5" fill="#DA2339"/><polygon points="0,13.3 6.1,14.2 12.2,14.3 18.2,13.6 24.3,12.3 30.4,11.1 36.5,10.4 42.5,10.7 48.6,11.7 48.6,22.2 42.5,21.2 36.5,21 30.4,21.6 24.3,22.8 18.2,24.1 12.2,24.9 6.1,24.8 0,23.9" fill="#FFFFFF"/><polygon points="0,34.1 0,23.7 6.1,24.6 12.2,24.7 18.2,24 24.3,22.7 30.4,21.5 36.5,20.8 42.5,21.1 48.6,22.1 48.6,32.5 42.5,31.5 36.5,31.2 30.4,31.9 24.3,33.1 18.2,34.4 12.2,35.1 6.1,35" fill="#1E1E1E"/><polygon points="17.9,21.4 16,20.4 14.2,21.9 14.9,19.7 13.1,18.5 15.3,18.2 16,16 16.8,18 19,17.7 17.2,19.3" fill="#0E8A3A"/><polygon points="34.4,18.3 32.6,17.2 30.7,18.7 31.4,16.5 29.6,15.4 31.8,15 32.6,12.8 33.3,14.8 35.5,14.7 33.7,16.2" fill="#0E8A3A"/><use href="#pc" class="o"/></g>
<g transform="translate(188.7,1044.9)" opacity="0.72" clip-path="url(#c)"><polygon points="0,2.9 6.1,3.8 12.2,3.9 18.2,3.2 24.3,1.9 30.4,0.7 36.5,0 42.5,0.3 48.6,1.3 48.6,5.8 42.5,4.8 36.5,4.6 30.4,5.2 24.3,6.5 18.2,7.7 12.2,8.5 6.1,8.4 0,7.5" fill="#1F8A2F"/><polygon points="0,7.4 6.1,8.3 12.2,8.4 18.2,7.6 24.3,6.3 30.4,5.1 36.5,4.5 42.5,4.7 48.6,5.7 48.6,10.3 42.5,9.3 36.5,9.1 30.4,9.7 24.3,10.9 18.2,12.2 12.2,13 6.1,12.9 0,12" fill="#FCD535"/><polygon points="0,11.9 6.1,12.8 12.2,12.8 18.2,12.1 24.3,10.8 30.4,9.6 36.5,8.9 42.5,9.2 48.6,10.2 48.6,14.8 42.5,13.8 36.5,13.5 30.4,14.2 24.3,15.4 18.2,16.7 12.2,17.4 6.1,17.3 0,16.4" fill="#DA2339"/><polygon points="0,16.3 6.1,17.2 12.2,17.3 18.2,16.5 24.3,15.3 30.4,14 36.5,13.4 42.5,13.6 48.6,14.6 48.6,19.2 42.5,18.2 36.5,18 30.4,18.6 24.3,19.8 18.2,21.1 12.2,21.9 6.1,21.8 0,20.9" fill="#1E1E1E"/><polygon points="0,20.8 6.1,21.7 12.2,21.8 18.2,21 24.3,19.7 30.4,18.5 36.5,17.9 42.5,18.1 48.6,19.1 48.6,23.7 42.5,22.7 36.5,22.4 30.4,23.1 24.3,24.3 18.2,25.6 12.2,26.3 6.1,26.2 0,25.3" fill="#DA2339"/><polygon points="0,25.2 6.1,26.1 12.2,26.2 18.2,25.5 24.3,24.2 30.4,23 36.5,22.3 42.5,22.5 48.6,23.5 48.6,28.1 42.5,27.1 36.5,26.9 30.4,27.5 24.3,28.8 18.2,30 12.2,30.8 6.1,30.7 0,29.8" fill="#FCD535"/><polygon points="0,34.1 0,29.7 6.1,30.6 12.2,30.7 18.2,29.9 24.3,28.6 30.4,27.4 36.5,26.8 42.5,27 48.6,28 48.6,32.5 42.5,31.5 36.5,31.2 30.4,31.9 24.3,33.1 18.2,34.4 12.2,35.1 6.1,35" fill="#1F8A2F"/><polygon points="21.4,18.1 16,23 10.7,27.4 5.3,31.1 0,34.1 0,2.9 5.3,7.7 10.7,11.8 16,15.2" fill="#1E1E1E"/><polygon points="18.5,18.7 12.3,24.1 6.2,28.6 0,32.3 0,4.8 6.2,10.3 12.3,14.9" fill="#FFFFFF"/><polygon points="8.7,22.9 6.3,21.1 3.9,22.5 4.8,19.8 2.5,17.7 5.4,18.1 6.3,15.4 7.3,18.2 10.2,18.3 7.9,20.1" fill="#DA2339"/><polygon points="6.8,21.4 6.1,21.2 5.5,20.7 5.1,20.1 4.9,19.3 5.1,18.6 5.5,18.1 6.1,17.7 6.8,17.6 7.5,17.8 8.1,18.2 8.5,18.9 8.7,19.6 8.5,20.3 8.1,20.9 7.5,21.3" fill="#FCD535"/><use href="#pc" class="o"/></g>
<g transform="translate(617.7,1067.8)" opacity="0.72" clip-path="url(#c)"><polygon points="0,2.9 6.1,3.8 12.2,3.9 18.2,3.2 24.3,1.9 30.4,0.7 36.5,0 42.5,0.3 48.6,1.3 48.6,17 42.5,16 36.5,15.8 30.4,16.4 24.3,17.6 18.2,18.9 12.2,19.7 6.1,19.6 0,18.7" fill="#1F3FB5"/><polygon points="0,34.1 0,18.5 6.1,19.4 12.2,19.5 18.2,18.8 24.3,17.5 30.4,16.3 36.5,15.6 42.5,15.9 48.6,16.9 48.6,32.5 42.5,31.5 36.5,31.2 30.4,31.9 24.3,33.1 18.2,34.4 12.2,35.1 6.1,35" fill="#DA2339"/><polygon points="25.3,17.3 20.2,21.5 15.2,25.5 10.1,29 5.1,31.8 0,34.1 0,2.9 5.1,6.9 10.1,10.2 15.2,13 20.2,15.3" fill="#FFFFFF"/><polygon points="7.8,22.7 6.6,22.4 5.6,21.6 4.9,20.5 4.7,19.3 4.9,18.1 5.6,17.2 6.6,16.6 7.8,16.4 9,16.7 10,17.4 10.7,18.4 10.9,19.6 10.7,20.8 10,21.8 9,22.5" fill="#FCD535"/><polygon points="13.1,19.5 10.5,20.7 11.5,23.3 8.9,22.3 7.8,24.9 6.7,22.2 4,23 5.1,20.5 2.5,19 5.1,18.2 4,15.5 6.7,16.8 7.8,14.2 8.9,16.9 11.5,15.8 10.5,18.5" fill="#FCD535"/><polygon points="3.2,8.9 2.4,8.2 1.7,8.6 2,7.8 1.2,7.2 2.1,7.3 2.4,6.5 2.7,7.4 3.6,7.5 2.9,8" fill="#FCD535"/><polygon points="3.2,31.3 2.4,30.7 1.7,31.1 2,30.3 1.2,29.6 2.1,29.8 2.4,29 2.7,29.9 3.6,30 2.9,30.4" fill="#FCD535"/><polygon points="21.1,19.2 20.4,18.8 19.7,19.5 19.9,18.6 19.2,18.2 20.1,18 20.4,17.1 20.7,17.9 21.6,17.7 20.9,18.4" fill="#FCD535"/><use href="#pc" class="o"/></g>
<g transform="translate(1147.7,1088.9)" opacity="0.72" clip-path="url(#c)"><polygon points="0,2.9 6.1,3.8 12.2,3.9 18.2,3.2 24.3,1.9 30.4,0.7 36.5,0 42.5,0.3 48.6,1.3 48.6,9.2 42.5,8.2 36.5,8 30.4,8.6 24.3,9.8 18.2,11.1 12.2,11.9 6.1,11.8 0,10.9" fill="#C8203C"/><polygon points="0,10.7 6.1,11.6 12.2,11.7 18.2,11 24.3,9.7 30.4,8.5 36.5,7.8 42.5,8.1 48.6,9.1 48.6,24.8 42.5,23.8 36.5,23.6 30.4,24.2 24.3,25.4 18.2,26.7 12.2,27.5 6.1,27.4 0,26.5" fill="#FCD535"/><polygon points="0,34.1 0,26.3 6.1,27.2 12.2,27.3 18.2,26.6 24.3,25.3 30.4,24.1 36.5,23.4 42.5,23.7 48.6,24.7 48.6,32.5 42.5,31.5 36.5,31.2 30.4,31.9 24.3,33.1 18.2,34.4 12.2,35.1 6.1,35" fill="#C8203C"/><polygon points="9.7,15.2 14.6,14.9 14.6,25.6 9.7,25.8" fill="#B8303A"/><polygon points="8.3,16.5 9.7,16.5 9.7,24.6 8.3,24.6" fill="#C9B24A"/><polygon points="14.6,16.2 16,16 16,24.1 14.6,24.3" fill="#C9B24A"/><use href="#pc" class="o"/></g>
<g transform="translate(526.7,1099.9)" opacity="0.72" clip-path="url(#c)"><polygon points="0,2.9 6.1,3.8 12.2,3.9 18.2,3.2 24.3,1.9 30.4,0.7 36.5,0 42.5,0.3 48.6,1.3 48.6,17 42.5,16 36.5,15.8 30.4,16.4 24.3,17.6 18.2,18.9 12.2,19.7 6.1,19.6 0,18.7" fill="#E0283C"/><polygon points="0,34.1 0,18.5 6.1,19.4 12.2,19.5 18.2,18.8 24.3,17.5 30.4,16.3 36.5,15.6 42.5,15.9 48.6,16.9 48.6,32.5 42.5,31.5 36.5,31.2 30.4,31.9 24.3,33.1 18.2,34.4 12.2,35.1 6.1,35" fill="#0E9A4A"/><polygon points="26.5,20 24.3,19 22.1,21 22.9,18.3 20.7,17.1 23.4,16.5 24.3,13.7 25.2,16.1 27.9,15.6 25.7,17.6" fill="#FCD535"/><use href="#pc" class="o"/></g>
<g transform="translate(509.7,1088.9)" opacity="0.72" clip-path="url(#c)"><polygon points="16,3.5 21.5,2.5 26.9,1.3 32.3,0.4 37.7,0 43.2,0.3 48.6,1.3 48.6,17 43.2,16.1 37.7,15.7 32.3,16.1 26.9,17.1 21.5,18.2 16,19.2" fill="#FCD535"/><polygon points="16,34.7 16,19.1 21.5,18.1 26.9,16.9 32.3,16 37.7,15.6 43.2,15.9 48.6,16.9 48.6,32.5 43.2,31.5 37.7,31.2 32.3,31.6 26.9,32.5 21.5,33.7" fill="#0E9A4A"/><polygon points="0,2.9 5.3,3.8 10.7,4 16,3.5 16,34.7 10.7,35.2 5.3,35 0,34.1" fill="#D8213F"/><polygon points="10,22.4 8,20.9 6,22.2 6.7,19.9 4.8,18.2 7.2,18.4 8,16.1 8.8,18.5 11.3,18.5 9.3,20" fill="#1E1E1E"/><use href="#pc" class="o"/></g>
<g transform="translate(567.7,1101.4)" opacity="0.72" clip-path="url(#c)"><polygon points="0,2.9 6.1,3.8 12.2,3.9 18.2,3.2 24.3,1.9 30.4,0.7 36.5,0 42.5,0.3 48.6,1.3 48.6,11.8 42.5,10.8 36.5,10.6 30.4,11.2 24.3,12.4 18.2,13.7 12.2,14.5 6.1,14.4 0,13.5" fill="#D8213F"/><polygon points="0,13.3 6.1,14.2 12.2,14.3 18.2,13.6 24.3,12.3 30.4,11.1 36.5,10.4 42.5,10.7 48.6,11.7 48.6,22.2 42.5,21.2 36.5,21 30.4,21.6 24.3,22.8 18.2,24.1 12.2,24.9 6.1,24.8 0,23.9" fill="#FFFFFF"/><polygon points="0,34.1 0,23.7 6.1,24.6 12.2,24.7 18.2,24 24.3,22.7 30.4,21.5 36.5,20.8 42.5,21.1 48.6,22.1 48.6,32.5 42.5,31.5 36.5,31.2 30.4,31.9 24.3,33.1 18.2,34.4 12.2,35.1 6.1,35" fill="#1E1E1E"/><polygon points="14.6,16.2 19.4,15.4 24.3,14.4 29.2,13.4 34,12.7 34,18.3 29.2,19 24.3,20 19.4,21 14.6,21.8" fill="#2FA05A"/><use href="#pc" class="o"/></g>
<g transform="translate(465.7,1110.9)" opacity="0.72" clip-path="url(#c)"><polygon points="0,2.9 6.1,3.8 12.2,3.9 18.2,3.2 24.3,1.9 30.4,0.7 36.5,0 42.5,0.3 48.6,1.3 48.6,32.5 42.5,31.5 36.5,31.2 30.4,31.9 24.3,33.1 18.2,34.4 12.2,35.1 6.1,35 0,34.1" fill="#F0234A"/><polygon points="0,2.9 6.1,3.8 12.2,3.9 18.2,3.2 24.3,1.9 24.3,17.5 18.2,18.8 12.2,19.5 6.1,19.4 0,18.5" fill="#1F6FD8"/><polygon points="16.7,8.6 15.2,10.6 17.5,11.1 15.2,12.3 16.7,13.9 14.4,13.8 14.8,16.1 13,14.7 12.2,17 11.3,14.8 9.5,16.4 9.9,14 7.6,14.4 9.1,12.6 6.8,11.7 9.1,11 7.6,9.1 9.9,9.5 9.5,7.2 11.3,8.7 12.2,6.4 13,8.6 14.8,6.9 14.4,9.3" fill="#FFFFFF"/><use href="#pc" class="o"/></g>
<g transform="translate(414.7,1121.4)" opacity="0.72" clip-path="url(#c)"><polygon points="0,2.9 6.1,3.8 12.2,3.9 18.2,3.2 24.3,1.9 30.4,0.7 36.5,0 42.5,0.3 48.6,1.3 48.6,17 42.5,16 36.5,15.8 30.4,16.4 24.3,17.6 18.2,18.9 12.2,19.7 6.1,19.6 0,18.7" fill="#1FA0E0"/><polygon points="0,18.5 6.1,19.4 12.2,19.5 18.2,18.8 24.3,17.5 30.4,16.3 36.5,15.6 42.5,15.9 48.6,16.9 48.6,24.8 42.5,23.8 36.5,23.6 30.4,24.2 24.3,25.4 18.2,26.7 12.2,27.5 6.1,27.4 0,26.5" fill="#FCD535"/><polygon points="0,34.1 0,26.3 6.1,27.2 12.2,27.3 18.2,26.6 24.3,25.3 30.4,24.1 36.5,23.4 42.5,23.7 48.6,24.7 48.6,32.5 42.5,31.5 36.5,31.2 30.4,31.9 24.3,33.1 18.2,34.4 12.2,35.1 6.1,35" fill="#1F8A4A"/><polygon points="42.4,6 41.2,7.3 42.9,8.1 41.2,8.6 42.4,10.1 40.6,9.6 40.9,11.4 39.5,10.2 38.9,11.9 38.3,10.2 36.9,11.3 37.2,9.5 35.4,9.9 36.5,8.5 34.8,7.9 36.5,7.2 35.4,5.9 37.2,6.1 36.9,4.3 38.3,5.5 38.9,3.8 39.5,5.5 40.9,4.4 40.6,6.2" fill="#FCD535"/><use href="#pc" class="o"/></g>
<g transform="translate(480.7,1126.9)" opacity="0.72" clip-path="url(#c)"><polygon points="0,2.9 6.1,3.8 12.2,3.9 18.2,3.2 24.3,1.9 30.4,0.7 36.5,0 42.5,0.3 48.6,1.3 48.6,32.5 42.5,31.5 36.5,31.2 30.4,31.9 24.3,33.1 18.2,34.4 12.2,35.1 6.1,35 0,34.1" fill="#5FC4EA"/><polygon points="0,2.9 6.1,3.8 12.2,3.9 18.2,3.2 24.3,1.9 24.3,17.5 18.2,18.8 12.2,19.5 6.1,19.4 0,18.5" fill="#26358A"/><polygon points="24.3,17.5 24.3,15.6 18.9,13.3 13.6,10.7 8.2,7.4 2.9,3.4 0,2.9 0,4.8 5.4,9.1 10.7,12.7 16.1,15.7 21.4,18.1" fill="#FFFFFF"/><polygon points="24.3,3.7 24.3,1.9 21.4,2.5 16.1,7 10.7,10.9 5.4,14.1 0,16.7 0,18.5 2.9,19 8.2,16.1 13.6,12.5 18.9,8.3" fill="#FFFFFF"/><polygon points="24.3,17.5 24.3,16.8 18.5,14.3 12.7,11.3 6.9,7.6 1.2,3.2 0,2.9 0,3.7 5.8,8.3 11.6,12.1 17.4,15.2 23.1,17.7" fill="#DA2339"/><polygon points="24.3,2.6 24.3,1.9 23.1,2.1 17.4,7 11.6,11.4 5.8,15 0,17.8 0,18.5 1.2,18.8 6.9,15.8 12.7,12.1 18.5,7.6" fill="#DA2339"/><polygon points="10.2,4 14.1,3.8 14.1,19.4 10.2,19.6" fill="#FFFFFF"/><polygon points="0,8.9 6.1,9.8 12.2,9.9 18.2,9.1 24.3,7.8 24.3,11.6 18.2,12.8 12.2,13.6 6.1,13.5 0,12.6" fill="#FFFFFF"/><polygon points="10.9,4 13.4,3.8 13.4,19.4 10.9,19.6" fill="#DA2339"/><polygon points="0,9.5 6.1,10.4 12.2,10.5 18.2,9.7 24.3,8.4 24.3,10.9 18.2,12.2 12.2,13 6.1,12.9 0,12" fill="#DA2339"/><polygon points="33,18.4 33,9.6 36.9,9.4 40.8,9.5 40.8,18.2 36.9,22.5" fill="#FFFFFF"/><polygon points="33,9.6 36.9,9.4 40.8,9.5 40.8,12.6 36.9,12.5 33,12.8" fill="#DA2339"/><polygon points="36.5,12.5 37.4,12.5 37.4,21.8 36.5,21.9" fill="#DA2339"/><polygon points="33,16.5 36.9,16.2 40.8,16.3 40.8,17.3 36.9,17.2 33,17.4" fill="#DA2339"/><use href="#pc" class="o"/></g>
<g transform="translate(683.7,1111.4)" opacity="0.72" clip-path="url(#c)"><polygon points="0,2.9 6.1,3.8 12.2,3.9 18.2,3.2 24.3,1.9 30.4,0.7 36.5,0 42.5,0.3 48.6,1.3 48.6,32.5 42.5,31.5 36.5,31.2 30.4,31.9 24.3,33.1 18.2,34.4 12.2,35.1 6.1,35 0,34.1" fill="#FFFFFF"/><polygon points="21.8,2.4 26.8,1.3 26.8,32.5 21.8,33.6" fill="#E0232E"/><polygon points="0,16 6.1,16.9 12.2,17 18.2,16.3 24.3,15 30.4,13.8 36.5,13.1 42.5,13.4 48.6,14.4 48.6,19.4 42.5,18.4 36.5,18.1 30.4,18.8 24.3,20 18.2,21.3 12.2,22 6.1,21.9 0,21" fill="#E0232E"/><polygon points="8.7,13.5 9.6,11.5 8.7,9.5 10.7,10.4 12.7,9.4 11.8,11.4 12.7,13.4 10.7,12.6" fill="#E0232E"/><polygon points="35.9,9.5 36.8,7.5 35.9,5.6 37.9,6.4 39.9,5.6 39,7.5 39.9,9.5 37.9,8.6" fill="#E0232E"/><polygon points="8.7,29.7 9.6,27.7 8.7,25.7 10.7,26.6 12.7,25.6 11.8,27.7 12.7,29.6 10.7,28.8" fill="#E0232E"/><polygon points="35.9,25.7 36.8,23.7 35.9,21.8 37.9,22.6 39.9,21.8 39,23.7 39.9,25.7 37.9,24.8" fill="#E0232E"/><use href="#pc" class="o"/></g>
<g transform="translate(714.7,1109.8)" opacity="0.72" clip-path="url(#c)"><polygon points="0,2.9 6.1,3.8 12.2,3.9 18.2,3.2 24.3,1.9 30.4,0.7 36.5,0 42.5,0.3 48.6,1.3 48.6,32.5 42.5,31.5 36.5,31.2 30.4,31.9 24.3,33.1 18.2,34.4 12.2,35.1 6.1,35 0,34.1" fill="#D0203C"/><polygon points="43.7,4.2 38.9,6.7 34,9.9 29.2,13.5 24.3,17.5 19.4,15.6 14.6,13.4 9.7,10.7 4.9,7.5 10.4,7.7 16,7.3 21.5,6.2 27.1,5 32.6,4.1 38.2,3.7" fill="#FCD535"/><polygon points="43.7,27.9 38.9,24.5 34,21.7 29.2,19.4 24.3,17.5 19.4,21.5 14.6,25.2 9.7,28.5 4.9,31.2 10.4,31.5 16,31 21.5,30 27.1,28.7 32.6,27.8 38.2,27.5" fill="#FCD535"/><polygon points="24.3,17.5 19.4,21.5 14.6,25.2 9.7,28.5 4.9,31.2 4.9,7.5 9.7,10.7 14.6,13.4 19.4,15.6" fill="#0E8A5A"/><polygon points="24.3,17.5 29.2,19.4 34,21.7 38.9,24.5 43.7,27.9 43.7,4.2 38.9,6.7 34,9.9 29.2,13.5" fill="#0E8A5A"/><polygon points="24.3,21.2 22.9,21.3 21.7,20.7 20.8,19.7 20.6,18.3 20.8,16.8 21.7,15.4 22.9,14.4 24.3,13.7 25.7,13.7 26.9,14.3 27.8,15.3 28,16.7 27.8,18.2 26.9,19.6 25.7,20.6" fill="#D0203C"/><use href="#pc" class="o"/></g>
<g transform="translate(733.7,1112.7)" opacity="0.72" clip-path="url(#c)"><polygon points="0,2.9 6.1,3.8 12.2,3.9 18.2,3.2 24.3,1.9 30.4,0.7 36.5,0 42.5,0.3 48.6,1.3 48.6,4.9 42.5,3.9 36.5,3.6 30.4,4.3 24.3,5.5 18.2,6.8 12.2,7.5 6.1,7.4 0,6.5" fill="#FFFFFF"/><polygon points="0,6.4 6.1,7.3 12.2,7.4 18.2,6.6 24.3,5.4 30.4,4.1 36.5,3.5 42.5,3.7 48.6,4.7 48.6,8.3 42.5,7.3 36.5,7.1 30.4,7.7 24.3,8.9 18.2,10.2 12.2,11 6.1,10.9 0,10" fill="#2A4FB5"/><polygon points="0,9.9 6.1,10.8 12.2,10.9 18.2,10.1 24.3,8.8 30.4,7.6 36.5,7 42.5,7.2 48.6,8.2 48.6,11.8 42.5,10.8 36.5,10.6 30.4,11.2 24.3,12.4 18.2,13.7 12.2,14.5 6.1,14.4 0,13.5" fill="#FFFFFF"/><polygon points="0,13.3 6.1,14.2 12.2,14.3 18.2,13.6 24.3,12.3 30.4,11.1 36.5,10.4 42.5,10.7 48.6,11.7 48.6,15.3 42.5,14.3 36.5,14 30.4,14.7 24.3,15.9 18.2,17.2 12.2,17.9 6.1,17.8 0,16.9" fill="#2A4FB5"/><polygon points="0,16.8 6.1,17.7 12.2,17.8 18.2,17 24.3,15.8 30.4,14.5 36.5,13.9 42.5,14.1 48.6,15.1 48.6,18.7 42.5,17.7 36.5,17.5 30.4,18.1 24.3,19.3 18.2,20.6 12.2,21.4 6.1,21.3 0,20.4" fill="#FFFFFF"/><polygon points="0,20.3 6.1,21.2 12.2,21.3 18.2,20.5 24.3,19.2 30.4,18 36.5,17.4 42.5,17.6 48.6,18.6 48.6,22.2 42.5,21.2 36.5,21 30.4,21.6 24.3,22.8 18.2,24.1 12.2,24.9 6.1,24.8 0,23.9" fill="#2A4FB5"/><polygon points="0,23.7 6.1,24.6 12.2,24.7 18.2,24 24.3,22.7 30.4,21.5 36.5,20.8 42.5,21.1 48.6,22.1 48.6,25.7 42.5,24.7 36.5,24.4 30.4,25.1 24.3,26.3 18.2,27.6 12.2,28.3 6.1,28.2 0,27.3" fill="#FFFFFF"/><polygon points="0,27.2 6.1,28.1 12.2,28.2 18.2,27.4 24.3,26.2 30.4,24.9 36.5,24.3 42.5,24.5 48.6,25.5 48.6,29.1 42.5,28.1 36.5,27.9 30.4,28.5 24.3,29.7 18.2,31 12.2,31.8 6.1,31.7 0,30.8" fill="#2A4FB5"/><polygon points="0,34.1 0,30.7 6.1,31.6 12.2,31.7 18.2,30.9 24.3,29.6 30.4,28.4 36.5,27.8 42.5,28 48.6,29 48.6,32.5 42.5,31.5 36.5,31.2 30.4,31.9 24.3,33.1 18.2,34.4 12.2,35.1 6.1,35" fill="#FFFFFF"/><polygon points="0,2.9 5.8,3.8 11.7,4 17.5,3.3 17.5,20.5 11.7,21.1 5.8,21 0,20.1" fill="#FFFFFF"/><polygon points="14.2,9.4 12.1,11.8 15,12.4 12.1,13.6 14.2,15.6 11.2,15.1 11.9,18.1 9.6,16.1 8.7,19 7.9,16 5.6,17.9 6.3,15 3.3,15.4 5.4,13.4 2.5,12.1 5.4,11.6 3.3,9.1 6.3,10.2 5.6,7.1 7.9,9.4 8.7,6.5 9.6,9.4 11.9,7.3 11.2,10.3" fill="#E8B020"/><use href="#pc" class="o"/></g>
<g transform="translate(698.7,1094.4)" opacity="0.72" clip-path="url(#c)"><polygon points="0,2.9 6.2,3.8 12.3,3.9 12.3,35.1 6.2,35 0,34.1" fill="#1F6FC8"/><polygon points="12.2,3.9 18.3,3.2 24.4,1.9 30.5,0.6 36.6,0 36.6,31.2 30.5,31.8 24.4,33.1 18.3,34.4 12.2,35.1" fill="#FCD535"/><polygon points="36.5,0 42.5,0.3 48.6,1.3 48.6,32.5 42.5,31.5 36.5,31.2" fill="#0E9A5A"/><polygon points="20.4,10.5 22.4,14.8 20.4,19.9 18.5,15.6" fill="#0E9A7A"/><polygon points="28.2,8.9 30.1,13.2 28.2,18.2 26.2,13.9" fill="#0E9A7A"/><polygon points="24.3,15.9 26.2,20.8 24.3,26.2 22.4,21.7" fill="#0E9A7A"/><use href="#pc" class="o"/></g>
<g transform="translate(781.7,1101.4)" opacity="0.72" clip-path="url(#c)"><polygon points="0,2.9 6.1,3.8 12.2,3.9 18.2,3.2 24.3,1.9 30.4,0.7 36.5,0 42.5,0.3 48.6,1.3 48.6,4.9 42.5,3.9 36.5,3.6 30.4,4.3 24.3,5.5 18.2,6.8 12.2,7.5 6.1,7.4 0,6.5" fill="#2A3FB5"/><polygon points="0,6.4 6.1,7.3 12.2,7.4 18.2,6.6 24.3,5.4 30.4,4.1 36.5,3.5 42.5,3.7 48.6,4.7 48.6,8.3 42.5,7.3 36.5,7.1 30.4,7.7 24.3,8.9 18.2,10.2 12.2,11 6.1,10.9 0,10" fill="#FFFFFF"/><polygon points="0,9.9 6.1,10.8 12.2,10.9 18.2,10.1 24.3,8.8 30.4,7.6 36.5,7 42.5,7.2 48.6,8.2 48.6,11.8 42.5,10.8 36.5,10.6 30.4,11.2 24.3,12.4 18.2,13.7 12.2,14.5 6.1,14.4 0,13.5" fill="#2A3FB5"/><polygon points="0,13.3 6.1,14.2 12.2,14.3 18.2,13.6 24.3,12.3 30.4,11.1 36.5,10.4 42.5,10.7 48.6,11.7 48.6,15.3 42.5,14.3 36.5,14 30.4,14.7 24.3,15.9 18.2,17.2 12.2,17.9 6.1,17.8 0,16.9" fill="#FFFFFF"/><polygon points="0,16.8 6.1,17.7 12.2,17.8 18.2,17 24.3,15.8 30.4,14.5 36.5,13.9 42.5,14.1 48.6,15.1 48.6,18.7 42.5,17.7 36.5,17.5 30.4,18.1 24.3,19.3 18.2,20.6 12.2,21.4 6.1,21.3 0,20.4" fill="#2A3FB5"/><polygon points="0,20.3 6.1,21.2 12.2,21.3 18.2,20.5 24.3,19.2 30.4,18 36.5,17.4 42.5,17.6 48.6,18.6 48.6,22.2 42.5,21.2 36.5,21 30.4,21.6 24.3,22.8 18.2,24.1 12.2,24.9 6.1,24.8 0,23.9" fill="#FFFFFF"/><polygon points="0,23.7 6.1,24.6 12.2,24.7 18.2,24 24.3,22.7 30.4,21.5 36.5,20.8 42.5,21.1 48.6,22.1 48.6,25.7 42.5,24.7 36.5,24.4 30.4,25.1 24.3,26.3 18.2,27.6 12.2,28.3 6.1,28.2 0,27.3" fill="#2A3FB5"/><polygon points="0,27.2 6.1,28.1 12.2,28.2 18.2,27.4 24.3,26.2 30.4,24.9 36.5,24.3 42.5,24.5 48.6,25.5 48.6,29.1 42.5,28.1 36.5,27.9 30.4,28.5 24.3,29.7 18.2,31 12.2,31.8 6.1,31.7 0,30.8" fill="#FFFFFF"/><polygon points="0,34.1 0,30.7 6.1,31.6 12.2,31.7 18.2,30.9 24.3,29.6 30.4,28.4 36.5,27.8 42.5,28 48.6,29 48.6,32.5 42.5,31.5 36.5,31.2 30.4,31.9 24.3,33.1 18.2,34.4 12.2,35.1 6.1,35" fill="#2A3FB5"/><polygon points="0,2.9 6.2,3.8 12.3,3.9 18.5,3.1 18.5,20.4 12.3,21.2 6.2,21.2 0,20.3" fill="#2A3FB5"/><polygon points="7.3,3.9 11.2,4 11.2,21.3 7.3,21.2" fill="#FFFFFF"/><polygon points="0,9.9 6.2,10.8 12.3,10.8 18.5,10 18.5,13.5 12.3,14.3 6.2,14.2 0,13.3" fill="#FFFFFF"/><use href="#pc" class="o"/></g>
<g transform="translate(854.7,1100.4)" opacity="0.72" clip-path="url(#c)"><polygon points="0,2.9 6.1,3.8 12.2,3.9 18.2,3.2 24.3,1.9 30.4,0.7 36.5,0 42.5,0.3 48.6,1.3 48.6,32.5 42.5,31.5 36.5,31.2 30.4,31.9 24.3,33.1 18.2,34.4 12.2,35.1 6.1,35 0,34.1" fill="#2A2F9A"/><polygon points="38.9,0 38.9,31.2 33.7,25.2 28.6,19.7 23.4,14.6 18.3,9.4 13.1,3.9 18.3,3.2 23.4,2.1 28.6,1 33.7,0.2" fill="#FCD535"/><polygon points="10.6,5.9 9.7,5.2 8.8,5.9 9.1,4.8 8.2,4.1 9.4,4.1 9.4,4 10,4 10.1,4.1 11.2,4.1 10.3,4.8" fill="#FFFFFF"/><polygon points="14.8,10.3 13.9,9.7 12.9,10.4 13.3,9.3 12.4,8.7 13.5,8.6 13.9,7.5 14.2,8.6 15.3,8.4 14.4,9.2" fill="#FFFFFF"/><polygon points="18.9,14.3 18,13.8 17.1,14.6 17.4,13.5 16.5,13 17.6,12.8 18,11.6 18.3,12.6 19.5,12.4 18.6,13.3" fill="#FFFFFF"/><polygon points="23,18.1 22.1,17.7 21.2,18.5 21.5,17.4 20.6,16.9 21.7,16.6 22.1,15.5 22.5,16.5 23.6,16.2 22.7,17.1" fill="#FFFFFF"/><polygon points="27.2,21.9 26.2,21.4 25.3,22.3 25.7,21.1 24.8,20.7 25.9,20.4 26.2,19.2 26.6,20.2 27.7,20 26.8,20.9" fill="#FFFFFF"/><polygon points="31.3,25.8 30.4,25.3 29.5,26.1 29.8,25 28.9,24.5 30,24.2 30.4,23.1 30.7,24.1 31.9,24 31,24.8" fill="#FFFFFF"/><polygon points="35.4,30 34.5,29.5 33.6,30.2 33.9,29.1 33,28.5 34.1,28.4 34.5,27.3 34.9,28.3 36,28.3 35.1,29" fill="#FFFFFF"/><use href="#pc" class="o"/></g>
<g transform="translate(912.7,1098.4)" opacity="0.72" clip-path="url(#c)"><polygon points="0,2.9 6.1,3.8 12.2,3.9 18.2,3.2 24.3,1.9 30.4,0.7 36.5,0 42.5,0.3 48.6,1.3 48.6,17 42.5,16 36.5,15.8 30.4,16.4 24.3,17.6 18.2,18.9 12.2,19.7 6.1,19.6 0,18.7" fill="#FFFFFF"/><polygon points="0,34.1 0,18.5 6.1,19.4 12.2,19.5 18.2,18.8 24.3,17.5 30.4,16.3 36.5,15.6 42.5,15.9 48.6,16.9 48.6,32.5 42.5,31.5 36.5,31.2 30.4,31.9 24.3,33.1 18.2,34.4 12.2,35.1 6.1,35" fill="#DA2339"/><polygon points="24.3,17.5 18.2,22.7 12.2,27.3 6.1,31.1 0,34.1 0,2.9 6.1,7.7 12.2,11.7 18.2,14.9" fill="#1F4A8A"/><use href="#pc" class="o"/></g>
<g transform="translate(900.7,1103.4)" opacity="0.72" clip-path="url(#c)"><polygon points="0,2.9 6.1,3.8 12.2,3.9 18.2,3.2 24.3,1.9 30.4,0.7 36.5,0 42.5,0.3 48.6,1.3 48.6,32.5 42.5,31.5 36.5,31.2 30.4,31.9 24.3,33.1 18.2,34.4 12.2,35.1 6.1,35 0,34.1" fill="#DA2339"/><polygon points="4.6,3.7 0,2.9 0,5.9 6.3,10.9 12.6,14.9 18.8,18.1 25.1,20.8 31.4,23.6 37.7,27.2 44,31.6 48.6,32.5 48.6,29.5 42.3,24.4 36,20.2 29.8,16.9 23.5,14.2 17.2,11.4 10.9,8" fill="#FCD535"/><polygon points="44,0.4 37.7,4 31.4,8.6 25.1,13.8 18.8,19.2 12.6,24.1 6.3,28.1 0,31.2 0,34.1 4.6,34.9 10.9,31.1 17.2,26.5 23.5,21.2 29.8,15.8 36,11.1 42.3,7.2 48.6,4.2 48.6,1.3" fill="#FCD535"/><polygon points="27.2,1.3 24.3,17.5 21.4,2.5" fill="#FCD535"/><polygon points="27.2,32.5 24.3,17.5 21.4,33.7" fill="#FCD535"/><polygon points="0,21.7 6.1,21.8 12.2,21.1 18.2,19.5 24.3,17.5 18.2,18 12.2,18 6.1,17.1 0,15.4" fill="#FCD535"/><polygon points="48.6,20 42.5,18.2 36.5,17.2 30.4,17 24.3,17.5 30.4,15.5 36.5,14.1 42.5,13.5 48.6,13.7" fill="#FCD535"/><polygon points="24.3,23.7 21.9,23.8 19.9,22.9 18.5,21.1 18.1,18.8 18.5,16.3 19.9,14 21.9,12.3 24.3,11.3 26.7,11.2 28.7,12.1 30.1,13.9 30.5,16.2 30.1,18.7 28.7,21 26.7,22.7" fill="#DA2339"/><polygon points="24.3,22.2 22.5,22.2 21,21.5 20,20.2 19.6,18.5 20,16.6 21,14.9 22.5,13.6 24.3,12.8 26.1,12.8 27.6,13.5 28.6,14.8 29,16.5 28.6,18.4 27.6,20.1 26.1,21.4" fill="#FCD535"/><use href="#pc" class="o"/></g>
<g transform="translate(806.7,1110.4)" opacity="0.72" clip-path="url(#c)"><polygon points="48.6,1.3 42.5,4.2 36.5,7.8 30.4,12.4 24.3,17.5 18.2,22.7 12.2,27.3 6.1,31.1 0,34.1 0,2.9 6.1,3.8 12.2,3.9 18.2,3.2 24.3,1.9 30.4,0.7 36.5,0 42.5,0.3" fill="#0E9A4A"/><polygon points="48.6,32.5 42.5,31.5 36.5,31.2 30.4,31.9 24.3,33.1 18.2,34.4 12.2,35.1 6.1,35 0,34.1 6.1,31.1 12.2,27.3 18.2,22.7 24.3,17.5 30.4,12.4 36.5,7.8 42.5,4.2 48.6,1.3" fill="#D8213F"/><polygon points="35.9,0.1 29.9,4.6 23.9,9.7 17.9,14.7 12,19.3 6,23 0,26 0,34.1 4.2,34.8 8.5,35.2 12.7,35.1 18.7,30.4 24.7,25.3 30.7,20.3 36.6,15.9 42.6,12.3 48.6,9.4 48.6,1.3 44.4,0.5 40.1,0.1" fill="#FCD535"/><polygon points="38.2,0 32.7,3.8 27.3,8.3 21.8,12.9 16.4,17.5 10.9,21.5 5.5,24.8 0,27.5 0,34.1 5.2,35 10.4,35.2 15.9,31.2 21.3,26.7 26.8,22 32.2,17.6 37.7,13.7 43.1,10.5 48.6,7.9 48.6,1.3 43.4,0.4" fill="#1E1E1E"/><polygon points="16.7,26.8 15.6,25.2 13.6,25.9 14.9,24.2 13.9,22.5 15.8,23.1 17.1,21.4 17,23.4 18.8,23.9 16.9,24.7" fill="#FFFFFF"/><polygon points="33.2,13.6 32.1,12 30.2,12.8 31.4,11 30.4,9.4 32.3,9.9 33.7,8.2 33.5,10.3 35.4,10.9 33.4,11.6" fill="#FFFFFF"/><use href="#pc" class="o"/></g>
<g transform="translate(851.7,1112.9)" opacity="0.72" clip-path="url(#c)"><polygon points="0,2.9 6.1,3.8 12.2,3.9 18.2,3.2 24.3,1.9 30.4,0.7 36.5,0 42.5,0.3 48.6,1.3 48.6,13.9 42.5,12.9 36.5,12.6 30.4,13.3 24.3,14.5 18.2,15.8 12.2,16.5 6.1,16.4 0,15.5" fill="#9A1F3A"/><polygon points="0,15.4 6.1,16.3 12.2,16.4 18.2,15.6 24.3,14.4 30.4,13.1 36.5,12.5 42.5,12.7 48.6,13.7 48.6,20.1 42.5,19.1 36.5,18.9 30.4,19.5 24.3,20.7 18.2,22 12.2,22.8 6.1,22.7 0,21.8" fill="#FFFFFF"/><polygon points="0,34.1 0,21.7 6.1,22.6 12.2,22.6 18.2,21.9 24.3,20.6 30.4,19.4 36.5,18.7 42.5,19 48.6,20 48.6,32.5 42.5,31.5 36.5,31.2 30.4,31.9 24.3,33.1 18.2,34.4 12.2,35.1 6.1,35" fill="#9A1F3A"/><use href="#pc" class="o"/></g>
<g transform="translate(870.7,1119.4)" opacity="0.72" clip-path="url(#c)"><polygon points="0,2.9 6.1,3.8 12.2,3.9 18.2,3.2 24.3,1.9 30.4,0.7 36.5,0 42.5,0.3 48.6,1.3 48.6,11.8 42.5,10.8 36.5,10.6 30.4,11.2 24.3,12.4 18.2,13.7 12.2,14.5 6.1,14.4 0,13.5" fill="#E0232E"/><polygon points="0,13.3 6.1,14.2 12.2,14.3 18.2,13.6 24.3,12.3 30.4,11.1 36.5,10.4 42.5,10.7 48.6,11.7 48.6,22.2 42.5,21.2 36.5,21 30.4,21.6 24.3,22.8 18.2,24.1 12.2,24.9 6.1,24.8 0,23.9" fill="#FFFFFF"/><polygon points="0,34.1 0,23.7 6.1,24.6 12.2,24.7 18.2,24 24.3,22.7 30.4,21.5 36.5,20.8 42.5,21.1 48.6,22.1 48.6,32.5 42.5,31.5 36.5,31.2 30.4,31.9 24.3,33.1 18.2,34.4 12.2,35.1 6.1,35" fill="#1F2F9A"/><polygon points="19.4,11.7 24.3,10.6 29.2,9.6 29.2,23.3 24.3,24.4 19.4,25.4" fill="#E88A90"/><polygon points="19.4,7.3 24.3,6.3 29.2,5.2 29.2,9.6 24.3,10.6 19.4,11.7" fill="#6A8AD0"/><use href="#pc" class="o"/></g>
<g transform="translate(1071.7,1133.4)" opacity="0.72" clip-path="url(#c)"><polygon points="0,2.9 5.5,3.8 10.9,4 16.4,3.5 16.4,34.7 10.9,35.2 5.5,35 0,34.1" fill="#1F4FA8"/><polygon points="16.2,3.5 21.7,2.5 27.1,1.3 32.6,0.3 32.6,31.5 27.1,32.5 21.7,33.7 16.2,34.7" fill="#FFFFFF"/><polygon points="32.4,0.4 37.8,0 43.2,0.3 48.6,1.3 48.6,32.5 43.2,31.5 37.8,31.2 32.4,31.6" fill="#E0283C"/><use href="#pc" class="o"/></g>
<g transform="translate(1035.7,1138.4)" opacity="0.72" clip-path="url(#c)"><polygon points="0,2.9 6.1,3.8 12.2,3.9 18.2,3.2 24.3,1.9 30.4,0.7 36.5,0 42.5,0.3 48.6,1.3 48.6,11.8 42.5,10.8 36.5,10.6 30.4,11.2 24.3,12.4 18.2,13.7 12.2,14.5 6.1,14.4 0,13.5" fill="#1E1E1E"/><polygon points="0,13.3 6.1,14.2 12.2,14.3 18.2,13.6 24.3,12.3 30.4,11.1 36.5,10.4 42.5,10.7 48.6,11.7 48.6,22.2 42.5,21.2 36.5,21 30.4,21.6 24.3,22.8 18.2,24.1 12.2,24.9 6.1,24.8 0,23.9" fill="#FF1F24"/><polygon points="0,34.1 0,23.7 6.1,24.6 12.2,24.7 18.2,24 24.3,22.7 30.4,21.5 36.5,20.8 42.5,21.1 48.6,22.1 48.6,32.5 42.5,31.5 36.5,31.2 30.4,31.9 24.3,33.1 18.2,34.4 12.2,35.1 6.1,35" fill="#F8D020"/><use href="#pc" class="o"/></g>
<g transform="translate(1102.7,1118.9)" opacity="0.72" clip-path="url(#c)"><polygon points="0,2.9 5.5,3.8 10.9,4 16.4,3.5 16.4,34.7 10.9,35.2 5.5,35 0,34.1" fill="#0E8F4F"/><polygon points="16.2,3.5 21.7,2.5 27.1,1.3 32.6,0.3 32.6,31.5 27.1,32.5 21.7,33.7 16.2,34.7" fill="#FFFFFF"/><polygon points="32.4,0.4 37.8,0 43.2,0.3 48.6,1.3 48.6,32.5 43.2,31.5 37.8,31.2 32.4,31.6" fill="#D0283F"/><use href="#pc" class="o"/></g>
<g transform="translate(965.7,1120.4)" opacity="0.72" clip-path="url(#c)"><polygon points="0,2.9 6.1,3.8 12.2,3.9 18.2,3.2 24.3,1.9 30.4,0.7 36.5,0 42.5,0.3 48.6,1.3 48.6,11.8 42.5,10.8 36.5,10.6 30.4,11.2 24.3,12.4 18.2,13.7 12.2,14.5 6.1,14.4 0,13.5" fill="#2FA04A"/><polygon points="0,13.3 6.1,14.2 12.2,14.3 18.2,13.6 24.3,12.3 30.4,11.1 36.5,10.4 42.5,10.7 48.6,11.7 48.6,22.2 42.5,21.2 36.5,21 30.4,21.6 24.3,22.8 18.2,24.1 12.2,24.9 6.1,24.8 0,23.9" fill="#FFFFFF"/><polygon points="0,34.1 0,23.7 6.1,24.6 12.2,24.7 18.2,24 24.3,22.7 30.4,21.5 36.5,20.8 42.5,21.1 48.6,22.1 48.6,32.5 42.5,31.5 36.5,31.2 30.4,31.9 24.3,33.1 18.2,34.4 12.2,35.1 6.1,35" fill="#DA2339"/><polygon points="24.3,20.6 23.1,20.6 22.1,20.2 21.4,19.3 21.2,18.2 21.4,16.9 22.1,15.8 23.1,14.9 24.3,14.4 25.5,14.3 26.5,14.8 27.2,15.7 27.4,16.8 27.2,18.1 26.5,19.2 25.5,20.1" fill="#DA2339"/><polygon points="0,12.6 6.1,13.5 12.2,13.6 18.2,12.8 24.3,11.6 30.4,10.3 36.5,9.7 42.5,9.9 48.6,10.9 48.6,12.2 42.5,11.2 36.5,10.9 30.4,11.6 24.3,12.8 18.2,14.1 12.2,14.8 6.1,14.8 0,13.9" fill="#CFE8CF"/><polygon points="0,23.2 6.1,24.1 12.2,24.2 18.2,23.4 24.3,22.2 30.4,20.9 36.5,20.3 42.5,20.5 48.6,21.5 48.6,22.8 42.5,21.8 36.5,21.6 30.4,22.2 24.3,23.4 18.2,24.7 12.2,25.5 6.1,25.4 0,24.5" fill="#F0C8C8"/><use href="#pc" class="o"/></g>
<g transform="translate(616.2,1120.4)" opacity="0.72" clip-path="url(#c)"><polygon points="0,2.9 6.1,3.8 12.2,3.9 18.2,3.2 24.3,1.9 30.4,0.7 36.5,0 42.5,0.3 48.6,1.3 48.6,11.8 42.5,10.8 36.5,10.6 30.4,11.2 24.3,12.4 18.2,13.7 12.2,14.5 6.1,14.4 0,13.5" fill="#3FA83A"/><polygon points="0,13.3 6.1,14.2 12.2,14.3 18.2,13.6 24.3,12.3 30.4,11.1 36.5,10.4 42.5,10.7 48.6,11.7 48.6,22.2 42.5,21.2 36.5,21 30.4,21.6 24.3,22.8 18.2,24.1 12.2,24.9 6.1,24.8 0,23.9" fill="#FFFFFF"/><polygon points="0,34.1 0,23.7 6.1,24.6 12.2,24.7 18.2,24 24.3,22.7 30.4,21.5 36.5,20.8 42.5,21.1 48.6,22.1 48.6,32.5 42.5,31.5 36.5,31.2 30.4,31.9 24.3,33.1 18.2,34.4 12.2,35.1 6.1,35" fill="#E0283C"/><polygon points="12.2,19.5 6.1,27.2 0,34.1 0,2.9 6.1,11.6" fill="#1F7FD8"/><polygon points="25.3,19.5 24.4,19.5 23.7,19.2 23.3,18.6 23.1,17.8 23.3,16.9 23.7,16.1 24.4,15.4 25.3,15.1 26.1,15.1 26.8,15.4 27.3,16 27.5,16.8 27.3,17.7 26.8,18.5 26.1,19.1" fill="#8A9A8A"/><use href="#pc" class="o"/></g>
<g transform="translate(658.7,1122.4)" opacity="0.72" clip-path="url(#c)"><polygon points="0,2.9 6.1,3.8 12.2,3.9 18.2,3.2 24.3,1.9 30.4,0.7 36.5,0 42.5,0.3 48.6,1.3 48.6,32.5 42.5,31.5 36.5,31.2 30.4,31.9 24.3,33.1 18.2,34.4 12.2,35.1 6.1,35 0,34.1" fill="#0E9A4A"/><polygon points="48.6,16.9 42.5,17.8 36.5,19.5 30.4,22.1 24.3,25.3 18.2,28.5 12.2,31.2 6.1,33.1 0,34.1 0,2.9 6.1,5.8 12.2,7.8 18.2,9 24.3,9.7 30.4,10.4 36.5,11.7 42.5,13.9" fill="#FFFFFF"/><polygon points="44.7,16.1 39.1,17.4 33.5,19.3 27.9,22 22.4,24.9 16.8,27.8 11.2,30.1 5.6,31.7 0,32.6 0,4.5 5.6,7.1 11.2,9 16.8,10.2 22.4,10.9 27.9,11.4 33.5,12.3 39.1,13.9" fill="#FCD535"/><polygon points="22.4,17.9 16.8,22.9 11.2,27.4 5.6,31.1 0,34.1 0,2.9 5.6,7.7 11.2,11.8 16.8,15.1" fill="#1E1E1E"/><polygon points="19.9,18.4 14.9,22.6 10,26.3 5,29.4 0,32 0,5.1 5,9.3 10,12.9 14.9,15.9" fill="#DA2339"/><use href="#pc" class="o"/></g>
<g transform="translate(646.7,1136.4)" opacity="0.72" clip-path="url(#c)"><polygon points="0,2.9 6.1,3.8 12.2,3.9 18.2,3.2 24.3,1.9 30.4,0.7 36.5,0 42.5,0.3 48.6,1.3 48.6,32.5 42.5,31.5 36.5,31.2 30.4,31.9 24.3,33.1 18.2,34.4 12.2,35.1 6.1,35 0,34.1" fill="#E0232E"/><polygon points="24.3,25 21.4,25 19,23.9 17.4,21.8 16.8,19 17.4,16 19,13.3 21.4,11.2 24.3,10 27.2,10 29.6,11.1 31.2,13.3 31.8,16 31.2,19 29.6,21.7 27.2,23.8" fill="#FFFFFF"/><polygon points="24.3,23.1 22.2,23.2 20.3,22.3 19.1,20.8 18.7,18.7 19.1,16.5 20.3,14.4 22.2,12.8 24.3,11.9 26.4,11.8 28.3,12.7 29.5,14.3 29.9,16.3 29.5,18.6 28.3,20.6 26.4,22.2" fill="#E0232E"/><polygon points="26.3,21.6 24.5,21.6 23.1,20.9 22.1,19.7 21.8,18.1 22.1,16.3 23.1,14.6 24.5,13.3 26.3,12.6 28,12.6 29.4,13.2 30.4,14.5 30.8,16.2 30.4,18 29.4,19.6 28,20.9" fill="#FFFFFF"/><polygon points="27.9,19 26.2,18.2 24.6,19.7 25.2,17.6 23.6,16.8 25.6,16.3 26.2,14.3 26.9,16 28.9,15.7 27.3,17.2" fill="#E0232E"/><use href="#pc" class="o"/></g>
<g transform="translate(518.7,1158.9)" opacity="0.72" clip-path="url(#c)"><polygon points="0,2.9 6.1,3.8 12.2,3.9 18.2,3.2 24.3,1.9 30.4,0.7 36.5,0 42.5,0.3 48.6,1.3 48.6,11.8 42.5,10.8 36.5,10.6 30.4,11.2 24.3,12.4 18.2,13.7 12.2,14.5 6.1,14.4 0,13.5" fill="#F07A2A"/><polygon points="0,13.3 6.1,14.2 12.2,14.3 18.2,13.6 24.3,12.3 30.4,11.1 36.5,10.4 42.5,10.7 48.6,11.7 48.6,22.2 42.5,21.2 36.5,21 30.4,21.6 24.3,22.8 18.2,24.1 12.2,24.9 6.1,24.8 0,23.9" fill="#FFFFFF"/><polygon points="0,34.1 0,23.7 6.1,24.6 12.2,24.7 18.2,24 24.3,22.7 30.4,21.5 36.5,20.8 42.5,21.1 48.6,22.1 48.6,32.5 42.5,31.5 36.5,31.2 30.4,31.9 24.3,33.1 18.2,34.4 12.2,35.1 6.1,35" fill="#2FA03F"/><polygon points="24.3,22.2 22.5,22.2 21,21.5 20,20.2 19.6,18.5 20,16.6 21,14.9 22.5,13.6 24.3,12.8 26.1,12.8 27.6,13.5 28.6,14.8 29,16.5 28.6,18.4 27.6,20.1 26.1,21.4" fill="#F07A2A"/><use href="#pc" class="o"/></g>
<g transform="translate(529.2,1132.9)" opacity="0.72" clip-path="url(#c)"><polygon points="0,2.9 6.1,3.8 12.2,3.9 18.2,3.2 24.3,1.9 30.4,0.7 36.5,0 42.5,0.3 48.6,1.3 48.6,11.8 42.5,10.8 36.5,10.6 30.4,11.2 24.3,12.4 18.2,13.7 12.2,14.5 6.1,14.4 0,13.5" fill="#D8213F"/><polygon points="0,13.3 6.1,14.2 12.2,14.3 18.2,13.6 24.3,12.3 30.4,11.1 36.5,10.4 42.5,10.7 48.6,11.7 48.6,22.2 42.5,21.2 36.5,21 30.4,21.6 24.3,22.8 18.2,24.1 12.2,24.9 6.1,24.8 0,23.9" fill="#FFFFFF"/><polygon points="0,34.1 0,23.7 6.1,24.6 12.2,24.7 18.2,24 24.3,22.7 30.4,21.5 36.5,20.8 42.5,21.1 48.6,22.1 48.6,32.5 42.5,31.5 36.5,31.2 30.4,31.9 24.3,33.1 18.2,34.4 12.2,35.1 6.1,35" fill="#1F3FB5"/><polygon points="24.3,20.3 23.2,20.3 22.3,19.9 21.7,19.1 21.5,18.1 21.7,17 22.3,15.9 23.2,15.1 24.3,14.7 25.4,14.7 26.3,15.1 26.9,15.9 27.1,16.9 26.9,18 26.3,19 25.4,19.8" fill="#8A7A5A"/><polygon points="24.3,19.4 23.6,19.4 23,19.1 22.6,18.6 22.4,17.9 22.6,17.2 23,16.5 23.6,15.9 24.3,15.6 25,15.6 25.6,15.9 26,16.4 26.2,17.1 26,17.8 25.6,18.5 25,19.1" fill="#FFFFFF"/><use href="#pc" class="o"/></g>
<g transform="translate(577.7,1131.9)" opacity="0.72" clip-path="url(#c)"><polygon points="0,2.9 6.1,3.8 12.2,3.9 18.2,3.2 24.3,1.9 30.4,0.7 36.5,0 42.5,0.3 48.6,1.3 48.6,11.8 42.5,10.8 36.5,10.6 30.4,11.2 24.3,12.4 18.2,13.7 12.2,14.5 6.1,14.4 0,13.5" fill="#1E1E1E"/><polygon points="0,13.3 6.1,14.2 12.2,14.3 18.2,13.6 24.3,12.3 30.4,11.1 36.5,10.4 42.5,10.7 48.6,11.7 48.6,22.2 42.5,21.2 36.5,21 30.4,21.6 24.3,22.8 18.2,24.1 12.2,24.9 6.1,24.8 0,23.9" fill="#FFFFFF"/><polygon points="0,34.1 0,23.7 6.1,24.6 12.2,24.7 18.2,24 24.3,22.7 30.4,21.5 36.5,20.8 42.5,21.1 48.6,22.1 48.6,32.5 42.5,31.5 36.5,31.2 30.4,31.9 24.3,33.1 18.2,34.4 12.2,35.1 6.1,35" fill="#0E8A3A"/><polygon points="21.9,18 16.4,23 10.9,27.4 5.5,31.1 0,34.1 0,2.9 5.5,7.7 10.9,11.8 16.4,15.2" fill="#DA2339"/><polygon points="8.5,19.9 7.7,19.9 7.8,20.7 7.3,20 6.7,20.6 6.9,19.8 6.1,19.7 6.8,19.4 6.3,18.7 7.1,19.1 7.3,18.3 7.5,19.1 8.3,18.8 7.8,19.4" fill="#FFFFFF"/><use href="#pc" class="o"/></g>
<g transform="translate(401.7,1142.4)" opacity="0.72" clip-path="url(#c)"><polygon points="0,2.9 6.1,3.8 12.2,3.9 18.2,3.2 24.3,1.9 30.4,0.7 36.5,0 42.5,0.3 48.6,1.3 48.6,7.6 42.5,6.6 36.5,6.4 30.4,7 24.3,8.3 18.2,9.5 12.2,10.3 6.1,10.2 0,9.3" fill="#0E8A5A"/><polygon points="0,9.2 6.1,10.1 12.2,10.2 18.2,9.4 24.3,8.1 30.4,6.9 36.5,6.3 42.5,6.5 48.6,7.5 48.6,13.9 42.5,12.9 36.5,12.6 30.4,13.3 24.3,14.5 18.2,15.8 12.2,16.5 6.1,16.4 0,15.5" fill="#FCD535"/><polygon points="0,15.4 6.1,16.3 12.2,16.4 18.2,15.6 24.3,14.4 30.4,13.1 36.5,12.5 42.5,12.7 48.6,13.7 48.6,20.1 42.5,19.1 36.5,18.9 30.4,19.5 24.3,20.7 18.2,22 12.2,22.8 6.1,22.7 0,21.8" fill="#0E8A5A"/><polygon points="0,21.7 6.1,22.6 12.2,22.6 18.2,21.9 24.3,20.6 30.4,19.4 36.5,18.7 42.5,19 48.6,20 48.6,26.3 42.5,25.3 36.5,25.1 30.4,25.7 24.3,27 18.2,28.3 12.2,29 6.1,28.9 0,28" fill="#FCD535"/><polygon points="0,34.1 0,27.9 6.1,28.8 12.2,28.9 18.2,28.1 24.3,26.9 30.4,25.6 36.5,25 42.5,25.2 48.6,26.2 48.6,32.5 42.5,31.5 36.5,31.2 30.4,31.9 24.3,33.1 18.2,34.4 12.2,35.1 6.1,35" fill="#0E8A5A"/><polygon points="0,2.9 5.8,3.8 11.7,4 17.5,3.3 17.5,22 11.7,22.7 5.8,22.5 0,21.7" fill="#D8213F"/><polygon points="11.1,16.6 8.7,15 6.4,16.5 7.2,13.8 4.9,11.8 7.8,12 8.7,9.3 9.7,12 12.6,12 10.3,13.9" fill="#FFFFFF"/><use href="#pc" class="o"/></g>
<g transform="translate(982.7,1165.4)" opacity="0.72" clip-path="url(#c)"><polygon points="0,2.9 6.1,3.8 12.2,3.9 18.2,3.2 24.3,1.9 30.4,0.7 36.5,0 42.5,0.3 48.6,1.3 48.6,11.8 42.5,10.8 36.5,10.6 30.4,11.2 24.3,12.4 18.2,13.7 12.2,14.5 6.1,14.4 0,13.5" fill="#2A6FC8"/><polygon points="0,13.3 6.1,14.2 12.2,14.3 18.2,13.6 24.3,12.3 30.4,11.1 36.5,10.4 42.5,10.7 48.6,11.7 48.6,22.2 42.5,21.2 36.5,21 30.4,21.6 24.3,22.8 18.2,24.1 12.2,24.9 6.1,24.8 0,23.9" fill="#1E1E1E"/><polygon points="0,34.1 0,23.7 6.1,24.6 12.2,24.7 18.2,24 24.3,22.7 30.4,21.5 36.5,20.8 42.5,21.1 48.6,22.1 48.6,32.5 42.5,31.5 36.5,31.2 30.4,31.9 24.3,33.1 18.2,34.4 12.2,35.1 6.1,35" fill="#FFFFFF"/><use href="#pc" class="o"/></g>
<g transform="translate(963.7,1150.4)" opacity="0.72" clip-path="url(#c)"><polygon points="0,2.9 6.1,3.8 12.2,3.9 18.4,3.1 24.5,1.8 24.5,33 18.4,34.3 12.2,35.1 6.1,35 0,34.1" fill="#FFFFFF"/><polygon points="24.3,1.9 30.4,0.7 36.5,0 42.5,0.3 48.6,1.3 48.6,32.5 42.5,31.5 36.5,31.2 30.4,31.9 24.3,33.1" fill="#D8213F"/><polygon points="2.4,5.9 7.3,6.4 7.3,10.8 2.4,10.2" fill="#BBB"/><use href="#pc" class="o"/></g>
<g transform="translate(1000.7,1148.4)" opacity="0.72" clip-path="url(#c)"><polygon points="0,2.9 6.1,3.8 12.2,3.9 18.2,3.2 24.3,1.9 30.4,0.7 36.5,0 42.5,0.3 48.6,1.3 48.6,32.5 42.5,31.5 36.5,31.2 30.4,31.9 24.3,33.1 18.2,34.4 12.2,35.1 6.1,35 0,34.1" fill="#E8242A"/><polygon points="12.2,3.9 17,3.4 21.9,2.4 21.9,33.6 17,34.6 12.2,35.1" fill="#FFFFFF"/><polygon points="0,14.2 6.1,15.1 12.2,15.2 18.2,14.4 24.3,13.1 30.4,11.9 36.5,11.3 42.5,11.5 48.6,12.5 48.6,21.2 42.5,20.2 36.5,20 30.4,20.6 24.3,21.9 18.2,23.1 12.2,23.9 6.1,23.8 0,22.9" fill="#FFFFFF"/><polygon points="14.6,3.7 19.4,2.9 19.4,34.1 14.6,34.9" fill="#1F2F7A"/><polygon points="0,16.4 6.1,17.3 12.2,17.3 18.2,16.6 24.3,15.3 30.4,14.1 36.5,13.4 42.5,13.7 48.6,14.7 48.6,19 42.5,18 36.5,17.8 30.4,18.4 24.3,19.7 18.2,21 12.2,21.7 6.1,21.6 0,20.7" fill="#1F2F7A"/><use href="#pc" class="o"/></g>
<g transform="translate(76.7,1149.9)" opacity="0.72" clip-path="url(#c)"><polygon points="0,2.9 6.1,3.8 12.2,3.9 18.2,3.2 24.3,1.9 30.4,0.7 36.5,0 42.5,0.3 48.6,1.3 48.6,17 42.5,16 36.5,15.8 30.4,16.4 24.3,17.6 18.2,18.9 12.2,19.7 6.1,19.6 0,18.7" fill="#D8213F"/><polygon points="0,34.1 0,18.5 6.1,19.4 12.2,19.5 18.2,18.8 24.3,17.5 30.4,16.3 36.5,15.6 42.5,15.9 48.6,16.9 48.6,32.5 42.5,31.5 36.5,31.2 30.4,31.9 24.3,33.1 18.2,34.4 12.2,35.1 6.1,35" fill="#1E1E1E"/><polygon points="25.3,22.9 22.9,22.9 20.9,22 19.5,20.3 19,18 19.5,15.5 20.9,13.2 22.9,11.4 25.3,10.4 27.7,10.4 29.7,11.3 31,13.1 31.5,15.5 31,17.9 29.7,20.2 27.7,21.9" fill="#FCD535"/><polygon points="22.8,12.5 21.1,13.3 19.5,14.6 18.5,16.3 18.2,18.2 22.8,17.2 27.5,16.2 27.2,14.5 26.2,13.2 24.6,12.5" fill="#D8213F"/><polygon points="22.8,21.9 24.6,21.1 26.2,19.8 27.2,18 27.5,16.2 22.8,17.2 18.2,18.2 18.5,19.9 19.5,21.2 21.1,21.9" fill="#1E1E1E"/><polygon points="18.5,21.8 24.3,22.8 30.1,23.8 29.2,25.8 23.3,24.9 17.5,23.9" fill="#FCD535"/><polygon points="23.5,15.5 22.4,14.9 21.3,15.9 21.6,14.6 20.6,14 21.9,13.7 22.4,12.3 22.8,13.5 24.1,13.2 23.1,14.3" fill="#FCD535"/><use href="#pc" class="o"/></g>
<g transform="translate(714.7,1153.4)" opacity="0.72" clip-path="url(#c)"><polygon points="0,2.9 6.1,3.8 12.2,3.9 18.2,3.2 24.3,1.9 30.4,0.7 36.5,0 42.5,0.3 48.6,1.3 48.6,6.6 42.5,5.6 36.5,5.4 30.4,6 24.3,7.2 18.2,8.5 12.2,9.3 6.1,9.2 0,8.3" fill="#1F3FA0"/><polygon points="0,8.1 6.1,9 12.2,9.1 18.2,8.4 24.3,7.1 30.4,5.9 36.5,5.2 42.5,5.5 48.6,6.5 48.6,11.8 42.5,10.8 36.5,10.6 30.4,11.2 24.3,12.4 18.2,13.7 12.2,14.5 6.1,14.4 0,13.5" fill="#FFFFFF"/><polygon points="0,13.3 6.1,14.2 12.2,14.3 18.2,13.6 24.3,12.3 30.4,11.1 36.5,10.4 42.5,10.7 48.6,11.7 48.6,22.2 42.5,21.2 36.5,21 30.4,21.6 24.3,22.8 18.2,24.1 12.2,24.9 6.1,24.8 0,23.9" fill="#DA2339"/><polygon points="0,23.7 6.1,24.6 12.2,24.7 18.2,24 24.3,22.7 30.4,21.5 36.5,20.8 42.5,21.1 48.6,22.1 48.6,27.4 42.5,26.4 36.5,26.2 30.4,26.8 24.3,28 18.2,29.3 12.2,30.1 6.1,30 0,29.1" fill="#FFFFFF"/><polygon points="0,34.1 0,28.9 6.1,29.8 12.2,29.9 18.2,29.2 24.3,27.9 30.4,26.7 36.5,26 42.5,26.3 48.6,27.3 48.6,32.5 42.5,31.5 36.5,31.2 30.4,31.9 24.3,33.1 18.2,34.4 12.2,35.1 6.1,35" fill="#1F3FA0"/><use href="#pc" class="o"/></g>
<g transform="translate(744.7,1148.7)" opacity="0.72" clip-path="url(#c)"><polygon points="0,2.9 6.1,3.8 12.2,3.9 18.2,3.2 24.3,1.9 30.4,0.7 36.5,0 42.5,0.3 48.6,1.3 48.6,3.6 42.5,2.6 36.5,2.4 30.4,3 24.3,4.2 18.2,5.5 12.2,6.3 6.1,6.2 0,5.3" fill="#DA2339"/><polygon points="0,5.2 6.1,6.1 12.2,6.2 18.2,5.4 24.3,4.1 30.4,2.9 36.5,2.3 42.5,2.5 48.6,3.5 48.6,5.8 42.5,4.8 36.5,4.6 30.4,5.2 24.3,6.5 18.2,7.7 12.2,8.5 6.1,8.4 0,7.5" fill="#FFFFFF"/><polygon points="0,7.4 6.1,8.3 12.2,8.4 18.2,7.6 24.3,6.3 30.4,5.1 36.5,4.5 42.5,4.7 48.6,5.7 48.6,8.1 42.5,7.1 36.5,6.8 30.4,7.5 24.3,8.7 18.2,10 12.2,10.7 6.1,10.6 0,9.7" fill="#DA2339"/><polygon points="0,9.6 6.1,10.5 12.2,10.6 18.2,9.9 24.3,8.6 30.4,7.4 36.5,6.7 42.5,6.9 48.6,7.9 48.6,10.3 42.5,9.3 36.5,9.1 30.4,9.7 24.3,10.9 18.2,12.2 12.2,13 6.1,12.9 0,12" fill="#FFFFFF"/><polygon points="0,11.9 6.1,12.8 12.2,12.8 18.2,12.1 24.3,10.8 30.4,9.6 36.5,8.9 42.5,9.2 48.6,10.2 48.6,12.5 42.5,11.5 36.5,11.3 30.4,11.9 24.3,13.2 18.2,14.4 12.2,15.2 6.1,15.1 0,14.2" fill="#DA2339"/><polygon points="0,14.1 6.1,15 12.2,15.1 18.2,14.3 24.3,13 30.4,11.8 36.5,11.2 42.5,11.4 48.6,12.4 48.6,14.8 42.5,13.8 36.5,13.5 30.4,14.2 24.3,15.4 18.2,16.7 12.2,17.4 6.1,17.3 0,16.4" fill="#FFFFFF"/><polygon points="0,16.3 6.1,17.2 12.2,17.3 18.2,16.5 24.3,15.3 30.4,14 36.5,13.4 42.5,13.6 48.6,14.6 48.6,17 42.5,16 36.5,15.8 30.4,16.4 24.3,17.6 18.2,18.9 12.2,19.7 6.1,19.6 0,18.7" fill="#DA2339"/><polygon points="0,18.5 6.1,19.4 12.2,19.5 18.2,18.8 24.3,17.5 30.4,16.3 36.5,15.6 42.5,15.9 48.6,16.9 48.6,19.2 42.5,18.2 36.5,18 30.4,18.6 24.3,19.8 18.2,21.1 12.2,21.9 6.1,21.8 0,20.9" fill="#FFFFFF"/><polygon points="0,20.8 6.1,21.7 12.2,21.8 18.2,21 24.3,19.7 30.4,18.5 36.5,17.9 42.5,18.1 48.6,19.1 48.6,21.4 42.5,20.4 36.5,20.2 30.4,20.8 24.3,22.1 18.2,23.3 12.2,24.1 6.1,24 0,23.1" fill="#DA2339"/><polygon points="0,23 6.1,23.9 12.2,24 18.2,23.2 24.3,21.9 30.4,20.7 36.5,20.1 42.5,20.3 48.6,21.3 48.6,23.7 42.5,22.7 36.5,22.4 30.4,23.1 24.3,24.3 18.2,25.6 12.2,26.3 6.1,26.2 0,25.3" fill="#FFFFFF"/><polygon points="0,25.2 6.1,26.1 12.2,26.2 18.2,25.5 24.3,24.2 30.4,23 36.5,22.3 42.5,22.5 48.6,23.5 48.6,25.9 42.5,24.9 36.5,24.7 30.4,25.3 24.3,26.5 18.2,27.8 12.2,28.6 6.1,28.5 0,27.6" fill="#DA2339"/><polygon points="0,27.5 6.1,28.4 12.2,28.4 18.2,27.7 24.3,26.4 30.4,25.2 36.5,24.5 42.5,24.8 48.6,25.8 48.6,28.1 42.5,27.1 36.5,26.9 30.4,27.5 24.3,28.8 18.2,30 12.2,30.8 6.1,30.7 0,29.8" fill="#FFFFFF"/><polygon points="0,29.7 6.1,30.6 12.2,30.7 18.2,29.9 24.3,28.6 30.4,27.4 36.5,26.8 42.5,27 48.6,28 48.6,30.4 42.5,29.4 36.5,29.1 30.4,29.8 24.3,31 18.2,32.3 12.2,33 6.1,32.9 0,32" fill="#DA2339"/><polygon points="0,34.1 0,31.9 6.1,32.8 12.2,32.9 18.2,32.1 24.3,30.9 30.4,29.6 36.5,29 42.5,29.2 48.6,30.2 48.6,32.5 42.5,31.5 36.5,31.2 30.4,31.9 24.3,33.1 18.2,34.4 12.2,35.1 6.1,35" fill="#FFFFFF"/><polygon points="0,2.9 6.1,3.8 12.2,3.9 18.2,3.2 24.3,1.9 24.3,19.7 18.2,21 12.2,21.7 6.1,21.6 0,20.7" fill="#1F2F7A"/><polygon points="9.7,19 7.3,18.4 5.3,16.9 4,14.7 3.5,12.3 4,9.9 5.3,8.1 7.3,6.9 9.7,6.5 12.1,6.9 14.1,8.1 15.5,9.9 16,12.3 15.5,14.7 14.1,16.9 12.1,18.4" fill="#FCD535"/><polygon points="11.6,18 9.6,17.6 7.8,16.4 6.7,14.7 6.3,12.6 6.7,10.6 7.8,8.9 9.6,7.8 11.6,7.4 13.6,7.6 15.3,8.6 16.5,10.2 16.9,12.1 16.5,14.2 15.3,16.1 13.6,17.5" fill="#1F2F7A"/><polygon points="20.2,8.6 18.6,10.8 21.1,10.3 18.9,11.8 21.1,12.4 18.6,12.8 20.2,14.4 18,13.8 18.6,16.1 17,14.4 16.5,16.9 16,14.5 14.5,16.7 15.1,14.2 12.9,15.5 14.4,13.5 12,13.7 14.2,12.5 12,11.6 14.4,11.5 12.9,9.7 15.1,10.6 14.5,8.2 16,10 16.5,7.5 17,9.8 18.6,7.6 18,10.1" fill="#FCD535"/><use href="#pc" class="o"/></g>
<g transform="translate(790.7,1147.4)" opacity="0.72" clip-path="url(#c)"><polygon points="0,2.9 6.1,3.8 12.2,3.9 18.2,3.2 24.3,1.9 30.4,0.7 36.5,0 42.5,0.3 48.6,1.3 48.6,32.5 42.5,31.5 36.5,31.2 30.4,31.9 24.3,33.1 18.2,34.4 12.2,35.1 6.1,35 0,34.1" fill="#D8213F"/><polygon points="48.6,1.3 42.5,8.1 36.5,15.6 30.4,24.1 24.3,33.1 18.2,26.6 12.2,19.5 6.1,11.6 0,2.9 6.1,3.8 12.2,3.9 18.2,3.2 24.3,1.9 30.4,0.7 36.5,0 42.5,0.3" fill="#1E1E1E"/><polygon points="38.9,12.5 34,18.9 29.2,25.8 24.3,33.1 19.4,27.9 14.6,22.4 9.7,16.5 15.6,16.1 21.4,15 27.2,13.7 33,12.8" fill="#1F8FD8"/><polygon points="33,20.3 28.7,26.6 24.3,33.1 19.9,28.4 15.6,23.6 21.4,22.5 27.2,21.2" fill="#FFFFFF"/><polygon points="29.5,12.4 26.9,14.3 28.9,16.1 26,16 26.1,19 24.3,17 22.5,19.8 22.6,16.8 19.7,18 21.7,15.4 19.1,14.6 22,13.6 20.9,11.1 23.4,12.1 24.3,9.1 25.2,11.7 27.7,9.6 26.6,12.5" fill="#FCD535"/><use href="#pc" class="o"/></g>
<g transform="translate(910.7,1154.9)" opacity="0.72" clip-path="url(#c)"><polygon points="0,2.9 6.1,3.8 12.2,3.9 18.2,3.2 24.3,1.9 30.4,0.7 36.5,0 42.5,0.3 48.6,1.3 48.6,32.5 42.5,31.5 36.5,31.2 30.4,31.9 24.3,33.1 18.2,34.4 12.2,35.1 6.1,35 0,34.1" fill="#FFFFFF"/><polygon points="29.2,14.9 25.5,17.2 21.9,19.6 17,20.5 14.6,17.8 20.7,14.4 26.7,10.7 31.6,7 36.5,3.8 34,9.5" fill="#E88A2A"/><polygon points="31.6,21.7 26.7,23.8 24.3,25.6 21.9,24.9 17,24.6 21.9,25.8 24.3,26.9 26.7,24.8" fill="#5A8A4A"/><use href="#pc" class="o"/></g>
<g transform="translate(566.7,1161.9)" opacity="0.72" clip-path="url(#c)"><polygon points="0,2.9 6.1,3.8 12.2,3.9 18.2,3.2 24.3,1.9 30.4,0.7 36.5,0 42.5,0.3 48.6,1.3 48.6,6.6 42.5,5.6 36.5,5.4 30.4,6 24.3,7.2 18.2,8.5 12.2,9.3 6.1,9.2 0,8.3" fill="#DA2339"/><polygon points="0,8.1 6.1,9 12.2,9.1 18.2,8.4 24.3,7.1 30.4,5.9 36.5,5.2 42.5,5.5 48.6,6.5 48.6,11.8 42.5,10.8 36.5,10.6 30.4,11.2 24.3,12.4 18.2,13.7 12.2,14.5 6.1,14.4 0,13.5" fill="#FFFFFF"/><polygon points="0,13.3 6.1,14.2 12.2,14.3 18.2,13.6 24.3,12.3 30.4,11.1 36.5,10.4 42.5,10.7 48.6,11.7 48.6,22.2 42.5,21.2 36.5,21 30.4,21.6 24.3,22.8 18.2,24.1 12.2,24.9 6.1,24.8 0,23.9" fill="#26358A"/><polygon points="0,23.7 6.1,24.6 12.2,24.7 18.2,24 24.3,22.7 30.4,21.5 36.5,20.8 42.5,21.1 48.6,22.1 48.6,27.4 42.5,26.4 36.5,26.2 30.4,26.8 24.3,28 18.2,29.3 12.2,30.1 6.1,30 0,29.1" fill="#FFFFFF"/><polygon points="0,34.1 0,28.9 6.1,29.8 12.2,29.9 18.2,29.2 24.3,27.9 30.4,26.7 36.5,26 42.5,26.3 48.6,27.3 48.6,32.5 42.5,31.5 36.5,31.2 30.4,31.9 24.3,33.1 18.2,34.4 12.2,35.1 6.1,35" fill="#DA2339"/><use href="#pc" class="o"/></g>
<g transform="translate(1181.7,1162.4)" opacity="0.72" clip-path="url(#c)"><polygon points="0,2.9 6.1,3.8 12.2,3.9 18.2,3.2 24.3,1.9 30.4,0.7 36.5,0 42.5,0.3 48.6,1.3 48.6,11.8 42.5,10.8 36.5,10.6 30.4,11.2 24.3,12.4 18.2,13.7 12.2,14.5 6.1,14.4 0,13.5" fill="#EA3A41"/><polygon points="0,13.3 6.1,14.2 12.2,14.3 18.2,13.6 24.3,12.3 30.4,11.1 36.5,10.4 42.5,10.7 48.6,11.7 48.6,22.2 42.5,21.2 36.5,21 30.4,21.6 24.3,22.8 18.2,24.1 12.2,24.9 6.1,24.8 0,23.9" fill="#FFFFFF"/><polygon points="0,34.1 0,23.7 6.1,24.6 12.2,24.7 18.2,24 24.3,22.7 30.4,21.5 36.5,20.8 42.5,21.1 48.6,22.1 48.6,32.5 42.5,31.5 36.5,31.2 30.4,31.9 24.3,33.1 18.2,34.4 12.2,35.1 6.1,35" fill="#1FA8E0"/><use href="#pc" class="o"/></g>
<g transform="translate(1118.3,1163.4)" opacity="0.72" clip-path="url(#d)"><polygon points="0,2.9 3.9,3.8 7.8,3.9 11.7,3.2 15.7,1.9 19.6,0.7 23.5,0 27.4,0.3 31.3,1.3 31.3,32.5 27.4,31.5 23.5,31.2 19.6,31.9 15.7,33.1 11.7,34.4 7.8,35.1 3.9,35 0,34.1" fill="#E8201E"/><polygon points="12.5,9.2 15.7,8.1 18.8,7.1 18.8,25.8 15.7,26.9 12.5,27.9" fill="#FFFFFF"/><polygon points="6.3,16.5 10,16.1 13.8,15 17.5,13.7 21.3,12.8 25,12.5 25,18.7 21.3,19 17.5,20 13.8,21.3 10,22.3 6.3,22.7" fill="#FFFFFF"/><use href="#pd" class="o"/></g>
<g transform="translate(909.7,1170.4)" opacity="0.72" clip-path="url(#c)"><polygon points="0,2.9 6.1,3.8 12.2,3.9 18.2,3.2 24.3,1.9 30.4,0.7 36.5,0 42.5,0.3 48.6,1.3 48.6,11.8 42.5,10.8 36.5,10.6 30.4,11.2 24.3,12.4 18.2,13.7 12.2,14.5 6.1,14.4 0,13.5" fill="#FFFFFF"/><polygon points="0,13.3 6.1,14.2 12.2,14.3 18.2,13.6 24.3,12.3 30.4,11.1 36.5,10.4 42.5,10.7 48.6,11.7 48.6,22.2 42.5,21.2 36.5,21 30.4,21.6 24.3,22.8 18.2,24.1 12.2,24.9 6.1,24.8 0,23.9" fill="#1F3FD0"/><polygon points="0,34.1 0,23.7 6.1,24.6 12.2,24.7 18.2,24 24.3,22.7 30.4,21.5 36.5,20.8 42.5,21.1 48.6,22.1 48.6,32.5 42.5,31.5 36.5,31.2 30.4,31.9 24.3,33.1 18.2,34.4 12.2,35.1 6.1,35" fill="#E8202E"/><polygon points="8.7,19.6 8.7,9.6 12.6,9.5 16.5,9.1 16.5,19.1 12.6,23.2" fill="#1F3FA0"/><polygon points="12.6,13.9 15.6,17.6 9.7,18" fill="#FFFFFF"/><use href="#pc" class="o"/></g>
<g transform="translate(1238.7,1170.9)" opacity="0.72" clip-path="url(#c)"><polygon points="0,2.9 5.3,3.8 10.6,4 15.9,3.5 15.9,34.7 10.6,35.2 5.3,35 0,34.1" fill="#2A2F9A"/><polygon points="15.7,3.6 21.5,2.5 27.3,1.2 33.1,0.3 33.1,31.5 27.3,32.4 21.5,33.7 15.7,34.8" fill="#FCD535"/><polygon points="32.9,0.3 38.1,0 43.4,0.4 48.6,1.3 48.6,32.5 43.4,31.6 38.1,31.2 32.9,31.5" fill="#D8213F"/><polygon points="19.4,12.9 24.3,11.9 29.2,10.9 29.2,23.3 24.3,24.4 19.4,25.4" fill="#C98A5A"/><use href="#pc" class="o"/></g>
<g transform="translate(1025.2,1184.4)" opacity="0.72" clip-path="url(#c)"><polygon points="0,2.9 6.1,3.8 12.2,3.9 18.2,3.2 24.3,1.9 30.4,0.7 36.5,0 42.5,0.3 48.6,1.3 48.6,11.8 42.5,10.8 36.5,10.6 30.4,11.2 24.3,12.4 18.2,13.7 12.2,14.5 6.1,14.4 0,13.5" fill="#E93E3E"/><polygon points="0,13.3 6.1,14.2 12.2,14.3 18.2,13.6 24.3,12.3 30.4,11.1 36.5,10.4 42.5,10.7 48.6,11.7 48.6,22.2 42.5,21.2 36.5,21 30.4,21.6 24.3,22.8 18.2,24.1 12.2,24.9 6.1,24.8 0,23.9" fill="#FFFFFF"/><polygon points="0,34.1 0,23.7 6.1,24.6 12.2,24.7 18.2,24 24.3,22.7 30.4,21.5 36.5,20.8 42.5,21.1 48.6,22.1 48.6,32.5 42.5,31.5 36.5,31.2 30.4,31.9 24.3,33.1 18.2,34.4 12.2,35.1 6.1,35" fill="#E93E3E"/><use href="#pc" class="o"/></g>
<g transform="translate(1055.7,1172.4)" opacity="0.72" clip-path="url(#c)"><polygon points="0,2.9 6.1,3.8 12.2,3.9 18.2,3.2 24.3,1.9 30.4,0.7 36.5,0 42.5,0.3 48.6,1.3 48.6,17 42.5,16 36.5,15.8 30.4,16.4 24.3,17.6 18.2,18.9 12.2,19.7 6.1,19.6 0,18.7" fill="#1F3F9A"/><polygon points="0,34.1 0,18.5 6.1,19.4 12.2,19.5 18.2,18.8 24.3,17.5 30.4,16.3 36.5,15.6 42.5,15.9 48.6,16.9 48.6,32.5 42.5,31.5 36.5,31.2 30.4,31.9 24.3,33.1 18.2,34.4 12.2,35.1 6.1,35" fill="#D8213F"/><polygon points="4.9,9.3 10.7,9.6 10.7,15.2 4.9,14.9" fill="#E8B020"/><use href="#pc" class="o"/></g>
<g transform="translate(877.7,1172.9)" opacity="0.72" clip-path="url(#c)"><polygon points="0,2.9 6.1,3.8 12.2,3.9 18.2,3.2 24.3,1.9 30.4,0.7 36.5,0 42.5,0.3 48.6,1.3 48.6,32.5 42.5,31.5 36.5,31.2 30.4,31.9 24.3,33.1 18.2,34.4 12.2,35.1 6.1,35 0,34.1" fill="#C9A84A"/><polygon points="1.5,4.6 7.2,5.3 12.9,5.3 18.6,4.5 24.3,3.3 30,2.1 35.7,1.5 41.4,1.6 47.1,2.4 47.1,30.8 41.4,29.9 35.7,29.9 30,30.5 24.3,31.7 18.6,32.9 12.9,33.7 7.2,33.7 1.5,33" fill="#D8213F"/><polygon points="34,10.2 32.1,16 28.2,18.5 29.2,22.7 24.3,26.2 19.4,24.8 20.4,20.2 16.5,19.1 14.6,13.7 18,13.8 21.4,13.8 20.4,12.1 22.4,9.8 24.3,11.3 26.2,9 28.2,10.4 27.2,12.5 30.6,11.2" fill="#D9B13A"/><polygon points="24.3,20.6 23.6,20.6 23,20.4 22.6,19.8 22.4,19.2 22.6,18.4 23,17.7 23.6,17.2 24.3,16.9 25,16.9 25.6,17.1 26,17.6 26.2,18.3 26,19.1 25.6,19.8 25,20.3" fill="#2A5FA8"/><use href="#pc" class="o"/></g>
<g transform="translate(795.7,1193.4)" opacity="0.72" clip-path="url(#c)"><polygon points="0,2.9 6.1,3.8 12.2,3.9 18.2,3.2 24.3,1.9 30.4,0.7 36.5,0 42.5,0.3 48.6,1.3 48.6,11.8 42.5,10.8 36.5,10.6 30.4,11.2 24.3,12.4 18.2,13.7 12.2,14.5 6.1,14.4 0,13.5" fill="#D8283C"/><polygon points="0,13.3 6.1,14.2 12.2,14.3 18.2,13.6 24.3,12.3 30.4,11.1 36.5,10.4 42.5,10.7 48.6,11.7 48.6,22.2 42.5,21.2 36.5,21 30.4,21.6 24.3,22.8 18.2,24.1 12.2,24.9 6.1,24.8 0,23.9" fill="#26358A"/><polygon points="0,34.1 0,23.7 6.1,24.6 12.2,24.7 18.2,24 24.3,22.7 30.4,21.5 36.5,20.8 42.5,21.1 48.6,22.1 48.6,32.5 42.5,31.5 36.5,31.2 30.4,31.9 24.3,33.1 18.2,34.4 12.2,35.1 6.1,35" fill="#26358A"/><use href="#pc" class="o"/></g>
<g transform="translate(820.7,1197.4)" opacity="0.72" clip-path="url(#c)"><polygon points="0,2.9 6.1,3.8 12.2,3.9 18.2,3.2 24.3,1.9 30.4,0.7 36.5,0 42.5,0.3 48.6,1.3 48.6,32.5 42.5,31.5 36.5,31.2 30.4,31.9 24.3,33.1 18.2,34.4 12.2,35.1 6.1,35 0,34.1" fill="#F5D520"/><polygon points="0,5.5 0,12.8 6.1,15.9 12.2,18.1 18.2,19.5 24.3,20.4 30.4,21.3 36.5,22.8 42.5,25.2 48.6,28.3 48.6,21 42.5,17.9 36.5,15.5 30.4,14 24.3,13.1 18.2,12.2 12.2,10.8 6.1,8.6" fill="#FFFFFF"/><polygon points="0,11.5 0,18.1 5.7,21 11.4,23.1 17,24.6 22.7,25.4 28.4,26.2 34.1,27.4 39.7,29.2 45.4,31.9 48.6,32.5 48.6,27 42.5,23.8 36.5,21.4 30.4,19.9 24.3,19 18.2,18.1 12.2,16.8 6.1,14.5" fill="#1E1E1E"/><polygon points="24.3,21.9 22.6,21.9 21.2,21.3 20.3,20 19.9,18.4 20.3,16.7 21.2,15.1 22.6,13.8 24.3,13.1 26,13.1 27.4,13.7 28.3,15 28.7,16.6 28.3,18.3 27.4,19.9 26,21.2" fill="#C82030"/><use href="#pc" class="o"/></g>
<g transform="translate(814.7,1179.4)" opacity="0.72" clip-path="url(#c)"><polygon points="0,2.9 6.1,3.8 12.2,3.9 18.2,3.2 24.3,1.9 30.4,0.7 36.5,0 42.5,0.3 48.6,1.3 48.6,32.5 42.5,31.5 36.5,31.2 30.4,31.9 24.3,33.1 18.2,34.4 12.2,35.1 6.1,35 0,34.1" fill="#26307A"/><polygon points="24.3,17.5 24.3,15.6 18.9,13.3 13.6,10.7 8.2,7.4 2.9,3.4 0,2.9 0,4.8 5.4,9.1 10.7,12.7 16.1,15.7 21.4,18.1" fill="#FFFFFF"/><polygon points="24.3,3.7 24.3,1.9 21.4,2.5 16.1,7 10.7,10.9 5.4,14.1 0,16.7 0,18.5 2.9,19 8.2,16.1 13.6,12.5 18.9,8.3" fill="#FFFFFF"/><polygon points="24.3,17.5 24.3,16.8 18.5,14.3 12.7,11.3 6.9,7.6 1.2,3.2 0,2.9 0,3.7 5.8,8.3 11.6,12.1 17.4,15.2 23.1,17.7" fill="#DA2339"/><polygon points="24.3,2.6 24.3,1.9 23.1,2.1 17.4,7 11.6,11.4 5.8,15 0,17.8 0,18.5 1.2,18.8 6.9,15.8 12.7,12.1 18.5,7.6" fill="#DA2339"/><polygon points="10.2,4 14.1,3.8 14.1,19.4 10.2,19.6" fill="#FFFFFF"/><polygon points="0,8.9 6.1,9.8 12.2,9.9 18.2,9.1 24.3,7.8 24.3,11.6 18.2,12.8 12.2,13.6 6.1,13.5 0,12.6" fill="#FFFFFF"/><polygon points="10.9,4 13.4,3.8 13.4,19.4 10.9,19.6" fill="#DA2339"/><polygon points="0,9.5 6.1,10.4 12.2,10.5 18.2,9.7 24.3,8.4 24.3,10.9 18.2,12.2 12.2,13 6.1,12.9 0,12" fill="#DA2339"/><polygon points="37.6,7.8 36.5,7 35.3,7.8 35.7,6.5 34.7,5.8 36,5.7 36.5,4.4 36.9,5.6 38.2,5.7 37.2,6.5" fill="#E0403A"/><polygon points="31.2,16.1 30.1,15.5 29,16.5 29.4,15.1 28.4,14.5 29.7,14.2 30.1,12.9 30.6,14.1 31.9,13.9 30.8,14.9" fill="#E0403A"/><polygon points="43.4,14.4 42.3,13.5 41.2,14.1 41.6,12.9 40.5,12 41.8,12.1 42.3,10.8 42.7,12.2 44.1,12.4 43,13" fill="#E0403A"/><polygon points="37.7,26.7 36.5,25.9 35.2,26.8 35.6,25.3 34.4,24.4 35.9,24.3 36.5,22.8 37,24.3 38.5,24.3 37.3,25.2" fill="#E0403A"/><use href="#pc" class="o"/></g>
<g transform="translate(678.7,1187.9)" opacity="0.72" clip-path="url(#c)"><polygon points="0,2.9 6.1,3.8 12.2,3.9 18.2,3.2 24.3,1.9 30.4,0.7 36.5,0 42.5,0.3 48.6,1.3 48.6,9.2 42.5,8.2 36.5,8 30.4,8.6 24.3,9.8 18.2,11.1 12.2,11.9 6.1,11.8 0,10.9" fill="#E8303A"/><polygon points="0,10.7 6.1,11.6 12.2,11.7 18.2,11 24.3,9.7 30.4,8.5 36.5,7.8 42.5,8.1 48.6,9.1 48.6,24.8 42.5,23.8 36.5,23.6 30.4,24.2 24.3,25.4 18.2,26.7 12.2,27.5 6.1,27.4 0,26.5" fill="#FFFFFF"/><polygon points="0,34.1 0,26.3 6.1,27.2 12.2,27.3 18.2,26.6 24.3,25.3 30.4,24.1 36.5,23.4 42.5,23.7 48.6,24.7 48.6,32.5 42.5,31.5 36.5,31.2 30.4,31.9 24.3,33.1 18.2,34.4 12.2,35.1 6.1,35" fill="#E8303A"/><polygon points="30.1,21.9 24.3,23.1 18.5,24.3 24.3,10.6" fill="#0E8A3A"/><use href="#pc" class="o"/></g>
<g transform="translate(1167.7,1189.9)" opacity="0.72" clip-path="url(#c)"><polygon points="0,2.9 6.1,3.8 12.2,3.9 18.2,3.2 24.3,1.9 30.4,0.7 36.5,0 42.5,0.3 48.6,1.3 48.6,32.5 42.5,31.5 36.5,31.2 30.4,31.9 24.3,33.1 18.2,34.4 12.2,35.1 6.1,35 0,34.1" fill="#1F3F9A"/><polygon points="12.2,3.9 17,3.4 21.9,2.4 21.9,33.6 17,34.6 12.2,35.1" fill="#FFFFFF"/><polygon points="0,14.2 6.1,15.1 12.2,15.2 18.2,14.4 24.3,13.1 30.4,11.9 36.5,11.3 42.5,11.5 48.6,12.5 48.6,21.2 42.5,20.2 36.5,20 30.4,20.6 24.3,21.9 18.2,23.1 12.2,23.9 6.1,23.8 0,22.9" fill="#FFFFFF"/><polygon points="14.6,3.7 19.4,2.9 19.4,34.1 14.6,34.9" fill="#DA2339"/><polygon points="0,16.4 6.1,17.3 12.2,17.3 18.2,16.6 24.3,15.3 30.4,14.1 36.5,13.4 42.5,13.7 48.6,14.7 48.6,19 42.5,18 36.5,17.8 30.4,18.4 24.3,19.7 18.2,21 12.2,21.7 6.1,21.6 0,20.7" fill="#DA2339"/><use href="#pc" class="o"/></g>
<g transform="translate(291.7,1197.4)" opacity="0.72" clip-path="url(#c)"><polygon points="16,3.5 21.5,2.5 26.9,1.3 32.3,0.4 37.7,0 43.2,0.3 48.6,1.3 48.6,17 43.2,16.1 37.7,15.7 32.3,16.1 26.9,17.1 21.5,18.2 16,19.2" fill="#F0403A"/><polygon points="16,34.7 16,19.1 21.5,18.1 26.9,16.9 32.3,16 37.7,15.6 43.2,15.9 48.6,16.9 48.6,32.5 43.2,31.5 37.7,31.2 32.3,31.6 26.9,32.5 21.5,33.7" fill="#0E8A4A"/><polygon points="0,2.9 5.3,3.8 10.7,4 16,3.5 16,34.7 10.7,35.2 5.3,35 0,34.1" fill="#FFFFFF"/><use href="#pc" class="o"/></g>
<g transform="translate(654.2,1209.4)" opacity="0.72" clip-path="url(#c)"><polygon points="0,2.9 6.1,3.8 12.2,3.9 18.2,3.2 24.3,1.9 30.4,0.7 36.5,0 42.5,0.3 48.6,1.3 48.6,32.5 42.5,31.5 36.5,31.2 30.4,31.9 24.3,33.1 18.2,34.4 12.2,35.1 6.1,35 0,34.1" fill="#5FC8F0"/><polygon points="36,28.1 30.1,28.8 24.3,30 18.5,31.2 12.6,32 18.5,18.7 24.3,5 30.1,16.3" fill="#FFFFFF"/><polygon points="34,28.3 29.2,29 24.3,30 19.4,31 14.6,31.8 19.4,20.4 24.3,8.8 29.2,18.3" fill="#1E1E1E"/><polygon points="36.9,28.1 31.9,28.5 26.8,29.4 21.8,30.5 16.7,31.5 11.7,32 15.9,27.5 20.1,22.6 24.3,17.5 28.5,20.8 32.7,24.2" fill="#FCD535"/><use href="#pc" class="o"/></g>
<g transform="translate(654.7,1197.4)" opacity="0.72" clip-path="url(#c)"><polygon points="0,2.9 6.1,3.8 12.2,3.9 18.2,3.2 24.3,1.9 30.4,0.7 36.5,0 42.5,0.3 48.6,1.3 48.6,32.5 42.5,31.5 36.5,31.2 30.4,31.9 24.3,33.1 18.2,34.4 12.2,35.1 6.1,35 0,34.1" fill="#D8213F"/><polygon points="10.4,4 5.2,3.8 0,2.9 0,9.6 5.5,14 10.9,17.7 16.4,20.7 21.8,23.1 27.3,25.4 32.7,28 38.2,31.2 43.4,31.6 48.6,32.5 48.6,25.8 43.1,21.4 37.7,17.5 32.2,14.4 26.8,11.9 21.3,9.6 15.9,7.1" fill="#FFFFFF"/><polygon points="7.5,3.9 3.8,3.6 0,2.9 0,7.8 5.9,12.4 11.7,16.3 17.6,19.4 23.5,22 29.4,24.5 35.2,27.5 41.1,31.3 44.8,31.8 48.6,32.5 48.6,27.6 42.7,22.9 36.9,18.9 31,15.6 25.1,13 19.2,10.5 13.4,7.6" fill="#1E1E1E"/><use href="#pc" class="o"/></g>
<g transform="translate(777.7,1209.4)" opacity="0.72" clip-path="url(#c)"><polygon points="0,2.9 6.1,3.8 12.2,3.9 18.2,3.2 24.3,1.9 30.4,0.7 36.5,0 42.5,0.3 48.6,1.3 48.6,32.5 42.5,31.5 36.5,31.2 30.4,31.9 24.3,33.1 18.2,34.4 12.2,35.1 6.1,35 0,34.1" fill="#0E8A3A"/><polygon points="19.6,2.9 24.3,1.9 29,0.9 29,32.1 24.3,33.1 19.6,34.1" fill="#FCD535"/><polygon points="0,13.9 6.1,14.8 12.2,14.8 18.2,14.1 24.3,12.8 30.4,11.6 36.5,10.9 42.5,11.2 48.6,12.2 48.6,21.5 42.5,20.5 36.5,20.3 30.4,20.9 24.3,22.2 18.2,23.4 12.2,24.2 6.1,24.1 0,23.2" fill="#FCD535"/><polygon points="21.2,2.6 27.4,1.2 27.4,32.4 21.2,33.8" fill="#1E1E1E"/><polygon points="0,15.4 6.1,16.3 12.2,16.4 18.2,15.6 24.3,14.4 30.4,13.1 36.5,12.5 42.5,12.7 48.6,13.7 48.6,20 42.5,19 36.5,18.7 30.4,19.4 24.3,20.6 18.2,21.9 12.2,22.6 6.1,22.6 0,21.7" fill="#1E1E1E"/><polygon points="22.7,2.2 25.9,1.5 25.9,32.7 22.7,33.4" fill="#FFFFFF"/><polygon points="0,17 6.1,17.9 12.2,18 18.2,17.2 24.3,15.9 30.4,14.7 36.5,14.1 42.5,14.3 48.6,15.3 48.6,18.4 42.5,17.4 36.5,17.2 30.4,17.8 24.3,19.1 18.2,20.3 12.2,21.1 6.1,21 0,20.1" fill="#FFFFFF"/><polygon points="24.3,23.7 21.9,23.8 19.9,22.9 18.5,21.1 18.1,18.8 18.5,16.3 19.9,14 21.9,12.3 24.3,11.3 26.7,11.2 28.7,12.1 30.1,13.9 30.5,16.2 30.1,18.7 28.7,21 26.7,22.7" fill="#D8213F"/><use href="#pc" class="o"/></g>
<g transform="translate(799.7,1208.9)" opacity="0.72" clip-path="url(#c)"><polygon points="0,2.9 6.1,3.8 12.2,3.9 18.2,3.2 24.3,1.9 30.4,0.7 36.5,0 42.5,0.3 48.6,1.3 48.6,12.4 42.5,11.4 36.5,11.2 30.4,11.8 24.3,13 18.2,14.3 12.2,15.1 6.1,15 0,14.1" fill="#1F9A3A"/><polygon points="0,13.9 6.1,14.8 12.2,14.9 18.2,14.2 24.3,12.9 30.4,11.7 36.5,11 42.5,11.3 48.6,12.3 48.6,23.4 42.5,22.4 36.5,22.2 30.4,22.8 24.3,24 18.2,25.3 12.2,26.1 6.1,26 0,25.1" fill="#E8D020"/><polygon points="0,34.1 0,25 6.1,25.9 12.2,26 18.2,25.2 24.3,23.9 30.4,22.7 36.5,22 42.5,22.3 48.6,23.3 48.6,32.5 42.5,31.5 36.5,31.2 30.4,31.9 24.3,33.1 18.2,34.4 12.2,35.1 6.1,35" fill="#1F3F9A"/><use href="#pc" class="o"/></g>
<g transform="translate(769.7,1202.4)" opacity="0.72" clip-path="url(#c)"><polygon points="0,2.9 6.1,3.8 12.2,3.9 18.2,3.2 24.3,1.9 30.4,0.7 36.5,0 42.5,0.3 48.6,1.3 48.6,32.5 42.5,31.5 36.5,31.2 30.4,31.9 24.3,33.1 18.2,34.4 12.2,35.1 6.1,35 0,34.1" fill="#FFFFFF"/><polygon points="26.6,24.1 24.3,25 22,25.1 19.9,24.5 18.2,23.2 17.2,21.3 16.8,19 17.2,16.6 18.2,14.4 19.9,12.4 22,10.9 24.3,10 26.6,9.9 28.7,10.5 30.4,11.9 31.4,13.8 31.8,16 31.4,18.4 30.4,20.7 28.7,22.6" fill="#2A4FA8"/><polygon points="26,9.8 28.2,10.3 30,11.5 31.2,13.3 31.8,15.5 31.6,17.8 30.7,20.1 26.4,18.3 22.2,16.7 17.9,14.9 19.4,12.8 21.4,11.2 23.7,10.2" fill="#D8303A"/><polygon points="19.2,19.9 17.9,18.7 17.4,17 17.9,15 19.2,13.4 21.1,12.5 23,12.6 24.4,13.7 24.9,15.4 24.4,17.4 23,19.1 21.1,20" fill="#D8303A"/><polygon points="25.6,22.4 24.2,21.3 23.7,19.6 24.2,17.6 25.6,15.9 27.5,15 29.4,15.2 30.7,16.3 31.2,18.1 30.7,20 29.4,21.6 27.5,22.5" fill="#2A4FA8"/><polygon points="8.3,13.3 13.6,7.6 16.5,9.1 11.2,15.2" fill="#1E1E1E"/><polygon points="35,3.8 40.3,9.4 37.4,11.2 32.1,6" fill="#1E1E1E"/><polygon points="8.3,25.8 13.6,31.3 16.5,29 11.2,23.9" fill="#1E1E1E"/><polygon points="35,27.6 40.3,21.9 37.4,20 32.1,26" fill="#1E1E1E"/><use href="#pc" class="o"/></g>
<g transform="translate(1070.7,1208.9)" opacity="0.72" clip-path="url(#c)"><polygon points="0,2.9 6.1,3.8 12.2,3.9 18.2,3.2 24.3,1.9 30.4,0.7 36.5,0 42.5,0.3 48.6,1.3 48.6,17 42.5,16 36.5,15.8 30.4,16.4 24.3,17.6 18.2,18.9 12.2,19.7 6.1,19.6 0,18.7" fill="#D0203C"/><polygon points="0,34.1 0,18.5 6.1,19.4 12.2,19.5 18.2,18.8 24.3,17.5 30.4,16.3 36.5,15.6 42.5,15.9 48.6,16.9 48.6,32.5 42.5,31.5 36.5,31.2 30.4,31.9 24.3,33.1 18.2,34.4 12.2,35.1 6.1,35" fill="#FFFFFF"/><use href="#pc" class="o"/></g>
<g transform="translate(74.7,1208.9)" opacity="0.72" clip-path="url(#c)"><polygon points="0,2.9 6.1,3.8 12.2,3.9 18.2,3.2 24.3,1.9 30.4,0.7 36.5,0 42.5,0.3 48.6,1.3 48.6,10.7 42.5,9.7 36.5,9.5 30.4,10.1 24.3,11.4 18.2,12.7 12.2,13.4 6.1,13.3 0,12.4" fill="#1E1E1E"/><polygon points="0,12.3 6.1,13.2 12.2,13.3 18.2,12.5 24.3,11.3 30.4,10 36.5,9.4 42.5,9.6 48.6,10.6 48.6,12.3 42.5,11.3 36.5,11.1 30.4,11.7 24.3,12.9 18.2,14.2 12.2,15 6.1,14.9 0,14" fill="#FFFFFF"/><polygon points="0,13.9 6.1,14.8 12.2,14.8 18.2,14.1 24.3,12.8 30.4,11.6 36.5,10.9 42.5,11.2 48.6,12.2 48.6,21.7 42.5,20.7 36.5,20.4 30.4,21.1 24.3,22.3 18.2,23.6 12.2,24.3 6.1,24.2 0,23.3" fill="#D8213F"/><polygon points="0,23.2 6.1,24.1 12.2,24.2 18.2,23.4 24.3,22.2 30.4,20.9 36.5,20.3 42.5,20.5 48.6,21.5 48.6,23.2 42.5,22.2 36.5,22 30.4,22.6 24.3,23.9 18.2,25.1 12.2,25.9 6.1,25.8 0,24.9" fill="#FFFFFF"/><polygon points="0,34.1 0,24.8 6.1,25.7 12.2,25.8 18.2,25 24.3,23.7 30.4,22.5 36.5,21.9 42.5,22.1 48.6,23.1 48.6,32.5 42.5,31.5 36.5,31.2 30.4,31.9 24.3,33.1 18.2,34.4 12.2,35.1 6.1,35" fill="#0E8A3A"/><polygon points="19.4,18.5 14.6,23.2 9.7,27.4 4.9,31 0,34.1 0,2.9 4.9,7.6 9.7,11.8 14.6,15.4" fill="#1F72C8"/><polygon points="8.2,22.1 6.3,20.7 4.5,21.8 5.1,19.7 3.4,18.2 5.6,18.4 6.3,16.3 7.1,18.5 9.3,18.6 7.5,19.9" fill="#FCD535"/><use href="#pc" class="o"/></g>
<g transform="translate(74.7,1208.9)" opacity="0.72" clip-path="url(#c)"><polygon points="0,2.9 6.1,3.8 12.2,3.9 18.2,3.2 24.3,1.9 30.4,0.7 36.5,0 42.5,0.3 48.6,1.3 48.6,11.8 42.5,10.8 36.5,10.6 30.4,11.2 24.3,12.4 18.2,13.7 12.2,14.5 6.1,14.4 0,13.5" fill="#D8213F"/><polygon points="0,13.3 6.1,14.2 12.2,14.3 18.2,13.6 24.3,12.3 30.4,11.1 36.5,10.4 42.5,10.7 48.6,11.7 48.6,22.2 42.5,21.2 36.5,21 30.4,21.6 24.3,22.8 18.2,24.1 12.2,24.9 6.1,24.8 0,23.9" fill="#FFFFFF"/><polygon points="0,34.1 0,23.7 6.1,24.6 12.2,24.7 18.2,24 24.3,22.7 30.4,21.5 36.5,20.8 42.5,21.1 48.6,22.1 48.6,32.5 42.5,31.5 36.5,31.2 30.4,31.9 24.3,33.1 18.2,34.4 12.2,35.1 6.1,35" fill="#1E1E1E"/><use href="#pc" class="o"/></g>
<g transform="translate(195.7,1209.4)" opacity="0.72" clip-path="url(#c)"><polygon points="0,2.9 5.5,3.8 10.9,4 16.4,3.5 16.4,34.7 10.9,35.2 5.5,35 0,34.1" fill="#1F2F80"/><polygon points="16.2,3.5 21.7,2.5 27.1,1.3 32.6,0.3 32.6,31.5 27.1,32.5 21.7,33.7 16.2,34.7" fill="#FCD535"/><polygon points="32.4,0.4 37.8,0 43.2,0.3 48.6,1.3 48.6,32.5 43.2,31.5 37.8,31.2 32.4,31.6" fill="#D8213F"/><use href="#pc" class="o"/></g>
<g transform="translate(160.7,1208.4)" opacity="0.72" clip-path="url(#c)"><polygon points="0,2.9 6.1,3.8 12.2,3.9 18.2,3.2 24.3,1.9 30.4,0.7 36.5,0 42.5,0.3 48.6,1.3 48.6,32.5 42.5,31.5 36.5,31.2 30.4,31.9 24.3,33.1 18.2,34.4 12.2,35.1 6.1,35 0,34.1" fill="#0EA04A"/><polygon points="0,2.9 6.1,3.8 12.2,3.9 18.2,3.2 24.3,1.9 30.4,0.7 36.5,0 42.5,0.3 48.6,1.3 48.6,5.9 42.5,4.9 36.5,4.7 30.4,5.3 24.3,6.6 18.2,7.8 12.2,8.6 6.1,8.5 0,7.6" fill="#D8213F"/><polygon points="0,29.5 6.1,30.4 12.2,30.4 18.2,29.7 24.3,28.4 30.4,27.2 36.5,26.5 42.5,26.8 48.6,27.8 48.6,32.5 42.5,31.5 36.5,31.2 30.4,31.9 24.3,33.1 18.2,34.4 12.2,35.1 6.1,35 0,34.1" fill="#D8213F"/><polygon points="24.3,25.3 20.7,25.4 17.7,23.9 15.7,21.2 14.9,17.7 15.7,14 17.7,10.7 20.7,8.1 24.3,6.6 27.9,6.5 30.9,8 32.9,10.8 33.7,14.3 32.9,17.9 30.9,21.2 27.9,23.8" fill="#FCD535"/><polygon points="24.3,21.9 21.2,21.9 18.6,20.7 16.8,18.4 16.2,15.4 16.8,12.2 18.6,9.2 21.2,6.9 24.3,5.6 27.4,5.6 30,6.8 31.8,9.2 32.4,12.2 31.8,15.4 30,18.3 27.4,20.6" fill="#0EA04A"/><polygon points="25.8,14.8 24.3,14.1 22.8,15.5 23.4,13.6 21.9,12.9 23.7,12.4 24.3,10.6 24.9,12.2 26.7,11.8 25.2,13.2" fill="#FCD535"/><use href="#pc" class="o"/></g>
<g transform="translate(229.3,1209.4)" opacity="0.72" clip-path="url(#c)"><polygon points="0,2.9 6.1,3.8 12.2,3.9 18.2,3.2 24.3,1.9 30.4,0.7 36.5,0 42.5,0.3 48.6,1.3 48.6,9.2 42.5,8.2 36.5,8 30.4,8.6 24.3,9.8 18.2,11.1 12.2,11.9 6.1,11.8 0,10.9" fill="#D8213F"/><polygon points="0,10.7 6.1,11.6 12.2,11.7 18.2,11 24.3,9.7 30.4,8.5 36.5,7.8 42.5,8.1 48.6,9.1 48.6,24.8 42.5,23.8 36.5,23.6 30.4,24.2 24.3,25.4 18.2,26.7 12.2,27.5 6.1,27.4 0,26.5" fill="#1F2F90"/><polygon points="0,34.1 0,26.3 6.1,27.2 12.2,27.3 18.2,26.6 24.3,25.3 30.4,24.1 36.5,23.4 42.5,23.7 48.6,24.7 48.6,32.5 42.5,31.5 36.5,31.2 30.4,31.9 24.3,33.1 18.2,34.4 12.2,35.1 6.1,35" fill="#D8213F"/><polygon points="24.3,23.7 21.9,23.8 19.9,22.9 18.5,21.1 18.1,18.8 18.5,16.3 19.9,14 21.9,12.3 24.3,11.3 26.7,11.2 28.7,12.1 30.1,13.9 30.5,16.2 30.1,18.7 28.7,21 26.7,22.7" fill="#FFFFFF"/><use href="#pc" class="o"/></g>
<g transform="translate(234.4,1208.9)" opacity="0.72" clip-path="url(#c)"><polygon points="0,2.9 6.1,3.8 12.2,3.9 18.2,3.2 24.3,1.9 30.4,0.7 36.5,0 42.5,0.3 48.6,1.3 48.6,32.5 42.5,31.5 36.5,31.2 30.4,31.9 24.3,33.1 18.2,34.4 12.2,35.1 6.1,35 0,34.1" fill="#DA2030"/><polygon points="30.9,25.3 27.6,23.6 24.3,22 21,25 17.7,27.9 20,19.8 16.8,18 13.6,15.9 17.6,15.3 21.7,14.4 24.3,6.3 26.9,13.3 31,12.6 35,12.2 31.8,15 28.6,18" fill="#FCD535"/><use href="#pc" class="o"/></g>
<g transform="translate(355.7,1208.4)" opacity="0.72" clip-path="url(#c)"><polygon points="0,2.9 6.1,3.8 12.2,3.9 18.2,3.2 24.3,1.9 30.4,0.7 36.5,0 42.5,0.3 48.6,1.3 48.6,9.2 42.5,8.2 36.5,8 30.4,8.6 24.3,9.8 18.2,11.1 12.2,11.9 6.1,11.8 0,10.9" fill="#1F2FA0"/><polygon points="0,10.7 6.1,11.6 12.2,11.7 18.2,11 24.3,9.7 30.4,8.5 36.5,7.8 42.5,8.1 48.6,9.1 48.6,24.8 42.5,23.8 36.5,23.6 30.4,24.2 24.3,25.4 18.2,26.7 12.2,27.5 6.1,27.4 0,26.5" fill="#E0232E"/><polygon points="0,34.1 0,26.3 6.1,27.2 12.2,27.3 18.2,26.6 24.3,25.3 30.4,24.1 36.5,23.4 42.5,23.7 48.6,24.7 48.6,32.5 42.5,31.5 36.5,31.2 30.4,31.9 24.3,33.1 18.2,34.4 12.2,35.1 6.1,35" fill="#1F2FA0"/><polygon points="22.8,17.8 23.8,11.4 24.8,11.1 25.8,17.2 27.2,12.5 28.2,16.7 31.6,16.1 31.6,21.7 26.7,22.6 21.9,23.6 17,24.6 17,19 20.4,18.3 21.4,13.8" fill="#FFFFFF"/><use href="#pc" class="o"/></g>
<g transform="translate(337.7,1209.4)" opacity="0.72" clip-path="url(#c)"><polygon points="48.6,1.3 42.5,4.2 36.5,7.8 30.4,12.4 24.3,17.5 18.2,22.7 12.2,27.3 6.1,31.1 0,34.1 0,2.9 6.1,3.8 12.2,3.9 18.2,3.2 24.3,1.9 30.4,0.7 36.5,0 42.5,0.3" fill="#1F3F9A"/><polygon points="48.6,32.5 42.5,31.5 36.5,31.2 30.4,31.9 24.3,33.1 18.2,34.4 12.2,35.1 6.1,35 0,34.1 6.1,31.1 12.2,27.3 18.2,22.7 24.3,17.5 30.4,12.4 36.5,7.8 42.5,4.2 48.6,1.3" fill="#0E8A4A"/><polygon points="36.5,0 30.4,4.6 24.3,9.7 18.2,14.9 12.2,19.5 6.1,23.3 0,26.4 0,34.1 6.1,35 12.1,35.1 18.2,30.5 24.3,25.3 30.4,20.2 36.4,15.6 42.5,11.9 48.6,9 48.6,1.3 42.5,0.3" fill="#FFFFFF"/><polygon points="39.4,0 33.7,3.8 28.1,8.3 22.5,13.1 16.9,17.8 11.2,22 5.6,25.5 0,28.2 0,34.1 4.6,34.9 9.2,35.2 14.9,31.3 20.5,26.7 26.1,21.9 31.7,17.2 37.4,13.2 43,9.9 48.6,7.2 48.6,1.3 44,0.4" fill="#D8213F"/><polygon points="12,10.2 10.8,11.7 12.6,12.3 10.8,13.1 12,14.5 10.1,14.3 10.4,16.2 8.9,14.9 8.3,16.8 7.6,14.9 6.1,16 6.4,14.1 4.5,14.3 5.7,12.9 3.9,12 5.7,11.6 4.5,9.9 6.4,10.4 6.1,8.5 7.6,9.8 8.3,8 8.9,9.9 10.4,8.6 10.1,10.6" fill="#FCD535"/><use href="#pc" class="o"/></g>
<g transform="translate(405.7,1208.4)" opacity="0.72" clip-path="url(#c)"><polygon points="48.6,1.3 48.6,16.9 42.5,13.9 36.5,11.7 30.4,10.4 24.3,9.7 18.2,9 12.2,7.8 6.1,5.8 0,2.9 6.1,3.8 12.2,3.9 18.2,3.2 24.3,1.9 30.4,0.7 36.5,0 42.5,0.3" fill="#2FA04A"/><polygon points="48.6,32.5 48.6,16.9 42.5,17.8 36.5,19.5 30.4,22.1 24.3,25.3 18.2,28.5 12.2,31.2 6.1,33.1 0,34.1 6.1,35 12.2,35.1 18.2,34.4 24.3,33.1 30.4,31.9 36.5,31.2 42.5,31.5" fill="#3F8AE0"/><polygon points="48.6,16.9 42.5,17.8 36.5,19.5 30.4,22.1 24.3,25.3 18.2,28.5 12.2,31.2 6.1,33.1 0,34.1 0,2.9 6.1,5.8 12.2,7.8 18.2,9 24.3,9.7 30.4,10.4 36.5,11.7 42.5,13.9" fill="#E0283C"/><polygon points="13.6,23.8 11.9,23.6 10.5,22.7 9.6,21.3 9.2,19.6 9.6,17.9 10.5,16.5 11.9,15.5 13.6,15 15.3,15.2 16.7,15.9 17.6,17.2 18,18.8 17.6,20.5 16.7,22.1 15.3,23.3" fill="#E8B020"/><polygon points="13.6,22.5 12.4,22.4 11.4,21.8 10.7,20.8 10.5,19.6 10.7,18.4 11.4,17.4 12.4,16.6 13.6,16.3 14.8,16.4 15.8,16.9 16.5,17.9 16.7,19 16.5,20.3 15.8,21.4 14.8,22.2" fill="#E0283C"/><use href="#pc" class="o"/></g>
<g transform="translate(394.7,1208.9)" opacity="0.72" clip-path="url(#c)"><polygon points="0,2.9 6.1,3.8 12.2,3.9 18.2,3.2 24.3,1.9 30.4,0.7 36.5,0 42.5,0.3 48.6,1.3 48.6,11.8 42.5,10.8 36.5,10.6 30.4,11.2 24.3,12.4 18.2,13.7 12.2,14.5 6.1,14.4 0,13.5" fill="#1E1E1E"/><polygon points="0,13.3 6.1,14.2 12.2,14.3 18.2,13.6 24.3,12.3 30.4,11.1 36.5,10.4 42.5,10.7 48.6,11.7 48.6,22.2 42.5,21.2 36.5,21 30.4,21.6 24.3,22.8 18.2,24.1 12.2,24.9 6.1,24.8 0,23.9" fill="#FFFFFF"/><polygon points="0,34.1 0,23.7 6.1,24.6 12.2,24.7 18.2,24 24.3,22.7 30.4,21.5 36.5,20.8 42.5,21.1 48.6,22.1 48.6,32.5 42.5,31.5 36.5,31.2 30.4,31.9 24.3,33.1 18.2,34.4 12.2,35.1 6.1,35" fill="#0E8A3A"/><polygon points="16,19.1 10.7,24.8 5.3,29.8 0,34.1 0,2.9 5.3,9 10.7,14.4" fill="#D8213F"/><polygon points="25.3,21.3 23.7,21.4 22.4,20.8 21.5,19.7 21.2,18.2 21.5,16.6 22.4,15 23.7,13.9 25.3,13.2 26.8,13.2 28.1,13.8 29,15 29.3,16.4 29,18.1 28.1,19.5 26.8,20.7" fill="#D8213F"/><polygon points="26.9,20.2 25.7,20.2 24.6,19.7 23.9,18.8 23.6,17.6 23.9,16.3 24.6,15.1 25.7,14.2 26.9,13.7 28.1,13.7 29.2,14.2 29.9,15.1 30.1,16.3 29.9,17.6 29.2,18.8 28.1,19.7" fill="#FFFFFF"/><polygon points="30.3,17.8 29.2,17.2 28.1,18.2 28.4,16.8 27.4,16.2 28.7,16 29.2,14.6 29.6,15.8 30.9,15.6 29.9,16.6" fill="#D8213F"/><use href="#pc" class="o"/></g>
<g transform="translate(468.7,1208.4)" opacity="0.72" clip-path="url(#c)"><polygon points="0,2.9 6.1,3.8 12.2,3.9 18.2,3.2 24.3,1.9 30.4,0.7 36.5,0 42.5,0.3 48.6,1.3 48.6,10.3 42.5,9.3 36.5,9.1 30.4,9.7 24.3,10.9 18.2,12.2 12.2,13 6.1,12.9 0,12" fill="#1FA03A"/><polygon points="0,11.9 6.1,12.8 12.2,12.8 18.2,12.1 24.3,10.8 30.4,9.6 36.5,8.9 42.5,9.2 48.6,10.2 48.6,23.7 42.5,22.7 36.5,22.4 30.4,23.1 24.3,24.3 18.2,25.6 12.2,26.3 6.1,26.2 0,25.3" fill="#FCD535"/><polygon points="0,34.1 0,25.2 6.1,26.1 12.2,26.2 18.2,25.5 24.3,24.2 30.4,23 36.5,22.3 42.5,22.5 48.6,23.5 48.6,32.5 42.5,31.5 36.5,31.2 30.4,31.9 24.3,33.1 18.2,34.4 12.2,35.1 6.1,35" fill="#1FA03A"/><polygon points="12.6,19.5 8.4,24.8 4.2,29.6 0,34.1 0,2.9 4.2,8.8 8.4,14.4" fill="#D8213F"/><polygon points="26,19.4 24.3,18.6 22.6,20.1 23.2,18.1 21.6,17.2 23.6,16.7 24.3,14.7 25,16.4 27,16 25.4,17.6" fill="#1E1E1E"/><polygon points="37.1,17.9 35.5,16.8 33.8,18.1 34.4,16.1 32.8,15 34.8,14.8 35.5,12.9 36.1,14.7 38.1,14.7 36.5,16" fill="#1E1E1E"/><use href="#pc" class="o"/></g>
<g transform="translate(460.7,1208.9)" opacity="0.72" clip-path="url(#c)"><polygon points="0,2.9 6.1,3.8 12.2,3.9 18.2,3.2 24.3,1.9 30.4,0.7 36.5,0 42.5,0.3 48.6,1.3 48.6,7.6 42.5,6.6 36.5,6.4 30.4,7 24.3,8.3 18.2,9.5 12.2,10.3 6.1,10.2 0,9.3" fill="#2F8A3F"/><polygon points="0,9.2 6.1,10.1 12.2,10.2 18.2,9.4 24.3,8.1 30.4,6.9 36.5,6.3 42.5,6.5 48.6,7.5 48.6,10.7 42.5,9.7 36.5,9.5 30.4,10.1 24.3,11.4 18.2,12.7 12.2,13.4 6.1,13.3 0,12.4" fill="#FFFFFF"/><polygon points="0,12.3 6.1,13.2 12.2,13.3 18.2,12.5 24.3,11.3 30.4,10 36.5,9.4 42.5,9.6 48.6,10.6 48.6,23.2 42.5,22.2 36.5,22 30.4,22.6 24.3,23.9 18.2,25.1 12.2,25.9 6.1,25.8 0,24.9" fill="#C8203C"/><polygon points="0,24.8 6.1,25.7 12.2,25.8 18.2,25 24.3,23.7 30.4,22.5 36.5,21.9 42.5,22.1 48.6,23.1 48.6,26.3 42.5,25.3 36.5,25.1 30.4,25.7 24.3,27 18.2,28.3 12.2,29 6.1,28.9 0,28" fill="#FFFFFF"/><polygon points="0,34.1 0,27.9 6.1,28.8 12.2,28.9 18.2,28.1 24.3,26.9 30.4,25.6 36.5,25 42.5,25.2 48.6,26.2 48.6,32.5 42.5,31.5 36.5,31.2 30.4,31.9 24.3,33.1 18.2,34.4 12.2,35.1 6.1,35" fill="#2F8A3F"/><polygon points="27.2,20.9 24.3,19.5 21.4,22.2 22.4,18.5 19.6,17 23.1,16.1 24.3,12.5 25.5,15.6 29,15 26.2,17.7" fill="#FCD535"/><use href="#pc" class="o"/></g>
<g transform="translate(522.7,1208.4)" opacity="0.72" clip-path="url(#c)"><polygon points="0,2.9 6.1,3.8 12.2,3.9 18.2,3.2 24.3,1.9 30.4,0.7 36.5,0 42.5,0.3 48.6,1.3 48.6,32.5 42.5,31.5 36.5,31.2 30.4,31.9 24.3,33.1 18.2,34.4 12.2,35.1 6.1,35 0,34.1" fill="#2A4FA8"/><polygon points="25.3,23.5 24.3,28.4 21.4,23.8 17.5,22 17.5,17.3 20.9,15.6 24.3,13.7 28.2,14 32.1,14.4 30.1,20" fill="#D0A650"/><polygon points="14.3,13.2 13.6,12.7 12.9,13.3 13.1,12.4 12.4,11.9 13.3,11.9 13.6,11 13.9,11.8 14.8,11.7 14.1,12.3" fill="#FFFFFF"/><polygon points="18.6,11.6 17.9,11.2 17.2,11.9 17.4,11 16.7,10.5 17.6,10.4 17.9,9.5 18.2,10.3 19.1,10.1 18.4,10.8" fill="#FFFFFF"/><polygon points="22.9,10.2 22.2,9.8 21.4,10.5 21.7,9.6 21,9.2 21.9,9 22.2,8.1 22.5,8.8 23.3,8.7 22.6,9.4" fill="#FFFFFF"/><polygon points="27.2,9.2 26.4,8.9 25.7,9.5 26,8.6 25.3,8.2 26.1,8 26.4,7.1 26.7,7.9 27.6,7.7 26.9,8.4" fill="#FFFFFF"/><polygon points="31.4,9 30.7,8.6 30,9.2 30.2,8.3 29.5,7.9 30.4,7.8 30.7,6.9 31,7.7 31.9,7.6 31.2,8.2" fill="#FFFFFF"/><polygon points="35.7,9.5 35,9 34.3,9.6 34.5,8.7 33.8,8.2 34.7,8.1 35,7.3 35.3,8.1 36.2,8.1 35.5,8.7" fill="#FFFFFF"/><use href="#pc" class="o"/></g>
<g transform="translate(580.7,1209.4)" opacity="0.72" clip-path="url(#c)"><polygon points="0,2.9 6.1,3.8 12.2,3.9 18.2,3.2 24.3,1.9 30.4,0.7 36.5,0 42.5,0.3 48.6,1.3 48.6,32.5 42.5,31.5 36.5,31.2 30.4,31.9 24.3,33.1 18.2,34.4 12.2,35.1 6.1,35 0,34.1" fill="#1F3F9A"/><polygon points="0,2.9 6.1,3.8 12.2,3.9 18.2,3.2 24.3,1.9 30.4,0.7 36.5,0 42.5,0.3 48.6,1.3 48.6,3.8 42.5,2.8 36.5,2.5 30.4,3.2 24.3,4.4 18.2,5.7 12.2,6.4 6.1,6.3 0,5.4" fill="#D8213F"/><polygon points="0,31.6 6.1,32.5 12.2,32.6 18.2,31.9 24.3,30.6 30.4,29.4 36.5,28.7 42.5,29 48.6,30 48.6,32.5 42.5,31.5 36.5,31.2 30.4,31.9 24.3,33.1 18.2,34.4 12.2,35.1 6.1,35 0,34.1" fill="#D8213F"/><polygon points="24.3,28.7 20,28.8 16.4,27 13.9,23.7 13.1,19.5 13.9,15.1 16.4,11.1 20,8 24.3,6.3 28.6,6.2 32.2,8 34.7,11.4 35.5,15.7 34.7,20 32.2,23.9 28.6,27" fill="#FFFFFF"/><polygon points="24.3,26.9 20.7,26.9 17.7,25.5 15.7,22.8 14.9,19.3 15.7,15.6 17.7,12.2 20.7,9.6 24.3,8.1 27.9,8.1 30.9,9.6 32.9,12.3 33.7,15.8 32.9,19.5 30.9,22.8 27.9,25.4" fill="#5A9A5A"/><polygon points="24.3,25 21.4,25 19,23.9 17.4,21.8 16.8,19 17.4,16 19,13.3 21.4,11.2 24.3,10 27.2,10 29.6,11.1 31.2,13.3 31.8,16 31.2,19 29.6,21.7 27.2,23.8" fill="#FFFFFF"/><use href="#pc" class="o"/></g>
<g transform="translate(612.7,1207.4)" opacity="0.72" clip-path="url(#c)"><polygon points="0,2.9 6.1,3.8 12.2,3.9 18.2,3.2 24.3,1.9 30.4,0.7 36.5,0 42.5,0.3 48.6,1.3 48.6,32.5 42.5,31.5 36.5,31.2 30.4,31.9 24.3,33.1 18.2,34.4 12.2,35.1 6.1,35 0,34.1" fill="#DE2230"/><polygon points="11,16.2 8.3,14.3 5.5,16 6.5,12.9 3.8,10.6 7.2,10.8 8.3,7.7 9.4,10.9 12.7,10.9 10,13" fill="#FCD535"/><polygon points="17,7.8 16,7.3 15.1,8 15.4,6.9 14.6,6.4 15.7,6.2 16,5.1 16.4,6.1 17.5,5.9 16.6,6.7" fill="#FCD535"/><polygon points="20.4,10.9 19.4,10.4 18.5,11.2 18.8,10.1 18,9.6 19.1,9.4 19.4,8.2 19.8,9.2 20.9,9 20,9.9" fill="#FCD535"/><polygon points="20.4,15.9 19.4,15.4 18.5,16.2 18.8,15.1 18,14.6 19.1,14.4 19.4,13.2 19.8,14.2 20.9,14 20,14.9" fill="#FCD535"/><polygon points="17,20.2 16,19.7 15.1,20.5 15.4,19.4 14.6,18.8 15.7,18.7 16,17.6 16.4,18.6 17.5,18.4 16.6,19.2" fill="#FCD535"/><use href="#pc" class="o"/></g>
<g transform="translate(692.7,1208.9)" opacity="0.72" clip-path="url(#c)"><polygon points="0,2.9 5.3,3.8 10.7,4 16,3.5 10.7,14.4 5.3,24.6 0,34.1" fill="#1F3F9A"/><polygon points="16,3.5 21.5,2.5 27.1,1.3 32.6,0.3 27.1,6.5 21.7,12.9 16.3,19.1 10.9,24.8 5.4,29.8 0,34.1 5.3,24.6 10.7,14.4" fill="#FCD535"/><polygon points="0,34.1 5.4,29.8 10.9,24.8 16.3,19.1 21.7,12.9 27.1,6.5 32.6,0.3 37.9,0 43.3,0.3 48.6,1.3 48.6,11.6 42.5,13.2 36.5,15.5 30.4,18.8 24.3,22.6 18.2,26.5 12.2,29.9 6.1,32.4" fill="#D8213F"/><polygon points="48.6,11.6 48.6,22.2 42.5,22.4 36.5,23.5 30.4,25.4 24.3,27.9 18.2,30.5 12.2,32.6 6.1,33.8 0,34.1 6.1,32.4 12.2,29.9 18.2,26.5 24.3,22.6 30.4,18.8 36.5,15.5 42.5,13.2" fill="#FFFFFF"/><polygon points="48.6,22.2 48.6,32.5 42.5,31.5 36.5,31.2 30.4,31.9 24.3,33.1 18.2,34.4 12.2,35.1 6.1,35 0,34.1 6.1,33.8 12.2,32.6 18.2,30.5 24.3,27.9 30.4,25.4 36.5,23.5 42.5,22.4" fill="#0E8A4A"/><use href="#pc" class="o"/></g>
<g transform="translate(1282.7,1107.4)" opacity="0.72" clip-path="url(#c)"><polygon points="0,2.9 6.1,3.8 12.2,3.9 18.2,3.2 24.3,1.9 30.4,0.7 36.5,0 42.5,0.3 48.6,1.3 48.6,17 42.5,16 36.5,15.8 30.4,16.4 24.3,17.6 18.2,18.9 12.2,19.7 6.1,19.6 0,18.7" fill="#FFFFFF"/><polygon points="0,34.1 0,18.5 6.1,19.4 12.2,19.5 18.2,18.8 24.3,17.5 30.4,16.3 36.5,15.6 42.5,15.9 48.6,16.9 48.6,32.5 42.5,31.5 36.5,31.2 30.4,31.9 24.3,33.1 18.2,34.4 12.2,35.1 6.1,35" fill="#3FA8E8"/><polygon points="24.3,23.7 21.9,23.8 19.9,22.9 18.5,21.1 18.1,18.8 18.5,16.3 19.9,14 21.9,12.3 24.3,11.3 26.7,11.2 28.7,12.1 30.1,13.9 30.5,16.2 30.1,18.7 28.7,21 26.7,22.7" fill="#7A9A5A"/><polygon points="24.3,21.2 22.9,21.3 21.7,20.7 20.8,19.7 20.6,18.3 20.8,16.8 21.7,15.4 22.9,14.4 24.3,13.7 25.7,13.7 26.9,14.3 27.8,15.3 28,16.7 27.8,18.2 26.9,19.6 25.7,20.6" fill="#9AB8D0"/><use href="#pc" class="o"/></g>
</g>
<g stroke="#000" stroke-width="7" stroke-linecap="round"><path d="M63.2,26.9 V1306.7 H1342.5" fill="none" stroke-linejoin="round"/><line x1="134.0" y1="1301.3" x2="134.0" y2="1312.1"/><line x1="418.4" y1="1301.3" x2="418.4" y2="1312.1"/><line x1="702.8" y1="1301.3" x2="702.8" y2="1312.1"/><line x1="987.2" y1="1301.3" x2="987.2" y2="1312.1"/><line x1="1271.5" y1="1301.3" x2="1271.5" y2="1312.1"/><line x1="57.6" y1="98.0" x2="68.4" y2="98.0"/><line x1="57.6" y1="667.0" x2="68.4" y2="667.0"/><line x1="57.6" y1="1235.5" x2="68.4" y2="1235.5"/></g>
<g class="t"><text x="135.0" y="1353.6" text-anchor="middle">1 in 10<tspan class="s" dy="-18">6</tspan></text><text x="419.4" y="1353.6" text-anchor="middle">1 in 10<tspan class="s" dy="-18">5</tspan></text><text x="703.8" y="1353.6" text-anchor="middle">1 in 10<tspan class="s" dy="-18">4</tspan></text><text x="988.2" y="1353.6" text-anchor="middle">0.1%</text><text x="1272.5" y="1353.6" text-anchor="middle">1%</text><text class="y" transform="translate(48.8,87.5) rotate(-90)" text-anchor="middle">20%</text><text class="y" transform="translate(48.8,656.5) rotate(-90)" text-anchor="middle">10%</text><text class="y" transform="translate(48.8,1225.0) rotate(-90)" text-anchor="middle">0%</text></g>
</svg>
</body></html>
